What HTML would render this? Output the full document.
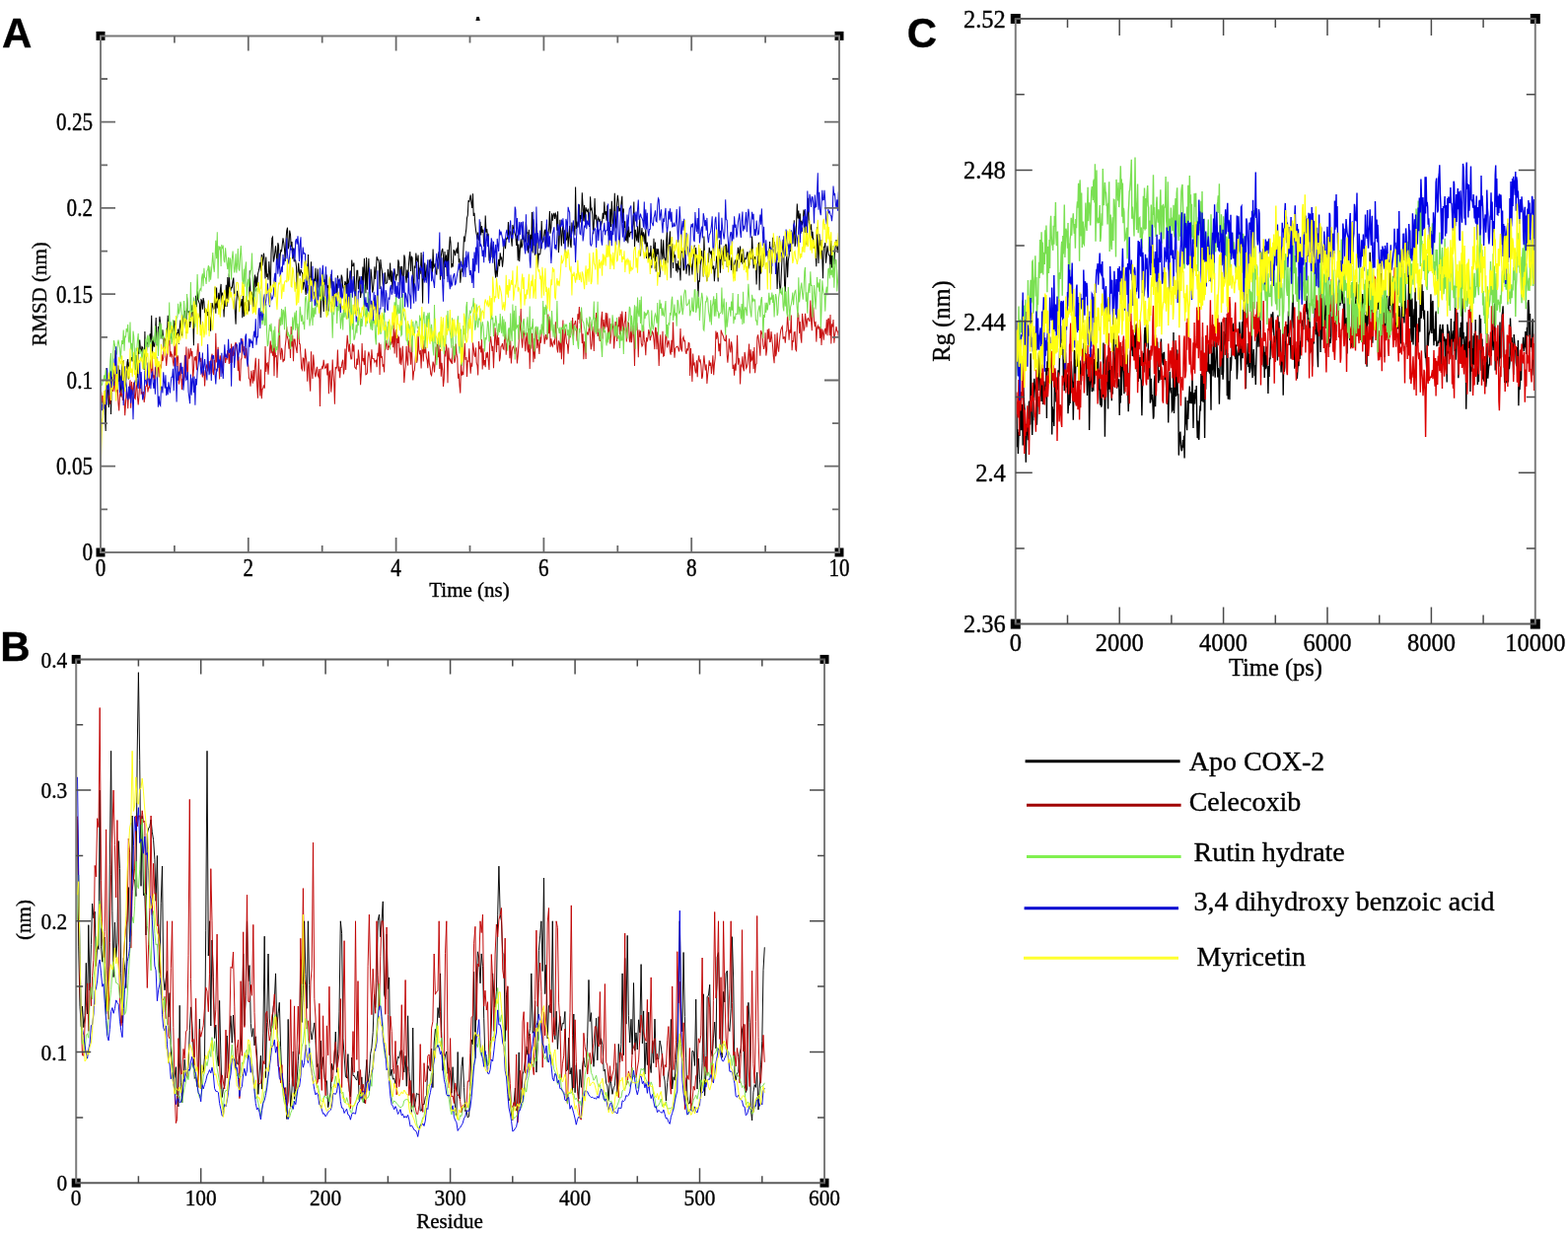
<!DOCTYPE html>
<html><head><meta charset="utf-8"><title>MD analysis plots</title>
<style>html,body{margin:0;padding:0;background:#fff;}svg{display:block;}
text{font-family:"Liberation Serif","Times New Roman",serif;fill:#000;stroke:#000;stroke-width:0.35px;}</style></head>
<body><svg width="1590" height="1250" viewBox="0 0 1590 1250">
<rect width="1590" height="1250" fill="#fff"/>
<defs><clipPath id="cA"><rect x="102.0" y="36.4" width="749.0" height="523.6"/></clipPath><clipPath id="cB"><rect x="77.2" y="668.4" width="758.8" height="530.8000000000001"/></clipPath><clipPath id="cC"><rect x="1029.8" y="19.0" width="527.0" height="613.6"/></clipPath><filter id="bl" x="-2%" y="-2%" width="104%" height="104%"><feGaussianBlur stdDeviation="1.0"/></filter></defs>
<g clip-path="url(#cA)"><polyline points="102.0,414.6 102.7,408.8 103.5,405.2 104.2,408.6 105.0,403.5 105.7,405.6 106.5,421.5 107.2,437.1 108.0,373.0 108.7,392.3 109.5,396.1 110.2,413.1 111.0,404.9 111.7,375.5 112.5,420.1 113.2,390.8 114.0,374.5 114.7,381.8 115.5,374.5 116.2,381.1 117.0,354.9 117.7,395.0 118.5,396.3 119.2,379.2 120.0,370.4 120.7,387.0 121.5,374.7 122.2,393.3 123.0,402.5 123.7,372.5 124.5,366.6 125.2,366.0 126.0,387.7 126.7,392.8 127.5,389.5 128.2,378.7 129.0,367.1 129.7,364.0 130.5,384.4 131.2,367.7 132.0,367.5 132.7,364.9 133.5,362.2 134.2,366.5 135.0,358.5 135.7,364.4 136.5,366.5 137.2,374.6 138.0,360.0 138.7,366.3 139.4,383.1 140.2,352.5 140.9,358.6 141.7,344.5 142.4,353.9 143.2,356.7 143.9,351.6 144.7,352.3 145.4,361.6 146.2,374.9 146.9,335.9 147.7,370.5 148.4,357.9 149.2,346.6 149.9,348.2 150.7,348.1 151.4,343.9 152.2,338.4 152.9,347.1 153.7,319.8 154.4,359.1 155.2,344.0 155.9,350.9 156.7,351.2 157.4,339.0 158.2,322.0 158.9,349.9 159.7,347.7 160.4,331.1 161.2,333.4 161.9,320.7 162.7,327.4 163.4,339.2 164.2,343.5 164.9,334.2 165.7,342.5 166.4,355.9 167.2,344.1 167.9,345.0 168.7,341.3 169.4,338.1 170.2,319.8 170.9,331.9 171.7,327.3 172.4,339.8 173.2,343.3 173.9,337.3 174.7,330.7 175.4,337.0 176.2,335.6 176.9,324.7 177.6,330.4 178.4,343.2 179.1,337.1 179.9,339.7 180.6,333.6 181.4,348.7 182.1,334.0 182.9,324.5 183.6,334.7 184.4,340.5 185.1,335.4 185.9,321.5 186.6,317.6 187.4,315.0 188.1,329.3 188.9,338.0 189.6,301.5 190.4,316.0 191.1,316.4 191.9,315.6 192.6,332.0 193.4,324.5 194.1,318.7 194.9,309.2 195.6,316.3 196.4,350.3 197.1,316.5 197.9,311.0 198.6,299.7 199.4,311.2 200.1,295.2 200.9,303.9 201.6,305.8 202.4,308.2 203.1,331.6 203.9,303.7 204.6,304.2 205.4,313.7 206.1,302.1 206.9,305.8 207.6,317.2 208.4,314.4 209.1,318.3 209.9,313.6 210.6,320.1 211.4,308.1 212.1,334.9 212.9,321.4 213.6,335.8 214.3,321.2 215.1,307.0 215.8,310.5 216.6,313.3 217.3,312.7 218.1,290.8 218.8,317.7 219.6,291.6 220.3,312.5 221.1,304.1 221.8,296.8 222.6,307.0 223.3,294.6 224.1,287.9 224.8,308.7 225.6,296.5 226.3,304.0 227.1,321.4 227.8,304.5 228.6,310.7 229.3,288.8 230.1,311.1 230.8,281.0 231.6,304.6 232.3,277.2 233.1,292.4 233.8,294.7 234.6,291.4 235.3,291.6 236.1,285.1 236.8,281.6 237.6,302.6 238.3,315.9 239.1,328.7 239.8,305.8 240.6,294.9 241.3,299.2 242.1,303.0 242.8,306.7 243.6,310.8 244.3,309.0 245.1,303.0 245.8,322.2 246.6,294.7 247.3,321.0 248.1,306.3 248.8,314.9 249.6,306.6 250.3,317.4 251.1,316.5 251.8,304.3 252.5,315.5 253.3,274.3 254.0,300.9 254.8,300.5 255.5,296.9 256.3,298.4 257.0,311.6 257.8,285.6 258.5,278.6 259.3,295.4 260.0,280.3 260.8,290.0 261.5,277.5 262.3,274.7 263.0,271.0 263.8,265.9 264.5,274.8 265.3,258.0 266.0,269.5 266.8,261.0 267.5,256.7 268.3,266.7 269.0,282.5 269.8,260.4 270.5,280.7 271.3,278.8 272.0,283.7 272.8,265.1 273.5,276.6 274.3,295.2 275.0,257.1 275.8,241.5 276.5,240.3 277.3,265.6 278.0,262.5 278.8,256.1 279.5,249.4 280.3,258.7 281.0,268.8 281.8,246.2 282.5,248.9 283.3,272.4 284.0,261.0 284.8,253.1 285.5,255.3 286.3,247.8 287.0,241.3 287.8,246.3 288.5,252.8 289.2,265.0 290.0,243.5 290.7,234.0 291.5,230.7 292.2,252.4 293.0,249.3 293.7,233.6 294.5,237.6 295.2,250.1 296.0,245.1 296.7,262.4 297.5,251.6 298.2,265.2 299.0,263.5 299.7,264.1 300.5,270.1 301.2,293.0 302.0,277.9 302.7,266.5 303.5,275.9 304.2,279.7 305.0,273.0 305.7,275.9 306.5,276.3 307.2,293.8 308.0,283.4 308.7,287.1 309.5,293.2 310.2,298.9 311.0,284.8 311.7,290.6 312.5,258.0 313.2,282.1 314.0,282.6 314.7,287.7 315.5,265.2 316.2,291.8 317.0,283.0 317.7,290.7 318.5,283.4 319.2,284.1 320.0,271.7 320.7,301.2 321.5,285.8 322.2,272.5 323.0,292.3 323.7,290.5 324.5,302.6 325.2,322.1 326.0,296.0 326.7,282.0 327.4,302.5 328.2,315.9 328.9,283.3 329.7,288.7 330.4,277.8 331.2,279.5 331.9,291.8 332.7,289.2 333.4,315.6 334.2,282.5 334.9,292.4 335.7,278.1 336.4,280.2 337.2,294.3 337.9,285.2 338.7,295.5 339.4,311.1 340.2,290.4 340.9,287.5 341.7,298.9 342.4,279.3 343.2,287.9 343.9,283.6 344.7,290.1 345.4,298.2 346.2,278.6 346.9,281.1 347.7,291.4 348.4,292.9 349.2,291.7 349.9,285.1 350.7,287.1 351.4,301.6 352.2,271.7 352.9,297.2 353.7,284.4 354.4,281.4 355.2,274.6 355.9,296.6 356.7,263.5 357.4,269.6 358.2,269.3 358.9,266.5 359.7,290.8 360.4,318.0 361.2,287.8 361.9,274.2 362.7,274.2 363.4,293.1 364.1,285.4 364.9,280.1 365.6,302.0 366.4,296.1 367.1,296.2 367.9,270.6 368.6,290.6 369.4,261.9 370.1,275.5 370.9,297.2 371.6,261.0 372.4,293.8 373.1,276.5 373.9,262.1 374.6,286.6 375.4,293.5 376.1,272.7 376.9,281.7 377.6,296.5 378.4,293.6 379.1,284.7 379.9,270.3 380.6,283.0 381.4,272.9 382.1,260.2 382.9,263.3 383.6,263.1 384.4,266.8 385.1,293.0 385.9,263.0 386.6,270.4 387.4,274.7 388.1,286.9 388.9,294.4 389.6,288.8 390.4,276.4 391.1,287.5 391.9,287.1 392.6,286.6 393.4,272.9 394.1,279.1 394.9,283.8 395.6,266.5 396.4,285.6 397.1,274.4 397.9,293.4 398.6,277.2 399.4,275.1 400.1,273.6 400.9,279.4 401.6,284.5 402.3,278.6 403.1,279.0 403.8,263.3 404.6,266.6 405.3,289.4 406.1,270.0 406.8,279.8 407.6,269.7 408.3,281.2 409.1,288.0 409.8,258.5 410.6,261.6 411.3,278.7 412.1,286.7 412.8,273.6 413.6,281.6 414.3,270.5 415.1,260.0 415.8,255.0 416.6,274.9 417.3,259.8 418.1,261.5 418.8,281.7 419.6,297.8 420.3,269.6 421.1,271.8 421.8,256.6 422.6,263.8 423.3,264.7 424.1,258.6 424.8,283.2 425.6,271.6 426.3,277.8 427.1,256.1 427.8,272.3 428.6,307.5 429.3,258.0 430.1,284.3 430.8,266.4 431.6,283.5 432.3,275.8 433.1,268.4 433.8,277.1 434.6,289.8 435.3,263.3 436.1,270.8 436.8,271.4 437.6,264.7 438.3,280.0 439.1,252.5 439.8,271.2 440.5,270.1 441.3,267.2 442.0,276.4 442.8,278.6 443.5,264.1 444.3,261.2 445.0,255.4 445.8,264.7 446.5,283.8 447.3,259.6 448.0,254.4 448.8,252.0 449.5,259.8 450.3,283.0 451.0,255.0 451.8,270.9 452.5,258.6 453.3,280.0 454.0,252.9 454.8,273.8 455.5,250.9 456.3,239.9 457.0,245.9 457.8,271.5 458.5,267.2 459.3,270.6 460.0,253.6 460.8,254.1 461.5,259.2 462.3,254.7 463.0,252.6 463.8,256.9 464.5,245.5 465.3,266.3 466.0,262.2 466.8,286.8 467.5,277.5 468.3,272.0 469.0,275.7 469.8,254.9 470.5,239.5 471.3,245.1 472.0,238.0 472.8,232.1 473.5,221.1 474.3,218.1 475.0,203.8 475.8,204.2 476.5,201.3 477.2,197.6 478.0,206.1 478.7,210.9 479.5,196.3 480.2,218.9 481.0,215.7 481.7,225.8 482.5,233.4 483.2,237.2 484.0,242.8 484.7,235.5 485.5,243.5 486.2,241.3 487.0,224.7 487.7,238.5 488.5,229.1 489.2,235.9 490.0,232.7 490.7,250.0 491.5,246.2 492.2,218.4 493.0,235.6 493.7,232.1 494.5,239.6 495.2,238.3 496.0,263.3 496.7,262.2 497.5,251.7 498.2,245.6 499.0,259.5 499.7,258.3 500.5,260.0 501.2,261.7 502.0,276.0 502.7,281.6 503.5,264.6 504.2,280.7 505.0,270.0 505.7,262.9 506.5,270.0 507.2,256.4 508.0,262.2 508.7,260.5 509.5,270.6 510.2,263.6 511.0,246.0 511.7,244.0 512.5,252.1 513.2,242.9 514.0,241.3 514.7,241.9 515.4,224.9 516.2,242.5 516.9,234.3 517.7,235.3 518.4,241.8 519.2,249.8 519.9,227.9 520.7,231.7 521.4,232.3 522.2,237.1 522.9,239.6 523.7,249.0 524.4,238.4 525.2,264.2 525.9,247.5 526.7,265.1 527.4,252.1 528.2,242.3 528.9,251.4 529.7,248.6 530.4,237.7 531.2,242.4 531.9,242.9 532.7,245.4 533.4,225.1 534.2,236.4 534.9,235.8 535.7,256.4 536.4,232.8 537.2,251.7 537.9,237.7 538.7,252.4 539.4,215.0 540.2,256.4 540.9,222.3 541.7,231.6 542.4,258.8 543.2,246.4 543.9,226.7 544.7,234.7 545.4,271.5 546.2,257.4 546.9,258.0 547.7,257.8 548.4,251.3 549.2,224.0 549.9,243.2 550.7,245.2 551.4,241.9 552.1,234.4 552.9,232.6 553.6,249.2 554.4,227.1 555.1,250.5 555.9,236.8 556.6,231.8 557.4,214.0 558.1,236.7 558.9,230.7 559.6,216.3 560.4,223.6 561.1,218.1 561.9,215.8 562.6,221.9 563.4,216.7 564.1,218.5 564.9,233.8 565.6,214.2 566.4,256.1 567.1,244.9 567.9,222.7 568.6,234.5 569.4,249.5 570.1,234.1 570.9,229.0 571.6,247.2 572.4,233.3 573.1,239.9 573.9,243.7 574.6,242.3 575.4,228.8 576.1,250.4 576.9,239.9 577.6,228.9 578.4,247.6 579.1,251.2 579.9,225.6 580.6,231.0 581.4,233.1 582.1,228.7 582.9,238.5 583.6,189.4 584.4,232.1 585.1,224.5 585.9,230.7 586.6,224.7 587.4,207.3 588.1,225.4 588.9,218.1 589.6,222.0 590.3,195.2 591.1,209.1 591.8,224.3 592.6,207.9 593.3,225.1 594.1,210.4 594.8,213.6 595.6,214.4 596.3,211.5 597.1,226.7 597.8,229.9 598.6,199.2 599.3,213.3 600.1,211.6 600.8,217.5 601.6,237.3 602.3,226.9 603.1,201.0 603.8,222.4 604.6,217.8 605.3,230.7 606.1,222.8 606.8,220.5 607.6,224.0 608.3,223.0 609.1,229.8 609.8,227.3 610.6,224.3 611.3,215.9 612.1,221.9 612.8,204.6 613.6,217.6 614.3,214.0 615.1,223.8 615.8,208.3 616.6,230.7 617.3,239.1 618.1,233.0 618.8,211.7 619.6,230.1 620.3,203.8 621.1,217.7 621.8,234.5 622.6,219.1 623.3,195.8 624.1,226.1 624.8,231.4 625.6,206.3 626.3,197.8 627.0,203.3 627.8,214.4 628.5,210.9 629.3,214.3 630.0,205.2 630.8,198.8 631.5,226.0 632.3,211.4 633.0,231.0 633.8,224.3 634.5,243.3 635.3,244.0 636.0,229.2 636.8,246.4 637.5,229.5 638.3,240.5 639.0,236.2 639.8,235.1 640.5,235.5 641.3,232.2 642.0,226.7 642.8,204.5 643.5,250.2 644.3,232.7 645.0,238.7 645.8,244.5 646.5,229.2 647.3,245.9 648.0,234.7 648.8,221.4 649.5,259.4 650.3,237.0 651.0,231.1 651.8,245.2 652.5,235.3 653.3,238.2 654.0,247.4 654.8,232.2 655.5,261.9 656.3,245.5 657.0,253.0 657.8,264.7 658.5,256.3 659.3,259.7 660.0,248.9 660.8,271.8 661.5,256.8 662.3,261.4 663.0,241.8 663.8,271.9 664.5,245.6 665.2,275.5 666.0,251.9 666.7,257.7 667.5,252.4 668.2,263.1 669.0,281.0 669.7,271.9 670.5,242.5 671.2,255.4 672.0,263.1 672.7,243.2 673.5,260.8 674.2,262.2 675.0,271.2 675.7,244.5 676.5,232.6 677.2,266.5 678.0,249.3 678.7,244.9 679.5,234.4 680.2,281.8 681.0,254.2 681.7,246.9 682.5,271.9 683.2,254.2 684.0,261.3 684.7,258.3 685.5,274.7 686.2,267.0 687.0,276.4 687.7,264.2 688.5,273.4 689.2,271.7 690.0,284.4 690.7,253.8 691.5,255.5 692.2,254.4 693.0,273.8 693.7,273.7 694.5,253.8 695.2,260.2 696.0,277.8 696.7,269.8 697.5,268.0 698.2,268.0 699.0,279.4 699.7,256.1 700.5,266.4 701.2,268.7 701.9,278.4 702.7,265.2 703.4,259.5 704.2,248.6 704.9,267.7 705.7,251.0 706.4,264.9 707.2,277.7 707.9,301.3 708.7,284.2 709.4,285.7 710.2,269.2 710.9,263.2 711.7,254.1 712.4,267.5 713.2,280.4 713.9,239.6 714.7,264.4 715.4,277.9 716.2,279.0 716.9,285.1 717.7,262.5 718.4,266.1 719.2,250.9 719.9,255.3 720.7,257.0 721.4,254.4 722.2,271.0 722.9,272.2 723.7,269.5 724.4,285.3 725.2,272.6 725.9,272.0 726.7,259.6 727.4,265.9 728.2,285.4 728.9,258.2 729.7,243.3 730.4,276.7 731.2,261.0 731.9,253.7 732.7,268.8 733.4,258.8 734.2,249.2 734.9,264.9 735.7,248.1 736.4,248.1 737.2,270.7 737.9,254.9 738.6,245.4 739.4,264.4 740.1,258.8 740.9,261.6 741.6,273.9 742.4,260.8 743.1,269.7 743.9,281.8 744.6,269.2 745.4,264.6 746.1,263.5 746.9,275.3 747.6,261.2 748.4,250.9 749.1,263.4 749.9,253.4 750.6,249.5 751.4,266.0 752.1,257.2 752.9,267.8 753.6,252.5 754.4,265.8 755.1,265.4 755.9,261.8 756.6,262.2 757.4,257.0 758.1,255.2 758.9,272.4 759.6,266.7 760.4,254.3 761.1,258.1 761.9,263.2 762.6,239.5 763.4,255.8 764.1,272.3 764.9,266.3 765.6,260.0 766.4,266.9 767.1,288.5 767.9,268.1 768.6,265.3 769.4,245.7 770.1,294.3 770.9,258.7 771.6,277.6 772.4,262.4 773.1,270.0 773.9,268.5 774.6,251.7 775.4,259.4 776.1,247.3 776.8,259.2 777.6,257.0 778.3,255.6 779.1,260.7 779.8,256.7 780.6,244.9 781.3,271.5 782.1,277.7 782.8,259.5 783.6,240.7 784.3,251.0 785.1,245.0 785.8,248.9 786.6,268.3 787.3,263.6 788.1,292.9 788.8,273.0 789.6,260.0 790.3,285.4 791.1,296.7 791.8,289.3 792.6,270.4 793.3,256.4 794.1,242.7 794.8,258.2 795.6,289.5 796.3,295.9 797.1,268.0 797.8,257.4 798.6,281.3 799.3,264.4 800.1,259.5 800.8,254.5 801.6,254.5 802.3,245.3 803.1,241.0 803.8,247.1 804.6,237.4 805.3,223.2 806.1,250.0 806.8,246.5 807.6,225.7 808.3,206.5 809.1,221.5 809.8,213.5 810.6,231.0 811.3,216.4 812.1,236.6 812.8,223.7 813.5,227.1 814.3,224.8 815.0,212.6 815.8,215.6 816.5,236.1 817.3,219.7 818.0,248.3 818.8,221.5 819.5,200.7 820.3,225.4 821.0,229.6 821.8,233.0 822.5,227.3 823.3,241.4 824.0,234.9 824.8,246.5 825.5,251.9 826.3,249.5 827.0,257.2 827.8,270.2 828.5,230.1 829.3,250.2 830.0,267.0 830.8,237.3 831.5,248.1 832.3,249.3 833.0,243.3 833.8,261.5 834.5,282.2 835.3,250.6 836.0,250.1 836.8,246.0 837.5,266.7 838.3,258.4 839.0,249.2 839.8,255.0 840.5,258.8 841.3,259.1 842.0,272.7 842.8,244.0 843.5,271.4 844.3,258.8 845.0,262.1 845.8,268.2 846.5,255.9 847.3,249.1 848.0,243.0 848.8,251.7 849.5,256.1 850.3,242.2 851.0,266.3" fill="none" stroke="#000000" stroke-width="1.05" stroke-opacity="1.0"/><polyline points="102.0,399.1 102.7,397.4 103.5,407.7 104.2,401.1 105.0,407.6 105.7,413.1 106.5,396.1 107.2,407.7 108.0,403.4 108.7,380.0 109.5,388.3 110.2,389.9 111.0,402.4 111.7,409.7 112.5,381.8 113.2,395.9 114.0,393.1 114.7,396.9 115.5,392.7 116.2,369.3 117.0,396.7 117.7,398.3 118.5,392.6 119.2,393.4 120.0,409.3 120.7,416.4 121.5,400.1 122.2,395.5 123.0,401.2 123.7,399.1 124.5,405.9 125.2,402.5 126.0,406.0 126.7,421.3 127.5,407.6 128.2,395.4 129.0,399.2 129.7,414.2 130.5,398.1 131.2,393.4 132.0,385.3 132.7,413.7 133.5,387.0 134.2,400.3 135.0,393.8 135.7,387.5 136.5,403.2 137.2,404.2 138.0,393.0 138.7,386.3 139.4,402.4 140.2,410.5 140.9,401.9 141.7,389.5 142.4,381.7 143.2,399.0 143.9,398.0 144.7,400.2 145.4,397.1 146.2,408.0 146.9,402.5 147.7,391.9 148.4,391.5 149.2,383.8 149.9,397.4 150.7,393.0 151.4,393.0 152.2,369.1 152.9,364.2 153.7,378.5 154.4,360.6 155.2,382.1 155.9,381.2 156.7,388.4 157.4,372.3 158.2,379.5 158.9,371.0 159.7,366.1 160.4,371.9 161.2,382.5 161.9,369.7 162.7,371.3 163.4,372.5 164.2,359.2 164.9,366.0 165.7,362.8 166.4,342.6 167.2,348.3 167.9,359.9 168.7,371.0 169.4,362.6 170.2,354.1 170.9,348.1 171.7,335.6 172.4,361.8 173.2,356.2 173.9,361.3 174.7,359.7 175.4,366.7 176.2,371.4 176.9,350.6 177.6,360.4 178.4,348.6 179.1,371.6 179.9,360.2 180.6,362.1 181.4,389.6 182.1,384.9 182.9,367.9 183.6,374.7 184.4,394.9 185.1,383.8 185.9,390.1 186.6,383.5 187.4,359.7 188.1,382.8 188.9,351.6 189.6,375.2 190.4,379.8 191.1,353.4 191.9,363.7 192.6,360.6 193.4,353.1 194.1,361.3 194.9,355.9 195.6,384.7 196.4,375.2 197.1,361.6 197.9,365.3 198.6,361.1 199.4,375.3 200.1,356.2 200.9,348.0 201.6,364.5 202.4,361.7 203.1,366.8 203.9,362.9 204.6,376.1 205.4,382.5 206.1,375.4 206.9,375.4 207.6,391.4 208.4,376.8 209.1,372.0 209.9,369.3 210.6,376.5 211.4,369.8 212.1,366.1 212.9,378.9 213.6,368.3 214.3,362.2 215.1,358.7 215.8,377.0 216.6,380.1 217.3,364.9 218.1,375.4 218.8,337.7 219.6,366.9 220.3,366.5 221.1,351.9 221.8,363.3 222.6,384.5 223.3,360.4 224.1,369.2 224.8,366.1 225.6,378.4 226.3,370.0 227.1,361.0 227.8,358.8 228.6,368.0 229.3,363.3 230.1,364.0 230.8,355.0 231.6,359.4 232.3,368.9 233.1,354.4 233.8,367.9 234.6,348.4 235.3,367.8 236.1,351.4 236.8,360.9 237.6,358.3 238.3,349.6 239.1,347.0 239.8,353.0 240.6,356.8 241.3,376.1 242.1,361.5 242.8,385.3 243.6,385.8 244.3,364.7 245.1,362.8 245.8,343.3 246.6,352.1 247.3,351.6 248.1,362.7 248.8,363.0 249.6,352.9 250.3,362.3 251.1,365.8 251.8,370.8 252.5,383.7 253.3,384.4 254.0,391.8 254.8,375.9 255.5,381.7 256.3,388.6 257.0,375.1 257.8,386.5 258.5,372.1 259.3,362.7 260.0,377.2 260.8,393.1 261.5,403.7 262.3,363.7 263.0,384.4 263.8,401.5 264.5,374.4 265.3,404.3 266.0,394.7 266.8,393.6 267.5,390.3 268.3,393.7 269.0,351.1 269.8,376.9 270.5,368.8 271.3,367.8 272.0,379.6 272.8,367.7 273.5,354.6 274.3,345.5 275.0,358.3 275.8,349.5 276.5,360.6 277.3,346.4 278.0,381.3 278.8,348.2 279.5,362.1 280.3,360.1 281.0,383.1 281.8,363.9 282.5,342.3 283.3,323.6 284.0,357.3 284.8,364.6 285.5,352.8 286.3,355.7 287.0,367.2 287.8,364.6 288.5,365.0 289.2,351.2 290.0,344.3 290.7,331.1 291.5,342.4 292.2,344.6 293.0,353.7 293.7,343.3 294.5,363.1 295.2,331.1 296.0,351.5 296.7,339.9 297.5,366.3 298.2,344.1 299.0,344.1 299.7,350.0 300.5,354.2 301.2,357.9 302.0,331.7 302.7,333.8 303.5,348.5 304.2,348.7 305.0,361.0 305.7,373.4 306.5,375.0 307.2,362.9 308.0,363.5 308.7,376.5 309.5,353.5 310.2,361.1 311.0,368.2 311.7,386.8 312.5,370.2 313.2,366.4 314.0,386.5 314.7,396.7 315.5,356.3 316.2,374.2 317.0,384.0 317.7,359.6 318.5,368.8 319.2,378.7 320.0,382.3 320.7,376.2 321.5,371.8 322.2,380.4 323.0,382.0 323.7,374.0 324.5,411.9 325.2,374.2 326.0,374.1 326.7,371.7 327.4,373.1 328.2,364.8 328.9,371.0 329.7,373.5 330.4,372.6 331.2,368.6 331.9,380.5 332.7,368.2 333.4,399.2 334.2,377.2 334.9,376.2 335.7,397.6 336.4,389.1 337.2,364.5 337.9,379.1 338.7,388.0 339.4,409.7 340.2,371.9 340.9,373.6 341.7,372.0 342.4,354.5 343.2,376.3 343.9,371.6 344.7,383.1 345.4,372.4 346.2,372.4 346.9,367.3 347.7,364.7 348.4,379.4 349.2,374.2 349.9,353.4 350.7,374.9 351.4,352.7 352.2,339.9 352.9,348.3 353.7,356.7 354.4,348.5 355.2,358.2 355.9,363.9 356.7,363.8 357.4,348.3 358.2,356.5 358.9,349.4 359.7,372.0 360.4,373.1 361.2,374.0 361.9,363.5 362.7,369.9 363.4,354.5 364.1,361.8 364.9,371.4 365.6,390.3 366.4,377.3 367.1,348.0 367.9,366.3 368.6,363.0 369.4,370.1 370.1,355.3 370.9,379.8 371.6,379.5 372.4,378.1 373.1,362.1 373.9,356.5 374.6,360.0 375.4,366.7 376.1,377.7 376.9,354.3 377.6,363.1 378.4,363.7 379.1,363.6 379.9,367.2 380.6,365.8 381.4,365.2 382.1,372.1 382.9,357.8 383.6,361.3 384.4,347.5 385.1,379.9 385.9,348.7 386.6,362.2 387.4,361.7 388.1,371.7 388.9,369.3 389.6,377.4 390.4,346.2 391.1,354.5 391.9,345.9 392.6,346.6 393.4,354.9 394.1,351.1 394.9,351.7 395.6,338.9 396.4,349.6 397.1,347.6 397.9,340.7 398.6,352.2 399.4,326.6 400.1,358.4 400.9,337.8 401.6,333.9 402.3,362.6 403.1,339.5 403.8,348.0 404.6,341.3 405.3,368.7 406.1,352.5 406.8,370.1 407.6,363.0 408.3,350.8 409.1,367.5 409.8,388.1 410.6,377.3 411.3,371.3 412.1,350.9 412.8,365.3 413.6,370.6 414.3,345.2 415.1,356.9 415.8,357.4 416.6,369.7 417.3,344.8 418.1,367.8 418.8,385.5 419.6,376.6 420.3,375.5 421.1,364.9 421.8,355.2 422.6,367.8 423.3,364.8 424.1,335.0 424.8,354.9 425.6,359.5 426.3,355.1 427.1,373.4 427.8,355.5 428.6,349.2 429.3,366.6 430.1,344.8 430.8,358.2 431.6,351.7 432.3,362.0 433.1,365.1 433.8,373.1 434.6,356.4 435.3,368.1 436.1,372.2 436.8,379.3 437.6,380.7 438.3,374.9 439.1,366.5 439.8,369.4 440.5,377.5 441.3,366.3 442.0,351.5 442.8,365.0 443.5,344.3 444.3,362.3 445.0,349.3 445.8,373.9 446.5,353.7 447.3,381.8 448.0,367.8 448.8,375.1 449.5,391.9 450.3,384.0 451.0,355.6 451.8,361.5 452.5,348.8 453.3,356.2 454.0,388.2 454.8,352.6 455.5,363.1 456.3,365.9 457.0,364.1 457.8,367.9 458.5,368.3 459.3,349.9 460.0,351.8 460.8,367.8 461.5,365.7 462.3,348.6 463.0,359.2 463.8,362.9 464.5,383.7 465.3,378.7 466.0,391.0 466.8,398.6 467.5,366.9 468.3,380.6 469.0,377.9 469.8,380.2 470.5,361.7 471.3,347.9 472.0,364.8 472.8,362.0 473.5,382.0 474.3,366.0 475.0,366.4 475.8,353.3 476.5,367.8 477.2,378.8 478.0,367.9 478.7,371.7 479.5,347.4 480.2,352.7 481.0,359.9 481.7,361.7 482.5,352.4 483.2,368.0 484.0,370.6 484.7,380.4 485.5,346.0 486.2,353.9 487.0,352.0 487.7,357.4 488.5,343.9 489.2,374.6 490.0,353.2 490.7,370.4 491.5,365.1 492.2,372.2 493.0,357.4 493.7,362.8 494.5,356.8 495.2,365.4 496.0,374.9 496.7,349.4 497.5,341.1 498.2,346.9 499.0,355.9 499.7,350.8 500.5,373.3 501.2,354.4 502.0,332.3 502.7,343.3 503.5,357.1 504.2,336.7 505.0,349.9 505.7,342.1 506.5,366.3 507.2,362.7 508.0,351.1 508.7,351.0 509.5,348.1 510.2,353.6 511.0,354.4 511.7,340.8 512.5,336.1 513.2,359.7 514.0,348.3 514.7,346.5 515.4,343.8 516.2,335.4 516.9,363.3 517.7,345.4 518.4,368.5 519.2,355.9 519.9,352.2 520.7,351.2 521.4,353.8 522.2,359.0 522.9,354.0 523.7,352.8 524.4,368.5 525.2,360.4 525.9,351.1 526.7,338.2 527.4,334.3 528.2,312.9 528.9,343.7 529.7,352.6 530.4,338.5 531.2,335.0 531.9,342.5 532.7,356.2 533.4,345.0 534.2,337.2 534.9,353.9 535.7,357.4 536.4,333.1 537.2,374.1 537.9,349.4 538.7,353.5 539.4,337.8 540.2,347.3 540.9,367.3 541.7,343.1 542.4,363.7 543.2,332.6 543.9,332.8 544.7,353.2 545.4,344.4 546.2,349.9 546.9,359.0 547.7,341.6 548.4,347.8 549.2,337.6 549.9,335.0 550.7,330.3 551.4,334.1 552.1,348.8 552.9,343.9 553.6,339.2 554.4,344.0 555.1,343.1 555.9,318.4 556.6,338.2 557.4,321.6 558.1,351.7 558.9,343.4 559.6,349.4 560.4,351.0 561.1,347.2 561.9,345.5 562.6,349.6 563.4,326.3 564.1,338.1 564.9,353.4 565.6,357.4 566.4,345.4 567.1,347.7 567.9,357.6 568.6,337.0 569.4,364.3 570.1,348.5 570.9,324.6 571.6,369.6 572.4,344.9 573.1,333.4 573.9,341.2 574.6,348.2 575.4,349.3 576.1,358.6 576.9,345.9 577.6,335.0 578.4,342.2 579.1,336.2 579.9,332.9 580.6,322.1 581.4,343.8 582.1,329.0 582.9,327.7 583.6,325.1 584.4,333.0 585.1,345.6 585.9,318.2 586.6,324.0 587.4,311.1 588.1,328.0 588.9,316.2 589.6,333.4 590.3,348.1 591.1,338.3 591.8,364.3 592.6,346.8 593.3,347.0 594.1,364.1 594.8,336.6 595.6,337.3 596.3,339.7 597.1,334.7 597.8,325.9 598.6,344.2 599.3,354.3 600.1,349.1 600.8,331.0 601.6,339.5 602.3,356.1 603.1,325.5 603.8,332.2 604.6,317.1 605.3,322.5 606.1,340.9 606.8,333.4 607.6,342.9 608.3,345.9 609.1,336.0 609.8,323.3 610.6,315.9 611.3,343.5 612.1,324.1 612.8,334.0 613.6,330.1 614.3,317.0 615.1,331.6 615.8,317.4 616.6,336.7 617.3,340.9 618.1,322.5 618.8,348.6 619.6,340.0 620.3,328.4 621.1,328.1 621.8,333.6 622.6,353.4 623.3,343.7 624.1,326.6 624.8,326.7 625.6,346.1 626.3,329.4 627.0,331.3 627.8,321.3 628.5,339.4 629.3,318.2 630.0,336.0 630.8,315.6 631.5,325.1 632.3,344.8 633.0,328.8 633.8,324.4 634.5,316.0 635.3,346.5 636.0,336.7 636.8,327.1 637.5,327.4 638.3,344.9 639.0,347.1 639.8,330.4 640.5,347.3 641.3,337.1 642.0,330.0 642.8,342.7 643.5,371.0 644.3,330.0 645.0,331.6 645.8,327.3 646.5,337.1 647.3,362.2 648.0,334.3 648.8,341.8 649.5,335.2 650.3,347.9 651.0,351.0 651.8,349.5 652.5,330.2 653.3,344.9 654.0,347.3 654.8,360.3 655.5,342.2 656.3,346.3 657.0,342.2 657.8,334.1 658.5,337.1 659.3,345.2 660.0,341.5 660.8,339.7 661.5,336.3 662.3,337.7 663.0,344.3 663.8,354.1 664.5,332.4 665.2,332.7 666.0,354.2 666.7,336.4 667.5,349.0 668.2,371.1 669.0,349.6 669.7,339.3 670.5,357.2 671.2,358.6 672.0,335.8 672.7,361.2 673.5,360.5 674.2,351.5 675.0,339.9 675.7,340.5 676.5,352.5 677.2,348.6 678.0,345.0 678.7,349.1 679.5,357.1 680.2,359.6 681.0,344.7 681.7,357.0 682.5,326.6 683.2,347.1 684.0,362.8 684.7,353.6 685.5,352.0 686.2,351.4 687.0,351.2 687.7,352.9 688.5,356.5 689.2,351.9 690.0,333.1 690.7,354.1 691.5,355.5 692.2,343.5 693.0,341.5 693.7,345.6 694.5,345.2 695.2,356.3 696.0,358.9 696.7,353.3 697.5,355.4 698.2,347.5 699.0,348.1 699.7,381.0 700.5,352.9 701.2,370.8 701.9,387.1 702.7,358.5 703.4,369.6 704.2,368.3 704.9,376.0 705.7,378.4 706.4,365.3 707.2,382.3 707.9,366.7 708.7,360.2 709.4,366.5 710.2,365.2 710.9,370.8 711.7,384.0 712.4,381.6 713.2,369.0 713.9,360.2 714.7,369.1 715.4,375.4 716.2,369.4 716.9,388.9 717.7,379.3 718.4,374.5 719.2,365.4 719.9,370.9 720.7,367.6 721.4,379.0 722.2,370.8 722.9,360.2 723.7,380.2 724.4,369.6 725.2,362.9 725.9,335.6 726.7,343.8 727.4,336.9 728.2,342.9 728.9,356.1 729.7,348.3 730.4,361.1 731.2,334.6 731.9,336.9 732.7,339.3 733.4,340.8 734.2,344.0 734.9,345.3 735.7,345.5 736.4,339.6 737.2,359.7 737.9,367.8 738.6,358.7 739.4,343.2 740.1,352.8 740.9,357.4 741.6,346.3 742.4,351.7 743.1,374.0 743.9,369.8 744.6,380.8 745.4,368.5 746.1,375.6 746.9,361.0 747.6,339.7 748.4,369.7 749.1,362.9 749.9,366.5 750.6,389.6 751.4,369.4 752.1,370.9 752.9,361.4 753.6,372.6 754.4,376.3 755.1,356.9 755.9,361.7 756.6,373.3 757.4,371.8 758.1,368.6 758.9,358.9 759.6,348.6 760.4,378.6 761.1,354.3 761.9,365.7 762.6,364.6 763.4,356.0 764.1,374.3 764.9,351.9 765.6,378.2 766.4,369.5 767.1,368.7 767.9,342.1 768.6,339.3 769.4,345.3 770.1,352.2 770.9,360.8 771.6,335.0 772.4,337.3 773.1,339.2 773.9,350.2 774.6,353.8 775.4,350.4 776.1,337.2 776.8,360.6 777.6,354.9 778.3,334.0 779.1,343.6 779.8,333.0 780.6,346.6 781.3,346.4 782.1,336.0 782.8,343.7 783.6,351.3 784.3,361.5 785.1,368.3 785.8,338.7 786.6,361.3 787.3,358.4 788.1,337.4 788.8,351.8 789.6,356.7 790.3,347.4 791.1,339.8 791.8,334.6 792.6,332.1 793.3,330.8 794.1,343.8 794.8,341.8 795.6,341.8 796.3,347.8 797.1,336.4 797.8,335.4 798.6,318.6 799.3,329.9 800.1,344.8 800.8,334.2 801.6,337.7 802.3,319.4 803.1,355.2 803.8,345.6 804.6,346.1 805.3,336.8 806.1,336.5 806.8,354.3 807.6,355.6 808.3,334.6 809.1,316.8 809.8,319.4 810.6,337.9 811.3,325.9 812.1,342.8 812.8,347.7 813.5,317.9 814.3,325.2 815.0,335.7 815.8,332.7 816.5,317.7 817.3,324.6 818.0,331.6 818.8,323.2 819.5,322.6 820.3,324.6 821.0,326.0 821.8,304.5 822.5,323.8 823.3,335.2 824.0,309.1 824.8,312.3 825.5,325.6 826.3,331.3 827.0,325.8 827.8,346.6 828.5,332.4 829.3,330.2 830.0,333.6 830.8,331.0 831.5,343.0 832.3,331.3 833.0,349.9 833.8,333.5 834.5,337.0 835.3,344.7 836.0,335.6 836.8,332.9 837.5,338.6 838.3,324.0 839.0,340.2 839.8,323.3 840.5,323.2 841.3,340.2 842.0,319.0 842.8,348.6 843.5,328.4 844.3,331.3 845.0,324.1 845.8,347.8 846.5,340.1 847.3,335.7 848.0,331.2 848.8,335.8 849.5,335.9 850.3,341.1 851.0,346.1" fill="none" stroke="#c81414" stroke-width="1.05" stroke-opacity="1.0"/><polyline points="102.0,394.8 102.7,390.3 103.5,390.3 104.2,386.1 105.0,385.3 105.7,380.3 106.5,384.8 107.2,374.9 108.0,396.6 108.7,382.6 109.5,392.9 110.2,379.7 111.0,385.9 111.7,366.2 112.5,358.1 113.2,382.0 114.0,374.7 114.7,359.9 115.5,345.0 116.2,348.9 117.0,353.8 117.7,357.2 118.5,358.5 119.2,348.9 120.0,344.7 120.7,349.0 121.5,353.1 122.2,364.1 123.0,354.4 123.7,345.1 124.5,349.0 125.2,334.6 126.0,355.7 126.7,341.2 127.5,341.7 128.2,333.1 129.0,336.4 129.7,328.9 130.5,345.9 131.2,347.5 132.0,326.5 132.7,354.4 133.5,347.8 134.2,365.6 135.0,335.5 135.7,340.9 136.5,357.7 137.2,375.8 138.0,353.9 138.7,354.9 139.4,344.9 140.2,338.1 140.9,355.2 141.7,359.0 142.4,354.3 143.2,357.0 143.9,364.2 144.7,359.8 145.4,353.3 146.2,374.0 146.9,368.2 147.7,343.4 148.4,360.5 149.2,342.4 149.9,339.6 150.7,352.1 151.4,340.6 152.2,350.3 152.9,355.1 153.7,346.0 154.4,344.6 155.2,341.8 155.9,344.7 156.7,347.0 157.4,330.3 158.2,346.4 158.9,350.8 159.7,336.2 160.4,361.0 161.2,345.7 161.9,326.3 162.7,343.8 163.4,328.4 164.2,341.6 164.9,342.8 165.7,341.1 166.4,350.2 167.2,351.2 167.9,347.8 168.7,332.5 169.4,339.3 170.2,343.1 170.9,348.9 171.7,306.5 172.4,343.8 173.2,326.3 173.9,349.0 174.7,345.7 175.4,324.2 176.2,345.0 176.9,339.9 177.6,330.4 178.4,331.2 179.1,322.8 179.9,321.2 180.6,307.9 181.4,318.5 182.1,314.7 182.9,305.8 183.6,308.4 184.4,324.2 185.1,338.5 185.9,328.8 186.6,305.0 187.4,321.4 188.1,323.7 188.9,322.7 189.6,298.0 190.4,313.6 191.1,317.9 191.9,321.9 192.6,325.9 193.4,286.0 194.1,316.4 194.9,315.4 195.6,315.5 196.4,301.4 197.1,323.5 197.9,331.6 198.6,313.4 199.4,300.9 200.1,278.1 200.9,296.5 201.6,303.8 202.4,294.8 203.1,292.8 203.9,294.3 204.6,281.4 205.4,277.3 206.1,290.3 206.9,271.7 207.6,281.2 208.4,281.9 209.1,287.9 209.9,274.6 210.6,273.6 211.4,269.0 212.1,285.7 212.9,270.4 213.6,283.8 214.3,276.0 215.1,265.9 215.8,256.0 216.6,271.0 217.3,275.8 218.1,260.6 218.8,243.8 219.6,262.2 220.3,235.2 221.1,282.6 221.8,249.3 222.6,252.2 223.3,249.9 224.1,270.1 224.8,248.1 225.6,251.3 226.3,250.0 227.1,263.8 227.8,266.1 228.6,251.3 229.3,259.6 230.1,267.7 230.8,273.0 231.6,260.7 232.3,281.3 233.1,261.3 233.8,263.7 234.6,283.5 235.3,262.8 236.1,254.5 236.8,264.5 237.6,276.4 238.3,272.1 239.1,257.2 239.8,276.6 240.6,267.9 241.3,251.9 242.1,272.7 242.8,274.6 243.6,258.6 244.3,249.1 245.1,264.3 245.8,283.5 246.6,288.1 247.3,272.4 248.1,290.8 248.8,271.4 249.6,265.4 250.3,306.3 251.1,287.6 251.8,282.9 252.5,290.8 253.3,281.9 254.0,275.2 254.8,272.8 255.5,256.5 256.3,285.6 257.0,300.7 257.8,303.7 258.5,310.2 259.3,291.5 260.0,292.0 260.8,293.3 261.5,295.9 262.3,286.0 263.0,293.7 263.8,295.1 264.5,316.2 265.3,315.7 266.0,329.1 266.8,324.0 267.5,316.0 268.3,329.6 269.0,329.3 269.8,308.0 270.5,334.7 271.3,351.1 272.0,348.5 272.8,335.3 273.5,329.0 274.3,336.2 275.0,327.7 275.8,340.8 276.5,356.2 277.3,334.6 278.0,352.7 278.8,330.7 279.5,357.5 280.3,351.3 281.0,355.0 281.8,349.3 282.5,337.4 283.3,340.0 284.0,321.6 284.8,330.2 285.5,313.1 286.3,329.2 287.0,313.9 287.8,315.8 288.5,334.3 289.2,310.9 290.0,321.2 290.7,333.1 291.5,340.7 292.2,336.6 293.0,341.3 293.7,340.2 294.5,354.0 295.2,339.1 296.0,346.1 296.7,321.6 297.5,334.5 298.2,323.7 299.0,316.6 299.7,335.0 300.5,314.7 301.2,333.1 302.0,328.3 302.7,344.1 303.5,330.1 304.2,310.7 305.0,318.6 305.7,325.9 306.5,319.2 307.2,328.1 308.0,327.0 308.7,334.2 309.5,303.1 310.2,300.0 311.0,307.6 311.7,324.3 312.5,312.7 313.2,292.9 314.0,330.5 314.7,325.3 315.5,321.3 316.2,305.1 317.0,330.0 317.7,312.0 318.5,321.5 319.2,311.6 320.0,318.7 320.7,299.4 321.5,310.7 322.2,310.2 323.0,291.0 323.7,300.3 324.5,281.2 325.2,299.1 326.0,304.2 326.7,303.8 327.4,273.5 328.2,290.6 328.9,304.7 329.7,301.6 330.4,309.0 331.2,299.8 331.9,316.4 332.7,319.5 333.4,308.1 334.2,299.8 334.9,308.5 335.7,306.1 336.4,316.1 337.2,342.7 337.9,317.1 338.7,318.2 339.4,308.5 340.2,293.0 340.9,303.7 341.7,327.9 342.4,310.0 343.2,315.2 343.9,303.9 344.7,314.6 345.4,333.5 346.2,322.7 346.9,317.3 347.7,334.5 348.4,312.1 349.2,321.6 349.9,307.2 350.7,319.4 351.4,323.6 352.2,319.7 352.9,321.1 353.7,310.2 354.4,329.5 355.2,349.0 355.9,297.8 356.7,320.6 357.4,334.4 358.2,308.9 358.9,344.7 359.7,342.8 360.4,337.9 361.2,329.2 361.9,337.6 362.7,321.6 363.4,330.1 364.1,311.6 364.9,317.6 365.6,339.6 366.4,322.8 367.1,330.9 367.9,321.3 368.6,319.4 369.4,288.5 370.1,313.8 370.9,331.5 371.6,312.3 372.4,328.1 373.1,296.0 373.9,312.4 374.6,302.5 375.4,328.3 376.1,334.3 376.9,318.7 377.6,335.0 378.4,324.9 379.1,327.5 379.9,324.2 380.6,342.1 381.4,349.5 382.1,308.8 382.9,331.4 383.6,328.9 384.4,323.1 385.1,326.1 385.9,338.9 386.6,336.5 387.4,317.2 388.1,320.7 388.9,324.2 389.6,312.7 390.4,354.5 391.1,329.4 391.9,331.4 392.6,348.4 393.4,326.4 394.1,326.3 394.9,329.7 395.6,354.4 396.4,339.4 397.1,331.3 397.9,333.0 398.6,325.1 399.4,318.8 400.1,306.2 400.9,322.2 401.6,292.6 402.3,319.3 403.1,317.8 403.8,308.7 404.6,317.7 405.3,317.3 406.1,300.9 406.8,340.2 407.6,339.0 408.3,297.7 409.1,317.5 409.8,320.4 410.6,323.8 411.3,325.8 412.1,345.5 412.8,343.8 413.6,350.0 414.3,328.5 415.1,330.6 415.8,337.2 416.6,334.7 417.3,344.3 418.1,357.1 418.8,325.8 419.6,335.5 420.3,340.0 421.1,329.1 421.8,325.5 422.6,326.3 423.3,332.2 424.1,331.8 424.8,341.4 425.6,319.6 426.3,325.2 427.1,322.3 427.8,343.8 428.6,325.7 429.3,321.2 430.1,316.2 430.8,354.0 431.6,342.8 432.3,319.9 433.1,332.0 433.8,317.3 434.6,326.5 435.3,316.8 436.1,334.3 436.8,342.4 437.6,328.9 438.3,340.5 439.1,354.1 439.8,360.4 440.5,309.0 441.3,347.7 442.0,348.0 442.8,370.2 443.5,357.5 444.3,349.8 445.0,340.9 445.8,336.3 446.5,352.2 447.3,338.3 448.0,328.8 448.8,344.4 449.5,340.3 450.3,359.1 451.0,343.0 451.8,350.5 452.5,322.8 453.3,333.3 454.0,315.0 454.8,334.7 455.5,329.7 456.3,336.8 457.0,341.1 457.8,352.8 458.5,322.2 459.3,342.7 460.0,364.3 460.8,351.4 461.5,360.3 462.3,337.3 463.0,332.7 463.8,326.0 464.5,320.3 465.3,349.3 466.0,358.5 466.8,349.1 467.5,333.6 468.3,371.0 469.0,350.7 469.8,330.0 470.5,339.3 471.3,332.9 472.0,345.4 472.8,311.4 473.5,306.0 474.3,337.9 475.0,332.2 475.8,322.5 476.5,315.7 477.2,317.1 478.0,315.9 478.7,311.4 479.5,310.1 480.2,302.0 481.0,321.4 481.7,334.6 482.5,330.3 483.2,308.5 484.0,326.5 484.7,332.2 485.5,322.6 486.2,324.5 487.0,312.6 487.7,344.8 488.5,331.7 489.2,326.2 490.0,330.6 490.7,342.0 491.5,356.5 492.2,342.1 493.0,344.5 493.7,339.3 494.5,325.5 495.2,327.3 496.0,346.4 496.7,343.4 497.5,328.9 498.2,315.3 499.0,324.2 499.7,321.7 500.5,341.1 501.2,327.6 502.0,330.7 502.7,320.1 503.5,326.7 504.2,335.2 505.0,340.0 505.7,327.7 506.5,336.9 507.2,318.0 508.0,333.1 508.7,337.8 509.5,320.6 510.2,341.2 511.0,323.4 511.7,344.3 512.5,326.2 513.2,342.1 514.0,345.1 514.7,355.7 515.4,334.5 516.2,332.3 516.9,350.3 517.7,317.4 518.4,337.6 519.2,345.9 519.9,308.6 520.7,335.4 521.4,314.7 522.2,364.4 522.9,309.9 523.7,332.5 524.4,331.2 525.2,329.0 525.9,344.4 526.7,320.3 527.4,325.3 528.2,328.0 528.9,336.5 529.7,343.3 530.4,326.4 531.2,323.1 531.9,336.8 532.7,338.8 533.4,340.8 534.2,328.7 534.9,321.2 535.7,338.7 536.4,349.3 537.2,310.4 537.9,353.8 538.7,331.6 539.4,333.6 540.2,323.0 540.9,338.0 541.7,356.4 542.4,347.8 543.2,331.4 543.9,331.2 544.7,339.1 545.4,331.2 546.2,343.3 546.9,345.8 547.7,334.3 548.4,339.3 549.2,328.6 549.9,338.2 550.7,304.9 551.4,340.3 552.1,311.0 552.9,319.0 553.6,309.8 554.4,311.1 555.1,342.4 555.9,323.3 556.6,321.1 557.4,321.3 558.1,325.3 558.9,335.5 559.6,315.0 560.4,333.3 561.1,341.7 561.9,328.7 562.6,338.7 563.4,343.1 564.1,335.8 564.9,305.0 565.6,332.3 566.4,333.1 567.1,337.9 567.9,331.6 568.6,347.7 569.4,331.7 570.1,333.7 570.9,333.1 571.6,328.8 572.4,338.2 573.1,329.1 573.9,330.4 574.6,328.7 575.4,340.3 576.1,334.4 576.9,344.0 577.6,327.1 578.4,341.8 579.1,325.0 579.9,336.1 580.6,339.9 581.4,349.9 582.1,329.4 582.9,331.3 583.6,334.5 584.4,333.0 585.1,335.3 585.9,349.7 586.6,353.8 587.4,333.0 588.1,337.3 588.9,319.4 589.6,311.6 590.3,323.4 591.1,326.3 591.8,327.0 592.6,332.7 593.3,336.6 594.1,357.8 594.8,322.2 595.6,326.8 596.3,330.0 597.1,331.5 597.8,321.5 598.6,322.0 599.3,327.7 600.1,335.4 600.8,325.1 601.6,322.7 602.3,305.4 603.1,337.1 603.8,322.0 604.6,338.6 605.3,332.4 606.1,305.7 606.8,336.4 607.6,336.2 608.3,344.6 609.1,332.7 609.8,350.8 610.6,362.0 611.3,339.2 612.1,330.9 612.8,337.1 613.6,334.7 614.3,345.2 615.1,350.4 615.8,337.4 616.6,347.5 617.3,336.3 618.1,344.5 618.8,336.6 619.6,328.4 620.3,334.2 621.1,319.2 621.8,326.3 622.6,331.7 623.3,340.6 624.1,330.3 624.8,341.4 625.6,321.9 626.3,343.0 627.0,343.0 627.8,339.9 628.5,353.0 629.3,335.3 630.0,345.1 630.8,344.8 631.5,330.8 632.3,359.0 633.0,335.7 633.8,333.4 634.5,331.7 635.3,338.8 636.0,343.4 636.8,326.3 637.5,324.6 638.3,310.8 639.0,312.9 639.8,336.2 640.5,319.8 641.3,330.2 642.0,339.2 642.8,320.6 643.5,309.3 644.3,353.7 645.0,310.6 645.8,335.0 646.5,301.6 647.3,317.5 648.0,321.2 648.8,303.9 649.5,327.9 650.3,300.4 651.0,336.8 651.8,329.6 652.5,335.7 653.3,315.8 654.0,323.3 654.8,317.0 655.5,319.5 656.3,318.1 657.0,314.1 657.8,316.6 658.5,330.0 659.3,334.1 660.0,340.2 660.8,314.5 661.5,329.0 662.3,334.4 663.0,329.0 663.8,321.2 664.5,318.4 665.2,320.9 666.0,327.7 666.7,306.9 667.5,339.8 668.2,321.0 669.0,303.7 669.7,312.9 670.5,307.6 671.2,320.3 672.0,312.4 672.7,319.4 673.5,320.4 674.2,312.0 675.0,305.0 675.7,341.0 676.5,329.1 677.2,342.7 678.0,327.2 678.7,329.5 679.5,317.0 680.2,319.6 681.0,304.5 681.7,300.7 682.5,324.9 683.2,320.3 684.0,308.6 684.7,320.2 685.5,317.3 686.2,330.8 687.0,304.0 687.7,305.5 688.5,317.7 689.2,317.0 690.0,314.7 690.7,299.6 691.5,309.6 692.2,319.2 693.0,311.9 693.7,298.6 694.5,294.2 695.2,294.7 696.0,308.9 696.7,309.6 697.5,308.5 698.2,307.4 699.0,303.3 699.7,320.3 700.5,315.4 701.2,314.7 701.9,301.6 702.7,315.4 703.4,315.7 704.2,293.9 704.9,293.7 705.7,316.9 706.4,312.6 707.2,294.9 707.9,312.5 708.7,301.2 709.4,325.1 710.2,311.8 710.9,304.7 711.7,296.9 712.4,302.0 713.2,333.9 713.9,335.1 714.7,322.7 715.4,305.9 716.2,306.0 716.9,301.0 717.7,303.0 718.4,315.0 719.2,319.7 719.9,326.5 720.7,304.2 721.4,329.4 722.2,310.2 722.9,307.8 723.7,300.2 724.4,320.8 725.2,303.0 725.9,320.7 726.7,297.1 727.4,315.0 728.2,316.0 728.9,322.8 729.7,317.8 730.4,317.5 731.2,316.8 731.9,291.4 732.7,318.7 733.4,310.5 734.2,302.6 734.9,324.3 735.7,339.6 736.4,306.3 737.2,331.8 737.9,325.9 738.6,317.3 739.4,311.6 740.1,311.5 740.9,320.8 741.6,305.6 742.4,314.7 743.1,297.1 743.9,328.2 744.6,320.9 745.4,324.0 746.1,318.0 746.9,318.6 747.6,318.1 748.4,297.9 749.1,319.1 749.9,310.8 750.6,314.4 751.4,323.5 752.1,308.0 752.9,329.0 753.6,295.7 754.4,327.7 755.1,314.4 755.9,311.1 756.6,314.3 757.4,320.2 758.1,303.6 758.9,287.7 759.6,300.9 760.4,310.1 761.1,316.7 761.9,321.6 762.6,298.7 763.4,305.0 764.1,303.4 764.9,305.2 765.6,303.4 766.4,325.0 767.1,325.0 767.9,329.9 768.6,316.9 769.4,312.4 770.1,309.5 770.9,321.4 771.6,304.5 772.4,301.0 773.1,312.6 773.9,342.9 774.6,318.9 775.4,321.9 776.1,306.7 776.8,317.0 777.6,306.9 778.3,314.4 779.1,307.5 779.8,296.8 780.6,309.1 781.3,301.6 782.1,303.8 782.8,296.6 783.6,307.0 784.3,298.8 785.1,321.6 785.8,306.6 786.6,298.0 787.3,302.1 788.1,320.1 788.8,317.3 789.6,301.9 790.3,297.4 791.1,292.4 791.8,296.7 792.6,297.9 793.3,291.5 794.1,311.3 794.8,315.4 795.6,290.5 796.3,310.6 797.1,295.3 797.8,316.9 798.6,321.2 799.3,290.9 800.1,308.1 800.8,324.9 801.6,311.0 802.3,308.6 803.1,303.7 803.8,296.6 804.6,309.2 805.3,299.8 806.1,295.3 806.8,294.4 807.6,303.3 808.3,312.6 809.1,321.9 809.8,281.3 810.6,306.4 811.3,298.7 812.1,290.7 812.8,286.6 813.5,296.4 814.3,303.8 815.0,294.5 815.8,275.3 816.5,270.9 817.3,305.8 818.0,296.3 818.8,317.8 819.5,297.2 820.3,287.4 821.0,297.1 821.8,275.3 822.5,289.4 823.3,289.3 824.0,321.8 824.8,303.2 825.5,289.1 826.3,298.4 827.0,313.6 827.8,299.1 828.5,280.9 829.3,291.5 830.0,286.5 830.8,295.8 831.5,283.0 832.3,333.2 833.0,315.4 833.8,284.3 834.5,292.4 835.3,298.2 836.0,299.4 836.8,315.6 837.5,295.8 838.3,290.7 839.0,299.5 839.8,272.7 840.5,272.2 841.3,282.5 842.0,268.1 842.8,278.9 843.5,273.5 844.3,281.4 845.0,249.1 845.8,291.8 846.5,272.6 847.3,263.3 848.0,263.8 848.8,295.5 849.5,285.6 850.3,273.4 851.0,277.7" fill="none" stroke="#7ae052" stroke-width="1.05" stroke-opacity="1.0"/><polyline points="102.0,414.6 102.7,405.3 103.5,416.2 104.2,409.3 105.0,412.5 105.7,413.9 106.5,405.8 107.2,395.0 108.0,410.6 108.7,373.2 109.5,394.5 110.2,388.9 111.0,400.6 111.7,392.0 112.5,376.4 113.2,395.9 114.0,388.9 114.7,385.3 115.5,391.0 116.2,363.6 117.0,375.0 117.7,351.3 118.5,384.3 119.2,378.4 120.0,375.5 120.7,386.4 121.5,398.3 122.2,384.0 123.0,380.7 123.7,394.4 124.5,385.6 125.2,410.9 126.0,387.5 126.7,371.2 127.5,386.6 128.2,390.2 129.0,403.2 129.7,404.6 130.5,391.9 131.2,404.5 132.0,391.1 132.7,408.7 133.5,394.9 134.2,397.0 135.0,425.2 135.7,399.5 136.5,388.2 137.2,385.8 138.0,387.2 138.7,376.9 139.4,390.4 140.2,393.9 140.9,378.3 141.7,365.4 142.4,394.0 143.2,377.0 143.9,394.3 144.7,405.5 145.4,401.9 146.2,399.0 146.9,375.4 147.7,385.9 148.4,389.9 149.2,384.9 149.9,367.4 150.7,385.1 151.4,391.1 152.2,383.8 152.9,394.3 153.7,380.0 154.4,376.4 155.2,387.9 155.9,393.9 156.7,384.4 157.4,399.7 158.2,368.4 158.9,361.8 159.7,389.7 160.4,412.8 161.2,401.5 161.9,410.1 162.7,411.3 163.4,392.2 164.2,392.3 164.9,398.5 165.7,377.2 166.4,386.8 167.2,393.8 167.9,380.3 168.7,401.1 169.4,392.3 170.2,400.1 170.9,387.2 171.7,393.7 172.4,398.4 173.2,388.2 173.9,382.3 174.7,382.2 175.4,373.7 176.2,396.3 176.9,379.0 177.6,362.6 178.4,380.8 179.1,407.5 179.9,371.1 180.6,385.7 181.4,376.7 182.1,380.5 182.9,373.7 183.6,367.9 184.4,378.9 185.1,371.9 185.9,395.6 186.6,388.2 187.4,380.5 188.1,360.3 188.9,385.3 189.6,384.6 190.4,377.1 191.1,397.3 191.9,403.7 192.6,409.2 193.4,379.6 194.1,400.6 194.9,384.2 195.6,382.9 196.4,398.2 197.1,381.5 197.9,410.7 198.6,384.0 199.4,390.5 200.1,377.1 200.9,371.2 201.6,364.8 202.4,356.9 203.1,367.9 203.9,378.6 204.6,377.5 205.4,357.6 206.1,380.8 206.9,370.6 207.6,364.0 208.4,373.7 209.1,378.2 209.9,385.5 210.6,349.1 211.4,370.4 212.1,380.2 212.9,372.3 213.6,365.6 214.3,386.0 215.1,359.8 215.8,363.6 216.6,360.2 217.3,368.8 218.1,379.9 218.8,389.4 219.6,375.1 220.3,376.5 221.1,353.9 221.8,373.1 222.6,364.5 223.3,366.1 224.1,382.0 224.8,357.8 225.6,375.1 226.3,384.1 227.1,361.9 227.8,349.4 228.6,362.3 229.3,359.9 230.1,362.9 230.8,362.7 231.6,343.8 232.3,357.7 233.1,356.0 233.8,353.2 234.6,391.7 235.3,355.7 236.1,352.5 236.8,351.5 237.6,373.0 238.3,363.6 239.1,349.3 239.8,348.6 240.6,350.1 241.3,365.4 242.1,358.5 242.8,347.3 243.6,357.6 244.3,342.9 245.1,347.8 245.8,345.9 246.6,356.0 247.3,359.1 248.1,359.8 248.8,341.4 249.6,338.5 250.3,365.1 251.1,371.7 251.8,360.0 252.5,343.2 253.3,351.7 254.0,343.5 254.8,347.2 255.5,346.3 256.3,352.9 257.0,341.4 257.8,335.6 258.5,342.3 259.3,323.2 260.0,349.8 260.8,341.4 261.5,341.7 262.3,314.4 263.0,312.1 263.8,332.9 264.5,315.9 265.3,318.3 266.0,325.0 266.8,317.1 267.5,302.7 268.3,298.3 269.0,309.8 269.8,304.1 270.5,295.1 271.3,287.4 272.0,296.1 272.8,306.1 273.5,311.3 274.3,296.5 275.0,301.0 275.8,303.5 276.5,302.0 277.3,298.7 278.0,283.5 278.8,276.9 279.5,291.4 280.3,264.5 281.0,262.1 281.8,277.7 282.5,270.0 283.3,256.8 284.0,280.4 284.8,275.9 285.5,270.3 286.3,276.1 287.0,258.0 287.8,268.6 288.5,262.9 289.2,261.6 290.0,261.6 290.7,241.4 291.5,257.6 292.2,264.6 293.0,267.6 293.7,258.7 294.5,248.6 295.2,252.9 296.0,252.5 296.7,261.4 297.5,256.1 298.2,251.6 299.0,264.8 299.7,244.4 300.5,242.3 301.2,247.7 302.0,239.3 302.7,248.9 303.5,264.9 304.2,247.9 305.0,240.3 305.7,272.1 306.5,260.7 307.2,250.6 308.0,257.4 308.7,256.7 309.5,257.2 310.2,291.6 311.0,267.3 311.7,297.6 312.5,289.0 313.2,294.7 314.0,280.2 314.7,306.1 315.5,290.1 316.2,305.6 317.0,269.7 317.7,300.1 318.5,295.8 319.2,310.2 320.0,306.9 320.7,283.2 321.5,290.9 322.2,309.2 323.0,297.4 323.7,288.6 324.5,271.5 325.2,290.2 326.0,284.9 326.7,275.8 327.4,268.9 328.2,285.3 328.9,304.3 329.7,301.7 330.4,270.3 331.2,290.3 331.9,315.0 332.7,299.5 333.4,297.0 334.2,292.8 334.9,280.5 335.7,282.4 336.4,273.6 337.2,310.8 337.9,285.5 338.7,291.8 339.4,302.0 340.2,281.6 340.9,309.5 341.7,311.1 342.4,281.7 343.2,292.1 343.9,284.4 344.7,283.1 345.4,316.9 346.2,287.4 346.9,302.5 347.7,300.1 348.4,291.0 349.2,294.2 349.9,307.8 350.7,304.6 351.4,301.8 352.2,288.1 352.9,322.6 353.7,286.7 354.4,313.1 355.2,274.5 355.9,297.3 356.7,283.5 357.4,301.8 358.2,280.0 358.9,294.8 359.7,297.0 360.4,296.0 361.2,326.5 361.9,315.2 362.7,314.3 363.4,295.5 364.1,295.8 364.9,284.7 365.6,288.1 366.4,280.1 367.1,297.4 367.9,283.7 368.6,292.4 369.4,303.4 370.1,310.6 370.9,301.2 371.6,311.5 372.4,307.0 373.1,314.1 373.9,315.3 374.6,271.2 375.4,297.0 376.1,312.3 376.9,304.8 377.6,308.8 378.4,325.3 379.1,295.7 379.9,314.6 380.6,299.1 381.4,312.0 382.1,317.8 382.9,274.3 383.6,315.8 384.4,324.1 385.1,312.9 385.9,313.0 386.6,290.3 387.4,296.1 388.1,311.0 388.9,276.7 389.6,300.5 390.4,316.8 391.1,294.0 391.9,297.5 392.6,314.0 393.4,314.3 394.1,301.6 394.9,303.8 395.6,292.5 396.4,288.9 397.1,298.8 397.9,296.7 398.6,289.0 399.4,272.3 400.1,298.0 400.9,284.9 401.6,301.1 402.3,289.9 403.1,302.0 403.8,286.0 404.6,303.1 405.3,301.0 406.1,273.0 406.8,280.2 407.6,301.7 408.3,279.6 409.1,297.1 409.8,279.9 410.6,311.3 411.3,296.7 412.1,300.1 412.8,305.9 413.6,311.4 414.3,275.8 415.1,297.1 415.8,299.8 416.6,313.1 417.3,282.5 418.1,278.6 418.8,295.9 419.6,307.6 420.3,287.3 421.1,292.1 421.8,305.6 422.6,264.9 423.3,278.0 424.1,295.0 424.8,292.0 425.6,275.5 426.3,269.4 427.1,273.7 427.8,272.7 428.6,282.4 429.3,255.3 430.1,286.6 430.8,283.3 431.6,282.0 432.3,286.6 433.1,271.9 433.8,263.3 434.6,307.8 435.3,284.5 436.1,265.9 436.8,262.5 437.6,285.2 438.3,275.6 439.1,283.2 439.8,286.3 440.5,291.9 441.3,273.0 442.0,265.2 442.8,256.7 443.5,269.0 444.3,272.6 445.0,260.3 445.8,235.4 446.5,278.3 447.3,280.0 448.0,261.3 448.8,289.5 449.5,305.8 450.3,270.8 451.0,265.8 451.8,264.8 452.5,271.2 453.3,264.8 454.0,286.2 454.8,264.3 455.5,285.0 456.3,293.1 457.0,278.6 457.8,290.1 458.5,288.9 459.3,281.8 460.0,279.0 460.8,277.1 461.5,289.2 462.3,286.9 463.0,281.9 463.8,277.2 464.5,273.4 465.3,266.8 466.0,272.7 466.8,271.4 467.5,264.5 468.3,270.0 469.0,268.4 469.8,280.6 470.5,269.2 471.3,260.7 472.0,281.0 472.8,254.4 473.5,271.3 474.3,259.8 475.0,255.4 475.8,271.0 476.5,279.0 477.2,274.1 478.0,280.0 478.7,287.0 479.5,262.1 480.2,291.9 481.0,255.6 481.7,275.2 482.5,250.4 483.2,268.5 484.0,237.8 484.7,259.5 485.5,276.8 486.2,222.2 487.0,248.9 487.7,248.0 488.5,250.6 489.2,259.9 490.0,253.6 490.7,266.2 491.5,230.8 492.2,260.8 493.0,243.9 493.7,236.5 494.5,250.2 495.2,238.7 496.0,257.1 496.7,267.0 497.5,261.9 498.2,241.3 499.0,244.7 499.7,266.7 500.5,244.7 501.2,262.3 502.0,254.3 502.7,247.9 503.5,274.3 504.2,241.9 505.0,248.5 505.7,255.0 506.5,232.6 507.2,238.3 508.0,234.7 508.7,237.8 509.5,241.8 510.2,250.3 511.0,241.9 511.7,249.5 512.5,242.1 513.2,235.8 514.0,232.9 514.7,239.5 515.4,239.4 516.2,245.9 516.9,229.3 517.7,223.4 518.4,241.4 519.2,238.3 519.9,242.4 520.7,232.0 521.4,236.2 522.2,209.6 522.9,212.6 523.7,242.0 524.4,221.1 525.2,232.6 525.9,244.3 526.7,224.9 527.4,238.1 528.2,225.8 528.9,225.5 529.7,243.3 530.4,224.5 531.2,239.6 531.9,251.7 532.7,257.5 533.4,217.3 534.2,254.5 534.9,247.1 535.7,247.9 536.4,237.8 537.2,264.2 537.9,271.8 538.7,242.4 539.4,254.7 540.2,242.0 540.9,214.4 541.7,249.3 542.4,236.4 543.2,257.7 543.9,209.4 544.7,246.5 545.4,236.0 546.2,243.7 546.9,252.1 547.7,233.6 548.4,244.3 549.2,252.1 549.9,244.1 550.7,242.9 551.4,240.0 552.1,240.5 552.9,251.8 553.6,250.4 554.4,222.5 555.1,250.2 555.9,234.9 556.6,250.4 557.4,239.2 558.1,250.8 558.9,267.0 559.6,255.0 560.4,236.9 561.1,233.8 561.9,230.2 562.6,252.2 563.4,248.1 564.1,253.4 564.9,238.8 565.6,226.9 566.4,230.7 567.1,238.9 567.9,228.7 568.6,229.4 569.4,222.6 570.1,229.8 570.9,221.2 571.6,231.1 572.4,238.7 573.1,256.6 573.9,222.0 574.6,224.6 575.4,235.4 576.1,209.8 576.9,213.5 577.6,215.2 578.4,239.6 579.1,241.2 579.9,235.5 580.6,232.9 581.4,223.4 582.1,248.6 582.9,241.2 583.6,265.9 584.4,243.4 585.1,230.4 585.9,229.5 586.6,206.8 587.4,225.3 588.1,237.1 588.9,237.8 589.6,226.4 590.3,215.3 591.1,244.5 591.8,239.3 592.6,228.5 593.3,230.7 594.1,217.2 594.8,232.2 595.6,223.5 596.3,227.0 597.1,228.2 597.8,215.2 598.6,247.3 599.3,249.0 600.1,247.7 600.8,238.1 601.6,233.6 602.3,233.7 603.1,231.4 603.8,232.6 604.6,251.1 605.3,236.7 606.1,223.5 606.8,244.1 607.6,233.1 608.3,232.8 609.1,224.1 609.8,244.0 610.6,248.6 611.3,234.2 612.1,233.8 612.8,225.8 613.6,238.3 614.3,233.9 615.1,233.7 615.8,232.9 616.6,206.6 617.3,255.6 618.1,225.1 618.8,244.0 619.6,233.9 620.3,249.3 621.1,226.9 621.8,238.3 622.6,223.4 623.3,214.0 624.1,243.3 624.8,248.5 625.6,216.7 626.3,209.1 627.0,230.9 627.8,250.6 628.5,244.5 629.3,218.2 630.0,207.5 630.8,228.8 631.5,240.6 632.3,215.5 633.0,245.2 633.8,241.2 634.5,237.2 635.3,233.5 636.0,217.5 636.8,233.5 637.5,221.0 638.3,211.7 639.0,210.5 639.8,208.5 640.5,230.4 641.3,242.6 642.0,218.9 642.8,216.9 643.5,216.2 644.3,224.5 645.0,214.6 645.8,230.1 646.5,212.5 647.3,202.6 648.0,222.8 648.8,220.2 649.5,216.7 650.3,220.1 651.0,221.2 651.8,223.8 652.5,230.6 653.3,204.6 654.0,232.4 654.8,212.3 655.5,232.4 656.3,215.7 657.0,233.8 657.8,239.4 658.5,232.4 659.3,232.3 660.0,206.1 660.8,225.4 661.5,226.9 662.3,229.1 663.0,220.7 663.8,217.8 664.5,213.3 665.2,224.1 666.0,224.8 666.7,208.8 667.5,201.0 668.2,202.4 669.0,223.4 669.7,218.1 670.5,212.4 671.2,226.1 672.0,236.2 672.7,221.4 673.5,224.9 674.2,216.9 675.0,210.9 675.7,227.0 676.5,235.5 677.2,229.9 678.0,213.9 678.7,222.4 679.5,211.3 680.2,224.7 681.0,214.8 681.7,230.0 682.5,229.7 683.2,225.5 684.0,229.4 684.7,229.0 685.5,224.1 686.2,212.0 687.0,233.6 687.7,245.7 688.5,225.0 689.2,209.2 690.0,223.8 690.7,250.1 691.5,230.4 692.2,223.9 693.0,233.7 693.7,221.8 694.5,231.7 695.2,272.6 696.0,236.0 696.7,251.7 697.5,250.6 698.2,259.6 699.0,259.1 699.7,251.1 700.5,230.5 701.2,227.0 701.9,230.3 702.7,226.3 703.4,242.9 704.2,245.2 704.9,215.0 705.7,229.0 706.4,235.3 707.2,221.0 707.9,237.0 708.7,210.9 709.4,246.4 710.2,239.2 710.9,233.5 711.7,229.5 712.4,241.4 713.2,216.2 713.9,219.7 714.7,229.3 715.4,223.0 716.2,233.8 716.9,220.9 717.7,240.5 718.4,246.2 719.2,238.1 719.9,237.1 720.7,234.7 721.4,228.9 722.2,219.2 722.9,251.3 723.7,258.0 724.4,234.5 725.2,222.4 725.9,219.7 726.7,236.5 727.4,242.5 728.2,240.7 728.9,215.3 729.7,241.5 730.4,233.9 731.2,248.0 731.9,220.7 732.7,231.9 733.4,237.3 734.2,242.4 734.9,234.6 735.7,202.2 736.4,222.6 737.2,223.0 737.9,239.3 738.6,247.1 739.4,257.6 740.1,241.1 740.9,235.5 741.6,235.6 742.4,250.8 743.1,227.7 743.9,242.5 744.6,219.2 745.4,230.8 746.1,227.5 746.9,240.7 747.6,236.6 748.4,225.4 749.1,221.4 749.9,216.3 750.6,234.4 751.4,241.0 752.1,224.1 752.9,214.5 753.6,234.3 754.4,229.9 755.1,231.3 755.9,221.8 756.6,215.1 757.4,235.2 758.1,222.6 758.9,211.8 759.6,217.3 760.4,230.3 761.1,241.2 761.9,226.3 762.6,214.7 763.4,222.4 764.1,216.7 764.9,238.9 765.6,232.4 766.4,239.1 767.1,223.5 767.9,232.4 768.6,237.9 769.4,237.0 770.1,225.4 770.9,217.6 771.6,227.6 772.4,211.4 773.1,229.9 773.9,249.2 774.6,229.8 775.4,256.2 776.1,260.4 776.8,243.2 777.6,259.3 778.3,254.5 779.1,262.8 779.8,254.9 780.6,276.7 781.3,250.9 782.1,252.3 782.8,270.1 783.6,251.7 784.3,255.1 785.1,252.6 785.8,251.7 786.6,278.1 787.3,256.6 788.1,264.0 788.8,254.9 789.6,266.0 790.3,239.4 791.1,246.7 791.8,260.0 792.6,256.6 793.3,257.0 794.1,254.1 794.8,239.3 795.6,257.6 796.3,259.5 797.1,232.6 797.8,240.6 798.6,248.5 799.3,247.5 800.1,258.2 800.8,243.5 801.6,251.2 802.3,233.4 803.1,236.2 803.8,247.2 804.6,228.6 805.3,226.5 806.1,230.8 806.8,237.6 807.6,238.0 808.3,240.8 809.1,250.5 809.8,230.9 810.6,221.7 811.3,246.1 812.1,224.5 812.8,233.9 813.5,234.3 814.3,222.7 815.0,219.1 815.8,235.4 816.5,211.9 817.3,221.0 818.0,242.4 818.8,193.4 819.5,213.2 820.3,215.4 821.0,196.8 821.8,201.7 822.5,210.0 823.3,199.6 824.0,199.9 824.8,206.6 825.5,226.4 826.3,197.5 827.0,210.0 827.8,209.4 828.5,196.5 829.3,175.3 830.0,212.7 830.8,194.7 831.5,213.9 832.3,218.2 833.0,207.2 833.8,192.8 834.5,202.9 835.3,202.7 836.0,192.9 836.8,204.3 837.5,221.9 838.3,227.4 839.0,219.8 839.8,212.1 840.5,215.7 841.3,214.4 842.0,217.7 842.8,219.0 843.5,224.2 844.3,215.1 845.0,188.5 845.8,198.2 846.5,195.9 847.3,206.4 848.0,210.5 848.8,202.3 849.5,213.7 850.3,194.2 851.0,206.6" fill="none" stroke="#1010d8" stroke-width="1.05" stroke-opacity="1.0"/><polyline points="102.0,495.4 102.7,455.3 103.5,425.5 104.2,423.4 105.0,403.9 105.7,396.1 106.5,410.1 107.2,387.6 108.0,385.7 108.7,390.3 109.5,387.3 110.2,377.5 111.0,384.1 111.7,390.7 112.5,405.9 113.2,394.0 114.0,394.5 114.7,375.7 115.5,367.9 116.2,379.5 117.0,370.7 117.7,406.6 118.5,379.0 119.2,395.1 120.0,368.7 120.7,361.9 121.5,365.6 122.2,369.3 123.0,365.4 123.7,360.4 124.5,385.9 125.2,365.6 126.0,383.8 126.7,396.9 127.5,371.1 128.2,373.8 129.0,376.1 129.7,384.1 130.5,371.5 131.2,384.0 132.0,353.3 132.7,378.0 133.5,373.5 134.2,382.2 135.0,369.3 135.7,356.7 136.5,379.9 137.2,375.6 138.0,390.5 138.7,369.5 139.4,352.2 140.2,379.1 140.9,366.0 141.7,367.0 142.4,361.7 143.2,365.4 143.9,363.9 144.7,374.3 145.4,362.0 146.2,355.0 146.9,354.6 147.7,384.9 148.4,351.8 149.2,361.6 149.9,358.1 150.7,383.5 151.4,377.1 152.2,363.1 152.9,348.4 153.7,373.7 154.4,359.1 155.2,356.1 155.9,363.9 156.7,357.0 157.4,371.2 158.2,350.4 158.9,382.6 159.7,363.3 160.4,372.3 161.2,366.0 161.9,371.9 162.7,395.7 163.4,348.8 164.2,353.0 164.9,353.6 165.7,355.3 166.4,351.4 167.2,360.8 167.9,351.8 168.7,334.3 169.4,357.3 170.2,358.5 170.9,326.1 171.7,345.1 172.4,334.6 173.2,337.7 173.9,330.4 174.7,331.3 175.4,337.3 176.2,350.9 176.9,349.0 177.6,338.0 178.4,320.1 179.1,361.7 179.9,343.3 180.6,338.0 181.4,348.0 182.1,341.7 182.9,343.4 183.6,333.8 184.4,319.4 185.1,342.7 185.9,331.0 186.6,322.3 187.4,326.1 188.1,322.9 188.9,343.8 189.6,323.8 190.4,338.1 191.1,328.9 191.9,319.1 192.6,315.7 193.4,325.9 194.1,322.6 194.9,321.8 195.6,333.2 196.4,307.1 197.1,305.1 197.9,328.2 198.6,308.9 199.4,318.3 200.1,338.9 200.9,317.4 201.6,320.8 202.4,323.4 203.1,340.3 203.9,328.9 204.6,350.8 205.4,325.8 206.1,329.1 206.9,342.2 207.6,337.3 208.4,312.1 209.1,339.6 209.9,312.8 210.6,315.9 211.4,304.4 212.1,341.1 212.9,319.9 213.6,307.0 214.3,319.5 215.1,332.8 215.8,334.8 216.6,319.7 217.3,302.0 218.1,289.9 218.8,307.4 219.6,304.1 220.3,302.3 221.1,305.0 221.8,318.9 222.6,303.3 223.3,321.7 224.1,311.6 224.8,304.9 225.6,299.6 226.3,313.5 227.1,297.7 227.8,293.8 228.6,299.0 229.3,310.2 230.1,302.7 230.8,305.0 231.6,306.3 232.3,298.3 233.1,290.9 233.8,301.6 234.6,296.1 235.3,302.7 236.1,305.6 236.8,313.5 237.6,297.8 238.3,300.3 239.1,293.6 239.8,286.6 240.6,286.3 241.3,287.0 242.1,299.2 242.8,316.2 243.6,303.1 244.3,299.9 245.1,299.2 245.8,285.7 246.6,299.9 247.3,287.9 248.1,313.4 248.8,320.2 249.6,299.9 250.3,315.6 251.1,319.1 251.8,306.0 252.5,303.5 253.3,295.5 254.0,309.2 254.8,295.2 255.5,301.8 256.3,318.1 257.0,311.6 257.8,316.9 258.5,300.9 259.3,318.9 260.0,310.1 260.8,303.9 261.5,287.2 262.3,286.7 263.0,297.7 263.8,293.4 264.5,292.2 265.3,260.4 266.0,308.1 266.8,316.0 267.5,317.8 268.3,309.0 269.0,298.8 269.8,282.3 270.5,297.9 271.3,296.1 272.0,294.9 272.8,292.7 273.5,309.4 274.3,289.5 275.0,296.5 275.8,293.7 276.5,288.4 277.3,291.1 278.0,285.3 278.8,301.2 279.5,285.9 280.3,306.2 281.0,314.1 281.8,296.4 282.5,287.1 283.3,287.8 284.0,285.6 284.8,278.5 285.5,303.1 286.3,294.7 287.0,287.8 287.8,296.0 288.5,286.4 289.2,284.8 290.0,284.6 290.7,286.2 291.5,262.7 292.2,284.5 293.0,283.3 293.7,268.8 294.5,261.1 295.2,290.4 296.0,291.0 296.7,270.8 297.5,274.3 298.2,283.5 299.0,295.6 299.7,285.7 300.5,309.5 301.2,307.9 302.0,276.4 302.7,307.1 303.5,295.3 304.2,281.9 305.0,284.5 305.7,297.2 306.5,291.0 307.2,277.6 308.0,286.0 308.7,265.2 309.5,282.7 310.2,263.8 311.0,284.6 311.7,270.0 312.5,280.1 313.2,290.7 314.0,305.8 314.7,281.6 315.5,289.2 316.2,284.4 317.0,294.6 317.7,302.6 318.5,303.3 319.2,299.6 320.0,285.6 320.7,299.9 321.5,307.1 322.2,304.4 323.0,311.7 323.7,317.8 324.5,301.4 325.2,302.2 326.0,300.1 326.7,278.2 327.4,288.3 328.2,286.1 328.9,300.2 329.7,301.5 330.4,314.2 331.2,321.6 331.9,319.3 332.7,308.0 333.4,298.5 334.2,280.4 334.9,304.1 335.7,316.7 336.4,304.9 337.2,300.1 337.9,316.5 338.7,311.6 339.4,298.2 340.2,300.0 340.9,297.0 341.7,300.2 342.4,305.5 343.2,295.7 343.9,301.7 344.7,307.7 345.4,301.5 346.2,309.8 346.9,312.5 347.7,310.0 348.4,314.1 349.2,289.0 349.9,316.9 350.7,312.8 351.4,297.8 352.2,323.8 352.9,313.2 353.7,300.7 354.4,315.9 355.2,317.5 355.9,330.5 356.7,318.9 357.4,328.0 358.2,308.7 358.9,312.2 359.7,318.8 360.4,300.2 361.2,320.6 361.9,317.8 362.7,303.2 363.4,311.7 364.1,325.3 364.9,320.8 365.6,317.3 366.4,322.3 367.1,311.5 367.9,313.3 368.6,309.3 369.4,319.2 370.1,320.0 370.9,329.6 371.6,321.7 372.4,325.3 373.1,318.6 373.9,317.4 374.6,327.4 375.4,322.3 376.1,308.5 376.9,323.8 377.6,320.2 378.4,304.8 379.1,312.6 379.9,310.8 380.6,328.9 381.4,328.3 382.1,318.1 382.9,299.4 383.6,339.5 384.4,337.7 385.1,318.7 385.9,320.8 386.6,337.1 387.4,316.8 388.1,322.7 388.9,333.9 389.6,332.5 390.4,335.2 391.1,325.7 391.9,341.8 392.6,343.8 393.4,341.0 394.1,332.5 394.9,323.5 395.6,343.1 396.4,346.5 397.1,331.7 397.9,316.5 398.6,329.8 399.4,309.5 400.1,333.3 400.9,309.5 401.6,316.2 402.3,343.0 403.1,318.5 403.8,328.3 404.6,329.3 405.3,335.2 406.1,324.7 406.8,329.6 407.6,329.0 408.3,315.9 409.1,312.5 409.8,315.0 410.6,313.8 411.3,320.6 412.1,330.1 412.8,344.7 413.6,325.3 414.3,337.9 415.1,333.3 415.8,351.8 416.6,331.5 417.3,323.7 418.1,340.3 418.8,331.3 419.6,340.3 420.3,338.0 421.1,345.1 421.8,367.6 422.6,339.9 423.3,338.2 424.1,340.9 424.8,330.8 425.6,338.5 426.3,341.4 427.1,352.4 427.8,311.1 428.6,354.3 429.3,341.8 430.1,343.4 430.8,327.9 431.6,330.7 432.3,332.5 433.1,353.0 433.8,341.8 434.6,323.4 435.3,342.7 436.1,348.8 436.8,332.6 437.6,346.1 438.3,341.2 439.1,335.3 439.8,346.5 440.5,335.9 441.3,322.8 442.0,339.8 442.8,342.8 443.5,348.9 444.3,338.8 445.0,336.9 445.8,349.6 446.5,338.6 447.3,320.9 448.0,356.0 448.8,326.8 449.5,321.7 450.3,350.1 451.0,351.2 451.8,341.3 452.5,319.5 453.3,339.7 454.0,334.8 454.8,333.6 455.5,335.3 456.3,313.9 457.0,331.2 457.8,343.0 458.5,326.4 459.3,323.7 460.0,341.5 460.8,323.5 461.5,334.1 462.3,339.2 463.0,337.4 463.8,324.1 464.5,336.4 465.3,351.3 466.0,327.0 466.8,339.8 467.5,369.5 468.3,351.9 469.0,367.4 469.8,348.9 470.5,317.7 471.3,321.9 472.0,337.8 472.8,347.3 473.5,346.5 474.3,341.7 475.0,329.4 475.8,323.3 476.5,333.5 477.2,319.7 478.0,330.8 478.7,347.6 479.5,320.9 480.2,314.9 481.0,316.8 481.7,307.4 482.5,325.0 483.2,318.1 484.0,316.0 484.7,311.9 485.5,310.7 486.2,310.2 487.0,322.1 487.7,326.3 488.5,316.7 489.2,315.0 490.0,316.5 490.7,323.5 491.5,306.6 492.2,303.4 493.0,306.9 493.7,308.9 494.5,304.4 495.2,311.3 496.0,308.8 496.7,299.8 497.5,322.9 498.2,302.0 499.0,320.2 499.7,280.5 500.5,294.8 501.2,306.5 502.0,300.2 502.7,302.0 503.5,282.0 504.2,288.8 505.0,300.6 505.7,303.0 506.5,289.3 507.2,292.4 508.0,295.7 508.7,300.3 509.5,314.1 510.2,311.1 511.0,306.0 511.7,315.2 512.5,308.1 513.2,278.7 514.0,298.6 514.7,289.0 515.4,301.7 516.2,283.1 516.9,294.6 517.7,288.4 518.4,284.0 519.2,288.9 519.9,274.3 520.7,304.8 521.4,298.3 522.2,289.5 522.9,290.7 523.7,284.4 524.4,269.6 525.2,295.7 525.9,291.1 526.7,293.3 527.4,298.4 528.2,313.0 528.9,285.8 529.7,277.5 530.4,293.0 531.2,281.1 531.9,309.6 532.7,298.4 533.4,303.3 534.2,293.5 534.9,298.6 535.7,288.2 536.4,277.8 537.2,302.8 537.9,294.0 538.7,284.6 539.4,290.1 540.2,278.6 540.9,302.4 541.7,294.7 542.4,283.0 543.2,302.9 543.9,257.8 544.7,263.7 545.4,272.3 546.2,275.7 546.9,273.2 547.7,283.3 548.4,279.6 549.2,302.2 549.9,270.8 550.7,281.0 551.4,299.8 552.1,285.4 552.9,271.8 553.6,296.0 554.4,290.8 555.1,313.3 555.9,293.3 556.6,291.7 557.4,315.4 558.1,296.2 558.9,283.4 559.6,289.2 560.4,271.0 561.1,275.6 561.9,272.6 562.6,301.5 563.4,302.8 564.1,288.9 564.9,282.0 565.6,289.5 566.4,284.7 567.1,290.2 567.9,282.3 568.6,273.4 569.4,258.7 570.1,267.1 570.9,264.7 571.6,263.2 572.4,256.9 573.1,252.6 573.9,271.0 574.6,254.6 575.4,262.0 576.1,252.8 576.9,257.7 577.6,272.8 578.4,274.6 579.1,269.7 579.9,299.4 580.6,277.6 581.4,280.0 582.1,275.7 582.9,282.9 583.6,286.6 584.4,277.4 585.1,283.7 585.9,263.7 586.6,278.2 587.4,284.0 588.1,275.9 588.9,283.0 589.6,286.2 590.3,275.3 591.1,277.7 591.8,285.6 592.6,293.1 593.3,280.2 594.1,269.2 594.8,289.0 595.6,273.4 596.3,272.9 597.1,285.8 597.8,256.5 598.6,272.6 599.3,288.0 600.1,285.5 600.8,268.0 601.6,255.9 602.3,267.2 603.1,268.6 603.8,273.4 604.6,251.7 605.3,254.0 606.1,288.6 606.8,270.6 607.6,263.1 608.3,272.2 609.1,266.3 609.8,265.1 610.6,279.6 611.3,257.3 612.1,268.8 612.8,258.3 613.6,262.2 614.3,269.6 615.1,247.9 615.8,261.0 616.6,248.7 617.3,260.6 618.1,243.4 618.8,272.9 619.6,257.6 620.3,263.8 621.1,269.4 621.8,255.7 622.6,273.1 623.3,260.6 624.1,244.5 624.8,251.9 625.6,264.6 626.3,263.7 627.0,251.7 627.8,243.2 628.5,259.3 629.3,253.5 630.0,253.2 630.8,265.9 631.5,260.1 632.3,262.8 633.0,254.3 633.8,276.0 634.5,264.8 635.3,262.5 636.0,268.7 636.8,262.7 637.5,264.1 638.3,277.8 639.0,263.8 639.8,275.1 640.5,271.5 641.3,273.0 642.0,272.0 642.8,254.7 643.5,251.1 644.3,250.7 645.0,271.4 645.8,261.4 646.5,276.7 647.3,255.9 648.0,253.4 648.8,260.1 649.5,251.4 650.3,238.6 651.0,240.4 651.8,252.2 652.5,255.5 653.3,262.5 654.0,255.4 654.8,260.2 655.5,254.8 656.3,250.2 657.0,266.5 657.8,263.8 658.5,261.6 659.3,277.9 660.0,263.4 660.8,269.0 661.5,257.7 662.3,252.3 663.0,257.8 663.8,273.1 664.5,265.4 665.2,264.8 666.0,260.1 666.7,289.7 667.5,276.0 668.2,278.6 669.0,272.4 669.7,263.3 670.5,269.7 671.2,269.5 672.0,274.7 672.7,262.5 673.5,266.9 674.2,278.7 675.0,264.1 675.7,271.2 676.5,284.2 677.2,261.4 678.0,248.9 678.7,248.3 679.5,248.7 680.2,249.3 681.0,240.8 681.7,240.7 682.5,266.1 683.2,251.5 684.0,247.5 684.7,254.6 685.5,248.2 686.2,243.1 687.0,253.6 687.7,262.1 688.5,243.2 689.2,269.2 690.0,262.2 690.7,237.5 691.5,253.5 692.2,252.1 693.0,261.4 693.7,248.0 694.5,223.0 695.2,251.6 696.0,258.4 696.7,241.9 697.5,237.3 698.2,254.7 699.0,268.7 699.7,255.8 700.5,271.0 701.2,248.8 701.9,260.6 702.7,252.4 703.4,257.5 704.2,249.9 704.9,285.8 705.7,257.7 706.4,261.4 707.2,258.2 707.9,276.8 708.7,248.1 709.4,267.7 710.2,251.7 710.9,262.3 711.7,260.6 712.4,262.0 713.2,280.6 713.9,272.1 714.7,253.7 715.4,279.5 716.2,269.2 716.9,285.8 717.7,256.4 718.4,281.2 719.2,278.4 719.9,268.3 720.7,262.0 721.4,277.4 722.2,262.2 722.9,251.5 723.7,257.4 724.4,264.8 725.2,251.2 725.9,245.0 726.7,232.6 727.4,247.4 728.2,281.4 728.9,252.0 729.7,257.0 730.4,262.7 731.2,257.0 731.9,250.9 732.7,265.7 733.4,273.0 734.2,260.4 734.9,249.4 735.7,263.4 736.4,260.5 737.2,270.4 737.9,256.0 738.6,276.2 739.4,263.8 740.1,268.9 740.9,249.1 741.6,258.0 742.4,244.4 743.1,277.8 743.9,285.4 744.6,268.4 745.4,284.8 746.1,271.3 746.9,258.6 747.6,263.5 748.4,256.8 749.1,271.8 749.9,269.9 750.6,264.7 751.4,253.9 752.1,254.0 752.9,252.7 753.6,263.6 754.4,273.8 755.1,270.6 755.9,263.3 756.6,276.2 757.4,269.7 758.1,284.2 758.9,260.6 759.6,256.4 760.4,269.3 761.1,252.1 761.9,260.5 762.6,262.6 763.4,252.3 764.1,257.9 764.9,268.5 765.6,262.7 766.4,274.1 767.1,250.5 767.9,259.1 768.6,247.3 769.4,264.1 770.1,269.6 770.9,245.3 771.6,249.9 772.4,276.3 773.1,250.9 773.9,270.5 774.6,246.4 775.4,256.8 776.1,272.9 776.8,266.8 777.6,266.4 778.3,293.6 779.1,254.1 779.8,264.1 780.6,252.0 781.3,293.7 782.1,252.9 782.8,255.5 783.6,266.7 784.3,236.2 785.1,246.8 785.8,266.5 786.6,261.1 787.3,248.2 788.1,239.0 788.8,254.4 789.6,266.1 790.3,240.6 791.1,265.7 791.8,244.4 792.6,251.6 793.3,256.2 794.1,260.9 794.8,259.7 795.6,249.8 796.3,234.3 797.1,251.0 797.8,260.1 798.6,233.7 799.3,235.8 800.1,247.6 800.8,232.1 801.6,246.8 802.3,234.6 803.1,256.4 803.8,266.9 804.6,262.9 805.3,255.5 806.1,254.6 806.8,262.3 807.6,263.2 808.3,267.8 809.1,263.8 809.8,237.8 810.6,255.1 811.3,262.5 812.1,257.0 812.8,261.0 813.5,250.3 814.3,255.5 815.0,230.4 815.8,256.0 816.5,248.2 817.3,229.6 818.0,250.2 818.8,236.1 819.5,249.9 820.3,240.2 821.0,223.4 821.8,253.8 822.5,239.2 823.3,256.7 824.0,243.1 824.8,251.9 825.5,241.9 826.3,252.1 827.0,261.9 827.8,232.5 828.5,237.5 829.3,222.9 830.0,238.7 830.8,244.1 831.5,256.2 832.3,262.8 833.0,243.8 833.8,253.8 834.5,225.3 835.3,221.8 836.0,232.6 836.8,226.9 837.5,244.7 838.3,246.4 839.0,213.9 839.8,242.4 840.5,230.0 841.3,254.5 842.0,240.2 842.8,235.2 843.5,259.0 844.3,257.0 845.0,250.4 845.8,249.7 846.5,245.0 847.3,249.1 848.0,243.9 848.8,249.4 849.5,248.3 850.3,235.7 851.0,244.6" fill="none" stroke="#ffff10" stroke-width="1.05" stroke-opacity="1.0"/></g>
<g clip-path="url(#cB)"><polyline points="78.5,830.9 79.7,959.1 81.0,1020.4 82.3,1040.8 83.5,1020.2 84.8,1041.6 86.1,1029.4 87.3,976.3 88.6,1028.0 89.8,937.7 91.1,1004.1 92.4,957.8 93.6,916.1 94.9,930.8 96.2,924.3 97.4,979.5 98.7,957.4 100.0,962.5 101.2,801.1 102.5,959.8 103.8,975.2 105.0,952.3 106.3,950.0 107.6,1028.1 108.8,1008.6 110.1,979.1 111.3,876.1 112.6,761.3 113.9,923.7 115.1,990.6 116.4,935.1 117.7,970.7 118.9,955.9 120.2,852.6 121.5,880.7 122.7,986.8 124.0,1037.0 125.3,971.4 126.5,980.7 127.8,1001.6 129.1,928.9 130.3,899.6 131.6,955.0 132.8,947.8 134.1,827.0 135.4,891.9 136.6,891.9 137.9,908.6 139.2,762.0 140.4,681.7 141.7,770.8 143.0,898.3 144.2,827.0 145.5,907.8 146.8,905.4 148.0,948.0 149.3,845.1 150.6,840.0 151.8,837.7 153.1,831.0 154.3,843.3 155.6,851.6 156.9,871.3 158.1,913.4 159.4,867.5 160.7,939.5 161.9,986.4 163.2,915.7 164.5,878.0 165.7,991.1 167.0,1003.8 168.3,991.6 169.5,984.5 170.8,1031.1 172.1,1006.6 173.3,1065.1 174.6,1080.1 175.8,1093.6 177.1,1092.2 178.4,1081.7 179.6,1112.2 180.9,1121.9 182.2,1019.3 183.4,1097.1 184.7,1118.0 186.0,1094.1 187.2,1074.2 188.5,1088.3 189.8,1092.7 191.0,1080.1 192.3,1044.7 193.5,1020.9 194.8,1037.6 196.1,1064.1 197.3,1093.4 198.6,1092.0 199.9,1101.6 201.1,1080.8 202.4,1033.0 203.7,1104.0 204.9,1086.5 206.2,1086.7 207.5,1071.2 208.7,943.8 210.0,761.3 211.3,969.0 212.5,933.8 213.8,1040.0 215.0,953.1 216.3,990.2 217.6,1052.6 218.8,1039.1 220.1,1069.2 221.4,1080.7 222.6,1014.4 223.9,1069.9 225.2,1112.5 226.4,1104.5 227.7,1100.9 229.0,1086.2 230.2,1050.0 231.5,1082.9 232.8,1048.5 234.0,1029.8 235.3,1057.2 236.5,1029.0 237.8,1049.9 239.1,1069.4 240.3,1078.2 241.6,1079.2 242.9,1069.5 244.1,1064.7 245.4,1039.6 246.7,967.0 247.9,1039.4 249.2,1009.7 250.5,933.8 251.7,994.9 253.0,978.6 254.3,1037.6 255.5,1051.2 256.8,1042.5 258.0,1059.9 259.3,1050.8 260.6,1070.1 261.8,1109.4 263.1,1089.0 264.4,1070.2 265.6,1104.1 266.9,1047.1 268.2,949.2 269.4,1092.6 270.7,1036.3 272.0,967.0 273.2,1032.1 274.5,1046.0 275.8,1042.0 277.0,1021.6 278.3,1013.7 279.5,986.9 280.8,1042.6 282.1,1027.7 283.3,1016.3 284.6,1061.2 285.9,1093.7 287.1,1101.9 288.4,1102.8 289.7,1115.5 290.9,1134.5 292.2,1033.4 293.5,1097.7 294.7,1122.0 296.0,1105.0 297.3,1066.0 298.5,1114.3 299.8,1102.8 301.0,1096.3 302.3,1075.7 303.6,1056.0 304.8,972.8 306.1,1036.5 307.4,998.6 308.6,933.8 309.9,987.5 311.2,1022.3 312.4,933.8 313.7,998.5 315.0,1044.6 316.2,1054.0 317.5,1045.0 318.8,1036.9 320.0,1054.6 321.3,1081.6 322.5,1078.6 323.8,1094.1 325.1,1055.1 326.3,1084.0 327.6,1071.7 328.9,1092.7 330.1,1097.1 331.4,1095.7 332.7,1122.6 333.9,1115.8 335.2,1107.5 336.5,1078.4 337.7,1084.6 339.0,1077.0 340.3,1046.1 341.5,1087.2 342.8,1063.8 344.0,1025.9 345.3,933.8 346.6,946.3 347.8,1052.3 349.1,1070.0 350.4,1091.0 351.6,1093.0 352.9,1068.6 354.2,1105.8 355.4,1111.9 356.7,1072.1 358.0,1090.6 359.2,1090.3 360.5,1093.4 361.8,1095.1 363.0,1085.9 364.3,1115.1 365.5,1109.6 366.8,1091.9 368.1,1115.7 369.3,1118.2 370.6,1092.0 371.9,1074.4 373.1,1098.2 374.4,1088.2 375.7,1068.4 376.9,1062.2 378.2,1046.5 379.5,1008.3 380.7,1021.4 382.0,996.5 383.2,933.4 384.5,927.2 385.8,949.7 387.0,933.8 388.3,913.9 389.6,1007.9 390.8,1012.8 392.1,947.1 393.4,1002.5 394.6,990.9 395.9,1090.7 397.2,1084.1 398.4,1094.1 399.7,1093.2 401.0,1098.7 402.2,1079.3 403.5,1071.3 404.7,1072.6 406.0,1065.2 407.3,1064.8 408.5,1080.4 409.8,1087.0 411.1,1070.4 412.3,1101.2 413.6,1029.8 414.9,1086.6 416.1,1101.8 417.4,1127.4 418.7,1042.0 419.9,1122.5 421.2,1117.4 422.5,1108.4 423.7,1109.3 425.0,1109.2 426.2,1126.1 427.5,1126.0 428.8,1119.3 430.0,1119.8 431.3,1112.4 432.6,1110.5 433.8,1080.2 435.1,1083.6 436.4,1086.0 437.6,1063.0 438.9,1102.6 440.2,1057.0 441.4,1043.4 442.7,1051.8 444.0,1021.6 445.2,1031.8 446.5,986.9 447.7,1045.6 449.0,1085.3 450.3,1077.0 451.5,1069.9 452.8,1066.0 454.1,1088.3 455.3,1082.7 456.6,1087.6 457.9,1108.2 459.1,1081.7 460.4,1104.4 461.7,1124.7 462.9,1130.8 464.2,1066.5 465.5,1112.2 466.7,1114.1 468.0,1081.4 469.2,1071.7 470.5,1102.7 471.8,1126.7 473.0,1125.4 474.3,1133.1 475.6,1131.8 476.8,1101.5 478.1,1053.9 479.4,1058.9 480.6,985.2 481.9,1072.7 483.2,996.9 484.4,964.8 485.7,971.0 487.0,996.8 488.2,966.9 489.5,979.5 490.7,1032.2 492.0,1076.9 493.3,1072.7 494.5,1080.7 495.8,1077.3 497.1,1067.4 498.3,1038.0 499.6,986.9 500.9,1011.3 502.1,1021.1 503.4,1005.2 504.7,927.2 505.9,878.1 507.2,927.2 508.5,933.8 509.7,966.2 511.0,967.6 512.2,1055.6 513.5,1008.5 514.8,1000.4 516.0,1115.9 517.3,1112.5 518.6,1130.0 519.8,1135.5 521.1,1119.3 522.4,1103.0 523.6,1125.8 524.9,1126.1 526.2,1066.9 527.4,1119.2 528.7,1112.1 530.0,1089.0 531.2,1085.5 532.5,1075.2 533.7,1060.9 535.0,1069.3 536.3,1050.5 537.5,1042.8 538.8,986.9 540.1,1047.3 541.3,1044.9 542.6,1015.1 543.9,1087.1 545.1,1063.2 546.4,963.7 547.7,948.1 548.9,933.8 550.2,984.6 551.5,890.0 552.7,1007.6 554.0,978.1 555.2,1052.8 556.5,1019.7 557.8,1018.3 559.0,1027.1 560.3,933.8 561.6,1046.7 562.8,1053.7 564.1,1025.2 565.4,1063.5 566.6,1043.2 567.9,1030.3 569.2,1044.8 570.4,1037.2 571.7,1037.9 572.9,1025.5 574.2,1085.7 575.5,1084.5 576.7,1052.2 578.0,1089.0 579.3,1082.5 580.5,1107.6 581.8,1028.0 583.1,1107.7 584.3,1079.8 585.6,1100.8 586.9,1114.1 588.1,1084.3 589.4,1102.4 590.7,1079.8 591.9,1072.3 593.2,1081.5 594.4,1080.7 595.7,1051.9 597.0,993.4 598.2,1035.6 599.5,1026.7 600.8,1062.0 602.0,1081.3 603.3,1065.0 604.6,1032.2 605.8,1074.8 607.1,1030.7 608.4,1058.7 609.6,1052.8 610.9,1059.4 612.2,1085.8 613.4,1084.1 614.7,1098.2 615.9,1100.9 617.2,1115.6 618.5,1090.8 619.7,1098.8 621.0,1109.3 622.3,1102.8 623.5,1100.1 624.8,1077.6 626.1,1110.7 627.3,1058.4 628.6,1076.9 629.9,1058.4 631.1,986.9 632.4,1069.7 633.7,971.4 634.9,1038.2 636.2,948.4 637.4,1029.7 638.7,1057.0 640.0,1033.2 641.2,1068.9 642.5,996.5 643.8,1065.2 645.0,1046.9 646.3,1064.0 647.6,1033.8 648.8,1046.9 650.1,977.6 651.4,1057.8 652.6,1024.9 653.9,1089.0 655.2,1056.9 656.4,1079.6 657.7,1026.1 658.9,1077.6 660.2,1087.5 661.5,1055.3 662.7,1077.6 664.0,1033.1 665.3,1074.4 666.5,1072.5 667.8,1073.9 669.1,1055.0 670.3,1061.0 671.6,1072.5 672.9,1089.4 674.1,1095.9 675.4,1116.1 676.7,1097.6 677.9,1086.8 679.2,1080.5 680.4,1033.4 681.7,1104.0 683.0,1091.7 684.2,1095.2 685.5,1074.7 686.8,1056.3 688.0,1006.7 689.3,933.8 690.6,1021.4 691.8,1045.8 693.1,965.5 694.4,1030.4 695.6,1072.1 696.9,1111.1 698.2,1119.0 699.4,1118.6 700.7,1104.1 701.9,1065.5 703.2,1065.8 704.5,1080.4 705.7,1013.1 707.0,1104.1 708.3,1073.0 709.5,1094.6 710.8,1108.3 712.1,1077.7 713.3,1007.8 714.6,1110.8 715.9,1088.6 717.1,1010.3 718.4,1009.4 719.7,998.3 720.9,1063.6 722.2,1070.8 723.4,1052.8 724.7,1036.1 726.0,1063.0 727.2,970.4 728.5,965.6 729.8,1015.8 731.0,1064.7 732.3,1072.2 733.6,1005.4 734.8,1015.9 736.1,986.8 737.4,984.2 738.6,1041.2 739.9,1045.5 741.2,1022.7 742.4,949.7 743.7,993.0 744.9,1088.2 746.2,1095.1 747.5,1088.0 748.7,1086.8 750.0,1068.4 751.3,1062.7 752.5,1044.1 753.8,1038.1 755.1,1098.7 756.3,1107.5 757.6,1104.1 758.9,1016.3 760.1,1036.5 761.4,1125.2 762.6,1135.9 763.9,1107.2 765.2,1099.6 766.4,1102.4 767.7,1087.1 769.0,1125.1 770.2,1103.8 771.5,1079.9 772.8,1055.4 774.0,983.4 775.3,960.3" fill="none" stroke="#000000" stroke-width="0.95" stroke-opacity="1.0"/><polyline points="78.5,827.6 79.7,896.6 81.0,1004.8 82.3,1034.6 83.5,1069.9 84.8,1070.1 86.1,1038.2 87.3,1021.9 88.6,996.9 89.8,1045.3 91.1,996.7 92.4,1019.8 93.6,989.4 94.9,973.4 96.2,877.4 97.4,888.9 98.7,829.7 100.0,838.7 101.2,717.5 102.5,892.6 103.8,954.0 105.0,970.6 106.3,944.3 107.6,840.9 108.8,983.2 110.1,1033.3 111.3,955.5 112.6,886.2 113.9,842.2 115.1,801.1 116.4,856.5 117.7,909.9 118.9,831.5 120.2,934.9 121.5,1012.9 122.7,1040.3 124.0,1034.1 125.3,969.9 126.5,953.8 127.8,939.0 129.1,932.8 130.3,850.2 131.6,864.1 132.8,961.1 134.1,903.3 135.4,892.4 136.6,880.1 137.9,827.0 139.2,838.0 140.4,827.0 141.7,827.0 143.0,835.8 144.2,821.8 145.5,833.6 146.8,832.3 148.0,948.8 149.3,1001.5 150.6,957.9 151.8,922.8 153.1,827.0 154.3,927.6 155.6,875.4 156.9,906.3 158.1,905.5 159.4,938.5 160.7,937.3 161.9,975.5 163.2,994.8 164.5,1013.2 165.7,1013.6 167.0,1010.4 168.3,1032.7 169.5,933.8 170.8,1050.7 172.1,1052.9 173.3,981.5 174.6,933.8 175.8,1041.6 177.1,1104.2 178.4,1138.6 179.6,1134.8 180.9,1052.6 182.2,1077.3 183.4,1089.0 184.7,1088.4 186.0,1063.4 187.2,1073.3 188.5,1046.1 189.8,1043.7 191.0,968.8 192.3,810.4 193.5,992.4 194.8,1056.2 196.1,1053.6 197.3,1079.6 198.6,1012.1 199.9,1071.9 201.1,1102.4 202.4,1043.3 203.7,1051.2 204.9,1045.7 206.2,1039.8 207.5,1021.0 208.7,1000.9 210.0,1004.9 211.3,1025.7 212.5,987.4 213.8,880.7 215.0,933.8 216.3,1011.0 217.6,1041.2 218.8,1023.2 220.1,947.1 221.4,1047.1 222.6,1079.0 223.9,1104.0 225.2,1089.8 226.4,1097.0 227.7,1103.9 229.0,1044.1 230.2,1093.0 231.5,1084.9 232.8,1043.3 234.0,980.2 235.3,981.5 236.5,965.1 237.8,1020.9 239.1,1084.9 240.3,1062.4 241.6,1054.2 242.9,1113.6 244.1,994.7 245.4,1070.3 246.7,944.8 247.9,1041.4 249.2,1003.4 250.5,907.3 251.7,1015.3 253.0,1015.5 254.3,998.5 255.5,1009.3 256.8,937.4 258.0,1026.4 259.3,1062.9 260.6,1076.9 261.8,1098.5 263.1,1098.8 264.4,1098.3 265.6,1091.5 266.9,1075.5 268.2,1078.9 269.4,1027.9 270.7,1025.2 272.0,1041.5 273.2,1055.1 274.5,1049.0 275.8,1029.3 277.0,1025.4 278.3,1007.8 279.5,1043.5 280.8,1031.4 282.1,1081.0 283.3,1081.9 284.6,1097.8 285.9,1079.6 287.1,1102.5 288.4,1111.4 289.7,1102.5 290.9,1122.2 292.2,1117.2 293.5,1082.8 294.7,1013.4 296.0,1090.2 297.3,1101.3 298.5,1019.9 299.8,1104.3 301.0,1064.3 302.3,1020.0 303.6,1068.4 304.8,951.3 306.1,997.5 307.4,900.6 308.6,992.4 309.9,998.7 311.2,1043.1 312.4,1034.8 313.7,1057.6 315.0,995.0 316.2,981.9 317.5,854.2 318.8,1012.3 320.0,1032.0 321.3,1099.1 322.5,1095.7 323.8,1017.3 325.1,1077.7 326.3,1105.4 327.6,1029.8 328.9,1088.1 330.1,1110.8 331.4,1039.9 332.7,1069.8 333.9,1000.2 335.2,1078.0 336.5,1096.7 337.7,1091.3 339.0,1066.7 340.3,1056.3 341.5,1084.2 342.8,1077.1 344.0,1068.5 345.3,1012.6 346.6,1102.5 347.8,1042.5 349.1,953.7 350.4,1063.1 351.6,1087.1 352.9,1094.6 354.2,1104.0 355.4,1123.9 356.7,1091.8 358.0,1045.6 359.2,1087.2 360.5,933.8 361.8,1074.3 363.0,994.6 364.3,1099.9 365.5,1084.6 366.8,1114.2 368.1,1099.1 369.3,1105.8 370.6,1118.8 371.9,1103.3 373.1,979.3 374.4,927.2 375.7,992.0 376.9,1028.7 378.2,982.3 379.5,1010.4 380.7,1027.3 382.0,933.8 383.2,988.2 384.5,1023.6 385.8,969.8 387.0,933.8 388.3,933.8 389.6,963.0 390.8,1028.3 392.1,940.0 393.4,1028.4 394.6,1069.6 395.9,1030.2 397.2,1045.5 398.4,1082.6 399.7,1088.5 401.0,1055.4 402.2,1109.8 403.5,1079.9 404.7,1101.7 406.0,1092.3 407.3,1018.7 408.5,1094.6 409.8,1065.4 411.1,993.5 412.3,1079.3 413.6,1083.1 414.9,1110.6 416.1,1095.4 417.4,1124.7 418.7,1108.7 419.9,1108.6 421.2,1122.9 422.5,1129.3 423.7,1129.6 425.0,1120.2 426.2,1058.6 427.5,1116.1 428.8,1127.4 430.0,1077.7 431.3,1096.7 432.6,1093.9 433.8,1070.6 435.1,1069.0 436.4,1085.2 437.6,1042.1 438.9,1035.6 440.2,967.0 441.4,1008.2 442.7,1005.4 444.0,1004.6 445.2,933.8 446.5,1025.4 447.7,1058.7 449.0,1068.5 450.3,1070.3 451.5,966.3 452.8,933.8 454.1,1075.9 455.3,1102.9 456.6,1052.6 457.9,1112.1 459.1,1110.9 460.4,1118.5 461.7,1097.9 462.9,1106.3 464.2,1110.4 465.5,1110.6 466.7,1116.5 468.0,1128.0 469.2,1120.5 470.5,1121.1 471.8,1124.1 473.0,1123.5 474.3,1095.9 475.6,1096.3 476.8,1067.4 478.1,1031.2 479.4,1030.2 480.6,956.2 481.9,939.3 483.2,1034.2 484.4,977.0 485.7,979.8 487.0,933.8 488.2,945.6 489.5,927.2 490.7,1020.1 492.0,1004.2 493.3,1024.1 494.5,1015.7 495.8,1073.3 497.1,1074.8 498.3,967.5 499.6,994.3 500.9,1045.4 502.1,967.1 503.4,937.1 504.7,949.8 505.9,932.6 507.2,927.2 508.5,920.5 509.7,983.2 511.0,991.7 512.2,951.1 513.5,1044.4 514.8,999.7 516.0,1076.0 517.3,1098.6 518.6,1122.8 519.8,1122.0 521.1,1117.6 522.4,1121.5 523.6,1068.9 524.9,1138.1 526.2,1120.6 527.4,1085.3 528.7,1104.5 530.0,1036.0 531.2,1025.7 532.5,1088.1 533.7,1062.4 535.0,1036.3 536.3,1087.4 537.5,1048.0 538.8,1078.4 540.1,1080.5 541.3,1089.6 542.6,1013.4 543.9,943.1 545.1,1020.4 546.4,996.5 547.7,976.1 548.9,1005.5 550.2,1082.2 551.5,1025.8 552.7,1049.9 554.0,1023.0 555.2,935.0 556.5,920.5 557.8,1026.5 559.0,1003.4 560.3,1056.6 561.6,1031.6 562.8,1049.8 564.1,933.8 565.4,940.4 566.6,1016.9 567.9,1036.6 569.2,1094.0 570.4,1078.8 571.7,1070.2 572.9,1043.0 574.2,1112.3 575.5,1119.1 576.7,1073.3 578.0,1026.6 579.3,917.9 580.5,1049.8 581.8,1103.0 583.1,1033.8 584.3,1076.5 585.6,1106.6 586.9,1119.3 588.1,1134.0 589.4,1135.0 590.7,1111.5 591.9,1047.3 593.2,1061.5 594.4,1066.6 595.7,1088.9 597.0,1075.8 598.2,1067.4 599.5,1078.6 600.8,1065.8 602.0,1057.4 603.3,1040.8 604.6,1040.9 605.8,1054.2 607.1,1061.0 608.4,1005.5 609.6,1077.1 610.9,1078.6 612.2,1063.2 613.4,997.5 614.7,1076.9 615.9,1080.1 617.2,1097.4 618.5,1080.7 619.7,1096.4 621.0,1090.1 622.3,1084.3 623.5,1058.4 624.8,1087.8 626.1,1100.9 627.3,1112.7 628.6,1067.3 629.9,1067.6 631.1,1075.8 632.4,1038.2 633.7,946.1 634.9,1099.8 636.2,1097.7 637.4,1085.9 638.7,1091.6 640.0,1092.2 641.2,1064.5 642.5,1062.2 643.8,1057.3 645.0,1092.5 646.3,1083.0 647.6,1074.9 648.8,1052.0 650.1,1029.0 651.4,1041.7 652.6,1046.8 653.9,1052.1 655.2,1055.6 656.4,1013.4 657.7,1102.4 658.9,1054.4 660.2,990.9 661.5,1067.6 662.7,1056.1 664.0,1052.7 665.3,1081.9 666.5,1068.4 667.8,1078.0 669.1,1102.1 670.3,1082.6 671.6,1068.2 672.9,1090.4 674.1,1079.5 675.4,1081.8 676.7,1054.8 677.9,1040.6 679.2,1094.1 680.4,1109.2 681.7,999.9 683.0,1084.6 684.2,1074.6 685.5,1054.8 686.8,964.7 688.0,1017.0 689.3,995.3 690.6,1064.6 691.8,1075.7 693.1,1036.8 694.4,1124.6 695.6,1094.4 696.9,1090.2 698.2,1094.5 699.4,1062.5 700.7,1125.5 701.9,1117.7 703.2,1101.3 704.5,1105.2 705.7,1090.6 707.0,1088.3 708.3,1052.8 709.5,1057.2 710.8,1049.3 712.1,971.0 713.3,1067.5 714.6,1090.2 715.9,1071.0 717.1,1089.8 718.4,1010.8 719.7,1021.2 720.9,1075.9 722.2,1096.9 723.4,1014.3 724.7,924.5 726.0,1011.9 727.2,997.2 728.5,933.8 729.8,1053.4 731.0,990.7 732.3,1063.1 733.6,933.8 734.8,1003.4 736.1,1052.1 737.4,1066.6 738.6,1030.0 739.9,1002.8 741.2,933.8 742.4,1016.5 743.7,1070.6 744.9,1066.4 746.2,1081.1 747.5,1062.5 748.7,1071.5 750.0,1097.9 751.3,1068.5 752.5,942.7 753.8,1065.9 755.1,1038.5 756.3,1105.9 757.6,1019.7 758.9,1080.0 760.1,1101.6 761.4,1065.2 762.6,984.2 763.9,1078.7 765.2,1098.4 766.4,1035.4 767.7,928.5 769.0,1051.6 770.2,1088.0 771.5,1098.2 772.8,1074.8 774.0,1049.3 775.3,1076.8" fill="none" stroke="#c00000" stroke-width="0.95" stroke-opacity="1.0"/><polyline points="78.5,933.8 79.7,887.0 81.0,963.2 82.3,1041.9 83.5,1058.4 84.8,1054.0 86.1,1065.8 87.3,1049.7 88.6,1047.8 89.8,1052.3 91.1,1013.0 92.4,1000.8 93.6,1013.0 94.9,991.4 96.2,981.5 97.4,949.6 98.7,959.1 100.0,956.4 101.2,913.3 102.5,940.5 103.8,942.4 105.0,973.9 106.3,1011.2 107.6,1032.5 108.8,1049.4 110.1,1032.3 111.3,1015.1 112.6,1003.6 113.9,986.4 115.1,974.8 116.4,987.3 117.7,996.5 118.9,996.8 120.2,998.5 121.5,1011.1 122.7,1012.8 124.0,1023.0 125.3,999.5 126.5,1028.5 127.8,1025.2 129.1,1009.4 130.3,988.5 131.6,966.4 132.8,944.8 134.1,929.5 135.4,935.8 136.6,918.8 137.9,873.2 139.2,897.1 140.4,900.8 141.7,881.9 143.0,851.9 144.2,830.0 145.5,864.0 146.8,906.5 148.0,906.9 149.3,938.5 150.6,946.4 151.8,963.0 153.1,983.9 154.3,929.3 155.6,923.5 156.9,946.6 158.1,958.0 159.4,957.0 160.7,981.7 161.9,993.7 163.2,1008.4 164.5,1008.2 165.7,1026.0 167.0,1011.0 168.3,1023.3 169.5,1038.7 170.8,1040.2 172.1,1047.9 173.3,1058.3 174.6,1066.8 175.8,1087.9 177.1,1095.6 178.4,1109.5 179.6,1110.2 180.9,1111.5 182.2,1111.0 183.4,1117.1 184.7,1117.7 186.0,1108.6 187.2,1102.3 188.5,1096.1 189.8,1091.1 191.0,1094.6 192.3,1085.2 193.5,1082.8 194.8,1077.6 196.1,1082.0 197.3,1087.5 198.6,1093.8 199.9,1097.0 201.1,1108.6 202.4,1112.9 203.7,1111.7 204.9,1105.1 206.2,1091.2 207.5,1086.6 208.7,1076.1 210.0,1080.5 211.3,1073.3 212.5,1063.9 213.8,1071.4 215.0,1051.7 216.3,1065.5 217.6,1055.7 218.8,1070.0 220.1,1082.6 221.4,1090.0 222.6,1097.4 223.9,1110.7 225.2,1117.4 226.4,1124.8 227.7,1107.9 229.0,1105.3 230.2,1105.9 231.5,1098.3 232.8,1092.8 234.0,1073.1 235.3,1059.1 236.5,1071.7 237.8,1073.5 239.1,1080.6 240.3,1091.0 241.6,1088.0 242.9,1093.1 244.1,1086.9 245.4,1076.9 246.7,1078.9 247.9,1074.7 249.2,1066.1 250.5,1063.9 251.7,1073.9 253.0,1058.7 254.3,1067.6 255.5,1084.0 256.8,1091.4 258.0,1101.8 259.3,1114.0 260.6,1111.5 261.8,1118.2 263.1,1123.8 264.4,1131.7 265.6,1123.1 266.9,1116.7 268.2,1106.6 269.4,1107.5 270.7,1097.3 272.0,1088.5 273.2,1082.3 274.5,1060.4 275.8,1040.4 277.0,1041.5 278.3,1031.0 279.5,1028.3 280.8,1045.4 282.1,1055.0 283.3,1055.9 284.6,1079.8 285.9,1096.9 287.1,1110.4 288.4,1118.2 289.7,1120.7 290.9,1120.8 292.2,1133.2 293.5,1133.1 294.7,1128.6 296.0,1125.3 297.3,1116.3 298.5,1117.5 299.8,1115.3 301.0,1107.0 302.3,1095.2 303.6,1083.6 304.8,1076.6 306.1,1061.1 307.4,1056.9 308.6,1045.1 309.9,1032.6 311.2,1034.9 312.4,1052.8 313.7,1060.7 315.0,1071.1 316.2,1075.6 317.5,1082.6 318.8,1089.7 320.0,1094.1 321.3,1103.0 322.5,1100.6 323.8,1108.6 325.1,1115.2 326.3,1116.6 327.6,1116.5 328.9,1110.8 330.1,1112.3 331.4,1113.8 332.7,1109.9 333.9,1117.1 335.2,1110.6 336.5,1102.2 337.7,1101.5 339.0,1099.0 340.3,1090.8 341.5,1097.8 342.8,1099.1 344.0,1093.7 345.3,1107.2 346.6,1108.9 347.8,1107.0 349.1,1117.3 350.4,1117.9 351.6,1112.7 352.9,1117.4 354.2,1121.9 355.4,1127.2 356.7,1128.4 358.0,1121.5 359.2,1120.3 360.5,1118.0 361.8,1113.1 363.0,1109.3 364.3,1116.5 365.5,1109.0 366.8,1113.6 368.1,1117.5 369.3,1112.0 370.6,1114.9 371.9,1113.2 373.1,1112.9 374.4,1109.9 375.7,1094.0 376.9,1101.3 378.2,1076.3 379.5,1066.7 380.7,1061.7 382.0,1043.3 383.2,1025.1 384.5,997.3 385.8,1019.3 387.0,1031.2 388.3,1038.6 389.6,1066.3 390.8,1072.5 392.1,1073.3 393.4,1077.2 394.6,1088.9 395.9,1099.9 397.2,1112.1 398.4,1118.7 399.7,1116.0 401.0,1116.9 402.2,1118.9 403.5,1119.8 404.7,1121.8 406.0,1122.8 407.3,1122.0 408.5,1121.2 409.8,1115.8 411.1,1114.9 412.3,1114.6 413.6,1114.5 414.9,1118.0 416.1,1117.6 417.4,1124.6 418.7,1120.8 419.9,1127.1 421.2,1129.0 422.5,1138.4 423.7,1143.9 425.0,1142.5 426.2,1141.5 427.5,1137.3 428.8,1133.0 430.0,1131.6 431.3,1122.7 432.6,1116.5 433.8,1110.3 435.1,1104.0 436.4,1096.1 437.6,1088.0 438.9,1088.1 440.2,1071.2 441.4,1059.2 442.7,1037.6 444.0,1062.4 445.2,1059.8 446.5,1060.6 447.7,1052.2 449.0,1067.3 450.3,1081.4 451.5,1092.5 452.8,1097.3 454.1,1109.4 455.3,1114.5 456.6,1124.2 457.9,1129.9 459.1,1124.1 460.4,1126.6 461.7,1130.5 462.9,1131.2 464.2,1134.6 465.5,1135.7 466.7,1130.7 468.0,1131.6 469.2,1124.8 470.5,1121.5 471.8,1124.8 473.0,1122.6 474.3,1121.8 475.6,1123.1 476.8,1111.7 478.1,1109.1 479.4,1086.6 480.6,1082.5 481.9,1068.5 483.2,1058.6 484.4,1061.6 485.7,1052.1 487.0,1066.4 488.2,1070.3 489.5,1060.9 490.7,1077.2 492.0,1081.7 493.3,1069.1 494.5,1080.8 495.8,1072.4 497.1,1055.3 498.3,1056.7 499.6,1052.7 500.9,1051.1 502.1,1029.3 503.4,1013.8 504.7,1001.5 505.9,1030.0 507.2,1036.1 508.5,1028.8 509.7,1038.2 511.0,1044.3 512.2,1057.8 513.5,1084.7 514.8,1098.4 516.0,1096.6 517.3,1111.0 518.6,1121.8 519.8,1128.5 521.1,1133.6 522.4,1132.9 523.6,1132.0 524.9,1128.7 526.2,1122.5 527.4,1122.8 528.7,1123.1 530.0,1118.6 531.2,1112.6 532.5,1102.5 533.7,1107.1 535.0,1095.8 536.3,1090.4 537.5,1072.9 538.8,1076.8 540.1,1078.5 541.3,1082.0 542.6,1072.4 543.9,1075.8 545.1,1057.8 546.4,1054.0 547.7,1036.9 548.9,1045.3 550.2,1060.1 551.5,1071.3 552.7,1073.9 554.0,1070.5 555.2,1076.9 556.5,1058.3 557.8,1068.9 559.0,1078.5 560.3,1073.7 561.6,1083.7 562.8,1086.4 564.1,1089.0 565.4,1099.2 566.6,1098.7 567.9,1088.8 569.2,1101.6 570.4,1106.9 571.7,1109.3 572.9,1109.3 574.2,1109.1 575.5,1118.9 576.7,1108.1 578.0,1108.9 579.3,1106.8 580.5,1109.4 581.8,1108.9 583.1,1114.7 584.3,1113.2 585.6,1115.9 586.9,1118.7 588.1,1116.0 589.4,1121.0 590.7,1111.4 591.9,1106.9 593.2,1089.5 594.4,1083.8 595.7,1066.5 597.0,1071.0 598.2,1075.3 599.5,1087.5 600.8,1090.5 602.0,1095.2 603.3,1093.2 604.6,1090.2 605.8,1097.6 607.1,1101.9 608.4,1099.6 609.6,1106.2 610.9,1109.9 612.2,1110.6 613.4,1116.8 614.7,1107.2 615.9,1112.4 617.2,1115.6 618.5,1117.1 619.7,1115.9 621.0,1119.6 622.3,1124.9 623.5,1124.0 624.8,1123.4 626.1,1120.5 627.3,1116.9 628.6,1112.6 629.9,1112.8 631.1,1105.8 632.4,1104.7 633.7,1104.0 634.9,1100.1 636.2,1095.0 637.4,1096.8 638.7,1101.4 640.0,1098.9 641.2,1082.4 642.5,1092.0 643.8,1090.0 645.0,1090.2 646.3,1103.0 647.6,1102.8 648.8,1090.6 650.1,1083.3 651.4,1085.0 652.6,1082.9 653.9,1091.8 655.2,1094.5 656.4,1097.3 657.7,1099.8 658.9,1101.3 660.2,1096.9 661.5,1100.4 662.7,1110.2 664.0,1114.2 665.3,1123.9 666.5,1121.2 667.8,1120.6 669.1,1117.7 670.3,1114.0 671.6,1121.7 672.9,1119.1 674.1,1120.8 675.4,1116.9 676.7,1123.7 677.9,1123.9 679.2,1123.8 680.4,1123.3 681.7,1122.5 683.0,1124.7 684.2,1116.2 685.5,1090.1 686.8,1087.5 688.0,1067.3 689.3,1054.3 690.6,1067.3 691.8,1074.5 693.1,1091.3 694.4,1108.7 695.6,1116.0 696.9,1122.1 698.2,1129.5 699.4,1125.1 700.7,1125.5 701.9,1121.0 703.2,1115.3 704.5,1112.9 705.7,1110.3 707.0,1114.3 708.3,1107.4 709.5,1102.6 710.8,1094.5 712.1,1097.8 713.3,1104.5 714.6,1081.5 715.9,1086.7 717.1,1090.6 718.4,1086.9 719.7,1092.3 720.9,1077.8 722.2,1079.7 723.4,1069.2 724.7,1068.3 726.0,1066.2 727.2,1061.9 728.5,1069.0 729.8,1062.8 731.0,1063.2 732.3,1058.8 733.6,1059.0 734.8,1059.0 736.1,1063.6 737.4,1065.5 738.6,1065.8 739.9,1069.1 741.2,1071.9 742.4,1080.4 743.7,1070.1 744.9,1081.4 746.2,1090.1 747.5,1089.6 748.7,1091.0 750.0,1093.5 751.3,1097.5 752.5,1102.6 753.8,1100.6 755.1,1104.4 756.3,1120.2 757.6,1117.6 758.9,1117.3 760.1,1124.8 761.4,1123.0 762.6,1129.3 763.9,1127.6 765.2,1123.0 766.4,1116.3 767.7,1112.1 769.0,1114.4 770.2,1111.6 771.5,1101.8 772.8,1101.2 774.0,1100.5 775.3,1097.8" fill="none" stroke="#7ae052" stroke-width="0.95" stroke-opacity="1.0"/><polyline points="78.5,787.8 79.7,882.7 81.0,968.8 82.3,1028.4 83.5,1043.0 84.8,1049.4 86.1,1059.6 87.3,1067.8 88.6,1073.1 89.8,1063.8 91.1,1057.9 92.4,1039.6 93.6,1039.0 94.9,1028.2 96.2,1004.6 97.4,1002.6 98.7,994.0 100.0,977.2 101.2,972.9 102.5,986.8 103.8,1000.2 105.0,997.5 106.3,1017.3 107.6,1034.3 108.8,1050.4 110.1,1054.9 111.3,1043.3 112.6,1025.5 113.9,1021.6 115.1,1027.3 116.4,1022.7 117.7,1013.9 118.9,1016.3 120.2,1018.3 121.5,1035.2 122.7,1044.2 124.0,1051.6 125.3,1022.5 126.5,1003.4 127.8,988.5 129.1,974.8 130.3,969.7 131.6,959.5 132.8,937.0 134.1,894.1 135.4,857.5 136.6,827.8 137.9,842.4 139.2,832.6 140.4,818.7 141.7,854.5 143.0,850.6 144.2,853.2 145.5,865.2 146.8,848.0 148.0,866.6 149.3,864.5 150.6,882.9 151.8,907.4 153.1,911.4 154.3,932.8 155.6,954.9 156.9,979.1 158.1,983.8 159.4,1014.7 160.7,1003.2 161.9,998.0 163.2,991.2 164.5,1028.2 165.7,1041.8 167.0,1045.1 168.3,1039.9 169.5,1058.2 170.8,1075.6 172.1,1079.0 173.3,1093.8 174.6,1087.4 175.8,1099.2 177.1,1104.6 178.4,1119.6 179.6,1114.5 180.9,1113.8 182.2,1117.9 183.4,1117.4 184.7,1112.3 186.0,1094.0 187.2,1096.6 188.5,1085.5 189.8,1089.7 191.0,1084.5 192.3,1085.3 193.5,1075.8 194.8,1071.3 196.1,1082.5 197.3,1083.6 198.6,1088.8 199.9,1099.9 201.1,1107.7 202.4,1109.8 203.7,1116.8 204.9,1099.5 206.2,1103.9 207.5,1099.4 208.7,1095.8 210.0,1090.1 211.3,1087.7 212.5,1084.6 213.8,1087.9 215.0,1082.2 216.3,1088.8 217.6,1103.4 218.8,1106.3 220.1,1106.4 221.4,1107.5 222.6,1118.4 223.9,1124.4 225.2,1131.2 226.4,1131.0 227.7,1119.5 229.0,1121.8 230.2,1116.2 231.5,1107.6 232.8,1095.5 234.0,1089.1 235.3,1073.6 236.5,1072.9 237.8,1075.0 239.1,1083.0 240.3,1082.3 241.6,1094.5 242.9,1111.5 244.1,1103.7 245.4,1101.6 246.7,1088.5 247.9,1083.3 249.2,1090.6 250.5,1084.9 251.7,1069.5 253.0,1072.2 254.3,1087.3 255.5,1078.7 256.8,1092.1 258.0,1106.4 259.3,1118.6 260.6,1125.0 261.8,1123.1 263.1,1127.7 264.4,1134.9 265.6,1125.6 266.9,1118.2 268.2,1115.4 269.4,1110.4 270.7,1102.9 272.0,1091.4 273.2,1082.3 274.5,1072.5 275.8,1060.2 277.0,1060.4 278.3,1054.2 279.5,1067.2 280.8,1061.2 282.1,1078.8 283.3,1092.6 284.6,1095.2 285.9,1087.9 287.1,1096.5 288.4,1108.3 289.7,1109.8 290.9,1121.7 292.2,1134.6 293.5,1125.0 294.7,1122.5 296.0,1120.9 297.3,1124.4 298.5,1116.5 299.8,1119.7 301.0,1111.2 302.3,1101.7 303.6,1101.8 304.8,1092.4 306.1,1074.7 307.4,1082.2 308.6,1077.7 309.9,1059.2 311.2,1071.4 312.4,1077.6 313.7,1062.5 315.0,1080.6 316.2,1086.9 317.5,1096.7 318.8,1104.7 320.0,1109.9 321.3,1107.8 322.5,1110.0 323.8,1119.9 325.1,1120.4 326.3,1124.9 327.6,1129.3 328.9,1128.9 330.1,1131.9 331.4,1130.2 332.7,1127.4 333.9,1126.6 335.2,1125.3 336.5,1121.3 337.7,1108.8 339.0,1108.7 340.3,1109.4 341.5,1107.0 342.8,1097.9 344.0,1101.2 345.3,1116.4 346.6,1123.2 347.8,1123.3 349.1,1128.5 350.4,1126.1 351.6,1124.3 352.9,1130.1 354.2,1130.8 355.4,1135.2 356.7,1129.8 358.0,1128.0 359.2,1128.7 360.5,1129.2 361.8,1121.3 363.0,1117.9 364.3,1117.0 365.5,1112.3 366.8,1112.9 368.1,1105.8 369.3,1111.5 370.6,1105.5 371.9,1097.6 373.1,1095.7 374.4,1105.6 375.7,1092.2 376.9,1087.3 378.2,1082.8 379.5,1066.6 380.7,1063.9 382.0,1056.8 383.2,1033.5 384.5,1020.6 385.8,1019.8 387.0,1030.4 388.3,1051.4 389.6,1061.3 390.8,1067.9 392.1,1084.8 393.4,1082.6 394.6,1096.6 395.9,1111.7 397.2,1119.8 398.4,1121.2 399.7,1124.8 401.0,1121.6 402.2,1124.2 403.5,1129.5 404.7,1127.6 406.0,1124.7 407.3,1130.8 408.5,1129.4 409.8,1133.2 411.1,1131.6 412.3,1133.2 413.6,1130.3 414.9,1135.1 416.1,1142.1 417.4,1140.8 418.7,1142.9 419.9,1145.5 421.2,1146.0 422.5,1147.8 423.7,1152.4 425.0,1144.6 426.2,1140.7 427.5,1141.0 428.8,1139.0 430.0,1141.5 431.3,1136.2 432.6,1123.3 433.8,1124.6 435.1,1113.1 436.4,1107.6 437.6,1100.7 438.9,1083.4 440.2,1074.7 441.4,1063.0 442.7,1061.7 444.0,1059.5 445.2,1062.0 446.5,1068.8 447.7,1065.7 449.0,1082.0 450.3,1094.3 451.5,1099.7 452.8,1109.5 454.1,1111.2 455.3,1109.9 456.6,1113.1 457.9,1124.9 459.1,1120.8 460.4,1132.3 461.7,1135.9 462.9,1137.8 464.2,1146.4 465.5,1144.0 466.7,1143.1 468.0,1140.8 469.2,1138.8 470.5,1133.8 471.8,1131.9 473.0,1126.6 474.3,1126.1 475.6,1126.5 476.8,1123.3 478.1,1112.8 479.4,1097.1 480.6,1080.3 481.9,1073.9 483.2,1053.0 484.4,1044.9 485.7,1033.6 487.0,1057.7 488.2,1068.3 489.5,1073.7 490.7,1081.4 492.0,1065.4 493.3,1073.5 494.5,1088.1 495.8,1088.8 497.1,1084.4 498.3,1074.0 499.6,1075.9 500.9,1064.8 502.1,1053.3 503.4,1047.0 504.7,1023.9 505.9,1039.0 507.2,1038.8 508.5,1045.0 509.7,1057.0 511.0,1061.2 512.2,1085.5 513.5,1092.0 514.8,1109.3 516.0,1123.0 517.3,1129.0 518.6,1136.7 519.8,1146.9 521.1,1146.0 522.4,1144.1 523.6,1142.3 524.9,1135.6 526.2,1125.8 527.4,1125.7 528.7,1118.2 530.0,1116.9 531.2,1106.1 532.5,1095.7 533.7,1093.1 535.0,1081.2 536.3,1068.6 537.5,1078.1 538.8,1066.3 540.1,1058.3 541.3,1045.9 542.6,1051.4 543.9,1039.3 545.1,1036.7 546.4,1028.2 547.7,1036.2 548.9,1046.0 550.2,1057.8 551.5,1061.0 552.7,1067.9 554.0,1060.1 555.2,1074.8 556.5,1077.1 557.8,1069.2 559.0,1080.6 560.3,1092.8 561.6,1096.0 562.8,1088.3 564.1,1090.0 565.4,1097.8 566.6,1095.3 567.9,1103.7 569.2,1103.8 570.4,1105.9 571.7,1107.4 572.9,1115.2 574.2,1115.9 575.5,1113.2 576.7,1112.5 578.0,1124.3 579.3,1120.7 580.5,1123.9 581.8,1128.8 583.1,1134.0 584.3,1140.2 585.6,1134.6 586.9,1132.1 588.1,1131.9 589.4,1133.9 590.7,1112.7 591.9,1113.5 593.2,1106.1 594.4,1105.9 595.7,1106.8 597.0,1109.8 598.2,1111.3 599.5,1112.7 600.8,1112.2 602.0,1113.5 603.3,1113.2 604.6,1114.2 605.8,1111.3 607.1,1113.3 608.4,1107.7 609.6,1104.1 610.9,1105.4 612.2,1114.0 613.4,1115.8 614.7,1113.9 615.9,1120.7 617.2,1125.4 618.5,1119.4 619.7,1117.8 621.0,1123.4 622.3,1127.7 623.5,1127.1 624.8,1128.1 626.1,1128.9 627.3,1123.0 628.6,1123.4 629.9,1123.6 631.1,1115.8 632.4,1116.6 633.7,1115.3 634.9,1110.4 636.2,1111.5 637.4,1110.2 638.7,1107.0 640.0,1097.5 641.2,1094.4 642.5,1085.2 643.8,1095.0 645.0,1104.3 646.3,1109.8 647.6,1104.6 648.8,1091.5 650.1,1091.2 651.4,1098.6 652.6,1096.2 653.9,1102.8 655.2,1097.7 656.4,1108.3 657.7,1096.7 658.9,1108.0 660.2,1113.6 661.5,1109.5 662.7,1116.1 664.0,1122.7 665.3,1121.5 666.5,1127.7 667.8,1125.4 669.1,1126.6 670.3,1127.9 671.6,1128.1 672.9,1125.1 674.1,1129.4 675.4,1134.0 676.7,1133.7 677.9,1137.5 679.2,1139.4 680.4,1132.3 681.7,1128.5 683.0,1123.7 684.2,1117.1 685.5,1110.9 686.8,1106.0 688.0,1009.3 689.3,923.2 690.6,1025.0 691.8,1093.8 693.1,1108.4 694.4,1117.6 695.6,1121.7 696.9,1130.2 698.2,1128.3 699.4,1124.9 700.7,1125.1 701.9,1126.6 703.2,1126.2 704.5,1121.9 705.7,1126.5 707.0,1128.0 708.3,1122.7 709.5,1120.0 710.8,1107.6 712.1,1108.0 713.3,1106.0 714.6,1099.1 715.9,1102.1 717.1,1095.7 718.4,1094.0 719.7,1094.2 720.9,1089.5 722.2,1092.9 723.4,1097.9 724.7,1088.2 726.0,1076.8 727.2,1070.9 728.5,1062.8 729.8,1065.4 731.0,1070.8 732.3,1075.3 733.6,1075.9 734.8,1072.8 736.1,1070.1 737.4,1064.5 738.6,1072.3 739.9,1086.2 741.2,1086.2 742.4,1086.6 743.7,1092.3 744.9,1098.4 746.2,1111.4 747.5,1112.3 748.7,1110.2 750.0,1113.8 751.3,1114.8 752.5,1115.9 753.8,1121.6 755.1,1122.1 756.3,1130.8 757.6,1129.6 758.9,1124.8 760.1,1121.1 761.4,1121.0 762.6,1126.4 763.9,1127.4 765.2,1120.7 766.4,1121.6 767.7,1113.5 769.0,1114.2 770.2,1121.4 771.5,1117.3 772.8,1120.0 774.0,1105.8 775.3,1103.2" fill="none" stroke="#0000e6" stroke-width="0.95" stroke-opacity="1.0"/><polyline points="78.5,907.3 79.7,893.7 81.0,965.8 82.3,1024.1 83.5,1045.4 84.8,1059.6 86.1,1076.0 87.3,1074.3 88.6,1064.9 89.8,1069.2 91.1,1060.9 92.4,1057.4 93.6,1044.2 94.9,1020.4 96.2,1018.0 97.4,964.3 98.7,958.0 100.0,931.3 101.2,916.5 102.5,932.7 103.8,943.5 105.0,946.5 106.3,975.8 107.6,993.6 108.8,1025.2 110.1,1001.3 111.3,984.2 112.6,977.7 113.9,983.1 115.1,978.1 116.4,960.9 117.7,977.0 118.9,970.4 120.2,981.6 121.5,992.1 122.7,1006.9 124.0,1029.3 125.3,982.2 126.5,949.3 127.8,928.4 129.1,883.3 130.3,860.6 131.6,839.2 132.8,833.6 134.1,761.3 135.4,822.4 136.6,817.0 137.9,787.8 139.2,813.7 140.4,815.3 141.7,799.8 143.0,799.2 144.2,789.1 145.5,802.9 146.8,821.2 148.0,834.1 149.3,840.4 150.6,861.2 151.8,920.7 153.1,921.3 154.3,915.6 155.6,906.1 156.9,926.8 158.1,938.4 159.4,945.2 160.7,948.8 161.9,958.2 163.2,982.3 164.5,1011.5 165.7,1028.4 167.0,1037.7 168.3,1061.5 169.5,1065.6 170.8,1077.8 172.1,1066.8 173.3,1073.4 174.6,1092.9 175.8,1099.6 177.1,1109.1 178.4,1103.0 179.6,1104.0 180.9,1106.1 182.2,1102.0 183.4,1108.0 184.7,1099.7 186.0,1085.6 187.2,1086.5 188.5,1085.1 189.8,1090.6 191.0,1069.9 192.3,1058.6 193.5,1060.6 194.8,1065.0 196.1,1073.1 197.3,1072.1 198.6,1086.3 199.9,1081.6 201.1,1094.1 202.4,1103.0 203.7,1103.5 204.9,1079.6 206.2,1088.6 207.5,1086.0 208.7,1069.8 210.0,1073.8 211.3,1065.8 212.5,1065.6 213.8,1057.9 215.0,1054.8 216.3,1076.8 217.6,1090.1 218.8,1088.5 220.1,1094.5 221.4,1100.3 222.6,1102.1 223.9,1112.7 225.2,1121.2 226.4,1132.4 227.7,1122.8 229.0,1120.9 230.2,1113.9 231.5,1097.1 232.8,1079.5 234.0,1077.3 235.3,1069.8 236.5,1074.1 237.8,1082.8 239.1,1085.5 240.3,1101.1 241.6,1102.2 242.9,1105.2 244.1,1091.9 245.4,1090.6 246.7,1077.9 247.9,1067.5 249.2,1069.4 250.5,1072.8 251.7,1053.9 253.0,1055.0 254.3,1066.5 255.5,1081.8 256.8,1096.5 258.0,1103.7 259.3,1094.8 260.6,1109.1 261.8,1113.4 263.1,1112.5 264.4,1118.9 265.6,1115.3 266.9,1098.2 268.2,1087.4 269.4,1085.3 270.7,1082.1 272.0,1086.4 273.2,1076.2 274.5,1061.2 275.8,1062.0 277.0,1051.9 278.3,1032.3 279.5,1030.5 280.8,1051.1 282.1,1056.6 283.3,1071.3 284.6,1082.0 285.9,1101.4 287.1,1104.0 288.4,1112.8 289.7,1125.0 290.9,1130.4 292.2,1132.4 293.5,1124.2 294.7,1123.5 296.0,1118.1 297.3,1107.8 298.5,1111.4 299.8,1107.5 301.0,1104.0 302.3,1102.1 303.6,1093.9 304.8,1087.0 306.1,1010.7 307.4,927.2 308.6,1016.4 309.9,1064.7 311.2,1072.2 312.4,1075.2 313.7,1068.9 315.0,1067.4 316.2,1089.3 317.5,1098.6 318.8,1095.6 320.0,1094.5 321.3,1100.3 322.5,1106.9 323.8,1109.9 325.1,1123.0 326.3,1123.4 327.6,1113.3 328.9,1118.2 330.1,1122.8 331.4,1126.5 332.7,1125.1 333.9,1123.3 335.2,1123.7 336.5,1113.4 337.7,1105.1 339.0,1098.9 340.3,1103.0 341.5,1097.7 342.8,1082.5 344.0,1096.9 345.3,1100.8 346.6,1106.6 347.8,1113.9 349.1,1113.0 350.4,1117.7 351.6,1119.4 352.9,1119.1 354.2,1122.5 355.4,1119.5 356.7,1121.7 358.0,1120.9 359.2,1121.3 360.5,1116.4 361.8,1115.4 363.0,1111.7 364.3,1109.4 365.5,1104.2 366.8,1111.4 368.1,1107.3 369.3,1110.4 370.6,1114.8 371.9,1106.2 373.1,1097.7 374.4,1096.5 375.7,1092.2 376.9,1084.8 378.2,1082.6 379.5,1064.3 380.7,1060.3 382.0,1049.8 383.2,1035.1 384.5,1030.4 385.8,1038.2 387.0,1040.4 388.3,1046.6 389.6,1056.8 390.8,1057.3 392.1,1068.1 393.4,1082.2 394.6,1095.4 395.9,1095.1 397.2,1108.4 398.4,1111.8 399.7,1098.0 401.0,1103.7 402.2,1102.9 403.5,1108.2 404.7,1111.1 406.0,1109.4 407.3,1106.8 408.5,1109.0 409.8,1105.0 411.1,1107.0 412.3,1109.5 413.6,1109.4 414.9,1124.1 416.1,1129.3 417.4,1128.3 418.7,1132.2 419.9,1134.9 421.2,1139.2 422.5,1142.3 423.7,1143.3 425.0,1145.4 426.2,1143.9 427.5,1140.0 428.8,1135.2 430.0,1132.7 431.3,1129.0 432.6,1117.6 433.8,1101.6 435.1,1099.4 436.4,1099.8 437.6,1097.0 438.9,1081.2 440.2,1065.1 441.4,1072.7 442.7,1050.9 444.0,1039.8 445.2,1057.4 446.5,1055.8 447.7,1061.7 449.0,1067.8 450.3,1074.2 451.5,1083.4 452.8,1089.5 454.1,1096.0 455.3,1098.5 456.6,1110.0 457.9,1126.6 459.1,1124.9 460.4,1126.8 461.7,1122.9 462.9,1129.5 464.2,1135.2 465.5,1124.9 466.7,1127.8 468.0,1122.3 469.2,1122.8 470.5,1119.8 471.8,1118.3 473.0,1117.5 474.3,1122.9 475.6,1115.6 476.8,1104.0 478.1,1090.3 479.4,1071.3 480.6,1051.0 481.9,1046.3 483.2,1049.0 484.4,1050.8 485.7,1048.6 487.0,1060.8 488.2,1066.8 489.5,1059.7 490.7,1069.8 492.0,1083.6 493.3,1086.4 494.5,1086.2 495.8,1081.7 497.1,1067.5 498.3,1058.2 499.6,1051.1 500.9,1055.5 502.1,1042.0 503.4,1012.7 504.7,1017.4 505.9,1006.0 507.2,1005.7 508.5,1022.3 509.7,1033.7 511.0,1063.8 512.2,1072.8 513.5,1090.0 514.8,1090.5 516.0,1108.2 517.3,1114.9 518.6,1123.8 519.8,1134.9 521.1,1121.7 522.4,1126.3 523.6,1122.0 524.9,1118.9 526.2,1122.1 527.4,1118.9 528.7,1117.5 530.0,1102.9 531.2,1110.4 532.5,1099.0 533.7,1084.8 535.0,1081.6 536.3,1077.7 537.5,1084.8 538.8,1079.7 540.1,1075.6 541.3,1061.7 542.6,1064.2 543.9,1041.9 545.1,1045.8 546.4,1041.0 547.7,1034.6 548.9,1037.1 550.2,1024.7 551.5,1019.6 552.7,1038.1 554.0,1042.2 555.2,1050.0 556.5,1053.0 557.8,1065.4 559.0,1069.3 560.3,1080.2 561.6,1068.6 562.8,1064.0 564.1,1081.4 565.4,1088.0 566.6,1093.0 567.9,1094.0 569.2,1092.6 570.4,1097.0 571.7,1093.2 572.9,1089.2 574.2,1096.1 575.5,1109.2 576.7,1106.8 578.0,1108.0 579.3,1103.4 580.5,1106.8 581.8,1114.9 583.1,1124.4 584.3,1120.7 585.6,1126.1 586.9,1131.2 588.1,1132.3 589.4,1133.3 590.7,1125.6 591.9,1111.1 593.2,1116.2 594.4,1104.6 595.7,1093.1 597.0,1092.1 598.2,1101.0 599.5,1098.6 600.8,1097.2 602.0,1097.2 603.3,1100.3 604.6,1105.6 605.8,1110.2 607.1,1100.5 608.4,1098.1 609.6,1098.0 610.9,1093.2 612.2,1104.3 613.4,1109.6 614.7,1110.2 615.9,1114.7 617.2,1127.9 618.5,1122.7 619.7,1125.7 621.0,1129.1 622.3,1127.6 623.5,1114.8 624.8,1106.7 626.1,1111.6 627.3,1104.0 628.6,1095.0 629.9,1095.9 631.1,1092.3 632.4,1104.1 633.7,1105.8 634.9,1092.0 636.2,1091.4 637.4,1087.9 638.7,1093.5 640.0,1093.1 641.2,1097.4 642.5,1097.4 643.8,1097.9 645.0,1097.8 646.3,1096.9 647.6,1097.0 648.8,1090.3 650.1,1088.9 651.4,1091.4 652.6,1086.8 653.9,1096.6 655.2,1098.2 656.4,1099.4 657.7,1101.9 658.9,1099.2 660.2,1101.8 661.5,1100.4 662.7,1105.6 664.0,1110.4 665.3,1112.9 666.5,1108.6 667.8,1114.8 669.1,1109.8 670.3,1106.5 671.6,1115.7 672.9,1122.9 674.1,1117.6 675.4,1120.3 676.7,1123.2 677.9,1129.4 679.2,1129.1 680.4,1125.1 681.7,1124.5 683.0,1115.3 684.2,1105.2 685.5,1095.2 686.8,1086.0 688.0,1060.5 689.3,1047.9 690.6,1059.5 691.8,1073.7 693.1,1096.7 694.4,1110.4 695.6,1106.1 696.9,1115.9 698.2,1127.1 699.4,1124.7 700.7,1130.4 701.9,1128.6 703.2,1121.6 704.5,1129.1 705.7,1122.5 707.0,1124.4 708.3,1122.0 709.5,1114.5 710.8,1113.1 712.1,1100.6 713.3,1095.0 714.6,1094.1 715.9,1097.2 717.1,1094.3 718.4,1101.5 719.7,1105.1 720.9,1100.5 722.2,1095.5 723.4,1078.1 724.7,1093.9 726.0,1088.7 727.2,1073.5 728.5,1072.0 729.8,1058.7 731.0,1061.6 732.3,1067.3 733.6,1055.8 734.8,1055.7 736.1,1062.0 737.4,1064.5 738.6,1077.6 739.9,1073.9 741.2,1082.9 742.4,1083.7 743.7,1090.8 744.9,1095.4 746.2,1095.1 747.5,1097.0 748.7,1105.4 750.0,1114.6 751.3,1114.8 752.5,1112.0 753.8,1110.5 755.1,1112.5 756.3,1114.7 757.6,1123.0 758.9,1121.0 760.1,1118.0 761.4,1123.5 762.6,1124.1 763.9,1127.8 765.2,1119.2 766.4,1114.1 767.7,1114.5 769.0,1110.9 770.2,1110.0 771.5,1120.0 772.8,1105.8 774.0,1101.4 775.3,1107.8" fill="none" stroke="#ffff10" stroke-width="0.95" stroke-opacity="1.0"/></g>
<g clip-path="url(#cC)"><polyline points="1029.8,429.4 1030.3,424.4 1030.9,407.3 1031.4,453.3 1031.9,435.3 1032.4,459.9 1033.0,439.1 1033.5,438.4 1034.0,442.0 1034.5,409.4 1035.1,397.3 1035.6,436.3 1036.1,423.9 1036.7,409.9 1037.2,451.5 1037.7,389.0 1038.2,403.9 1038.8,412.3 1039.3,416.6 1039.8,442.1 1040.3,468.7 1040.9,431.1 1041.4,431.7 1041.9,433.6 1042.4,446.3 1043.0,417.9 1043.5,406.5 1044.0,425.1 1044.6,430.6 1045.1,358.2 1045.6,392.5 1046.1,417.9 1046.7,441.1 1047.2,425.2 1047.7,426.3 1048.2,398.2 1048.8,383.7 1049.3,391.5 1049.8,394.0 1050.4,405.9 1050.9,382.7 1051.4,430.7 1051.9,416.2 1052.5,378.4 1053.0,369.7 1053.5,357.5 1054.0,396.1 1054.6,359.4 1055.1,374.2 1055.6,394.2 1056.1,407.0 1056.7,385.2 1057.2,398.3 1057.7,409.9 1058.3,390.7 1058.8,386.5 1059.3,404.9 1059.8,399.9 1060.4,393.3 1060.9,373.0 1061.4,424.0 1061.9,366.2 1062.5,376.2 1063.0,346.4 1063.5,361.7 1064.1,363.4 1064.6,341.5 1065.1,359.6 1065.6,370.3 1066.2,375.3 1066.7,440.4 1067.2,412.3 1067.7,427.9 1068.3,414.7 1068.8,432.0 1069.3,394.5 1069.9,379.3 1070.4,378.6 1070.9,407.5 1071.4,398.7 1072.0,385.3 1072.5,395.2 1073.0,375.2 1073.5,381.8 1074.1,378.1 1074.6,353.3 1075.1,351.9 1075.6,330.3 1076.2,347.6 1076.7,346.6 1077.2,345.1 1077.8,347.6 1078.3,383.8 1078.8,364.5 1079.3,396.3 1079.9,374.2 1080.4,357.3 1080.9,377.0 1081.4,390.4 1082.0,392.7 1082.5,379.4 1083.0,419.3 1083.6,408.2 1084.1,410.9 1084.6,380.7 1085.1,409.0 1085.7,380.8 1086.2,366.2 1086.7,375.0 1087.2,385.6 1087.8,388.4 1088.3,425.8 1088.8,400.7 1089.4,355.0 1089.9,356.4 1090.4,389.4 1090.9,364.6 1091.5,369.3 1092.0,358.6 1092.5,371.8 1093.0,364.0 1093.6,367.3 1094.1,366.1 1094.6,378.4 1095.1,365.5 1095.7,378.1 1096.2,390.3 1096.7,375.2 1097.3,370.7 1097.8,363.6 1098.3,360.2 1098.8,347.8 1099.4,354.0 1099.9,349.9 1100.4,369.0 1100.9,358.2 1101.5,364.5 1102.0,383.6 1102.5,401.1 1103.1,379.6 1103.6,383.7 1104.1,377.1 1104.6,435.9 1105.2,394.0 1105.7,365.4 1106.2,387.7 1106.7,386.2 1107.3,397.3 1107.8,376.5 1108.3,358.9 1108.8,396.5 1109.4,364.0 1109.9,389.5 1110.4,366.0 1111.0,363.7 1111.5,378.4 1112.0,369.6 1112.5,366.9 1113.1,374.2 1113.6,353.2 1114.1,395.6 1114.6,375.2 1115.2,403.3 1115.7,410.7 1116.2,394.6 1116.8,412.7 1117.3,410.1 1117.8,383.7 1118.3,402.6 1118.9,347.6 1119.4,403.0 1119.9,386.6 1120.4,442.8 1121.0,399.4 1121.5,394.8 1122.0,365.9 1122.6,361.7 1123.1,388.4 1123.6,414.6 1124.1,363.9 1124.7,379.6 1125.2,394.8 1125.7,358.9 1126.2,397.5 1126.8,383.5 1127.3,406.2 1127.8,370.9 1128.3,399.6 1128.9,315.2 1129.4,372.9 1129.9,384.1 1130.5,368.7 1131.0,357.2 1131.5,344.2 1132.0,357.0 1132.6,393.7 1133.1,377.9 1133.6,392.2 1134.1,390.2 1134.7,384.2 1135.2,421.0 1135.7,394.8 1136.3,408.5 1136.8,351.0 1137.3,400.7 1137.8,367.7 1138.4,360.0 1138.9,372.9 1139.4,378.4 1139.9,399.2 1140.5,387.6 1141.0,366.8 1141.5,358.5 1142.1,360.5 1142.6,380.4 1143.1,359.6 1143.6,388.6 1144.2,417.3 1144.7,402.8 1145.2,388.3 1145.7,368.7 1146.3,356.3 1146.8,354.3 1147.3,336.8 1147.8,337.3 1148.4,360.9 1148.9,345.1 1149.4,361.8 1150.0,339.6 1150.5,343.7 1151.0,361.6 1151.5,342.5 1152.1,328.8 1152.6,343.7 1153.1,377.0 1153.6,368.8 1154.2,387.0 1154.7,359.8 1155.2,383.0 1155.8,383.2 1156.3,362.0 1156.8,383.8 1157.3,385.9 1157.9,421.3 1158.4,393.9 1158.9,380.7 1159.4,357.7 1160.0,377.5 1160.5,340.4 1161.0,331.7 1161.5,340.8 1162.1,351.6 1162.6,324.7 1163.1,340.6 1163.7,329.3 1164.2,347.2 1164.7,364.4 1165.2,381.5 1165.8,355.2 1166.3,408.6 1166.8,407.0 1167.3,383.8 1167.9,405.3 1168.4,400.1 1168.9,407.9 1169.5,424.6 1170.0,422.0 1170.5,388.1 1171.0,380.6 1171.6,412.3 1172.1,388.6 1172.6,361.7 1173.1,365.2 1173.7,346.5 1174.2,366.9 1174.7,388.2 1175.3,375.2 1175.8,385.8 1176.3,381.0 1176.8,372.7 1177.4,343.5 1177.9,361.3 1178.4,358.4 1178.9,367.2 1179.5,370.2 1180.0,357.7 1180.5,357.5 1181.0,385.1 1181.6,377.6 1182.1,381.4 1182.6,391.5 1183.2,407.9 1183.7,409.7 1184.2,386.2 1184.7,428.6 1185.3,401.1 1185.8,389.0 1186.3,376.7 1186.8,393.4 1187.4,398.5 1187.9,393.0 1188.4,416.7 1189.0,415.6 1189.5,405.3 1190.0,337.1 1190.5,419.0 1191.1,403.5 1191.6,365.6 1192.1,386.9 1192.6,401.9 1193.2,370.5 1193.7,354.6 1194.2,400.3 1194.8,400.2 1195.3,461.6 1195.8,447.9 1196.3,440.6 1196.9,437.6 1197.4,450.4 1197.9,455.7 1198.4,457.2 1199.0,453.0 1199.5,446.1 1200.0,453.7 1200.5,441.7 1201.1,464.4 1201.6,427.9 1202.1,402.4 1202.7,428.3 1203.2,430.3 1203.7,436.2 1204.2,406.1 1204.8,425.1 1205.3,409.3 1205.8,401.3 1206.3,391.5 1206.9,409.1 1207.4,397.3 1207.9,407.2 1208.5,409.1 1209.0,378.2 1209.5,401.3 1210.0,433.9 1210.6,402.7 1211.1,398.0 1211.6,409.4 1212.1,394.9 1212.7,404.4 1213.2,391.0 1213.7,425.9 1214.2,443.9 1214.8,426.6 1215.3,444.6 1215.8,445.8 1216.4,422.9 1216.9,411.4 1217.4,416.5 1217.9,379.1 1218.5,406.8 1219.0,398.3 1219.5,341.5 1220.0,407.7 1220.6,366.8 1221.1,389.9 1221.6,444.1 1222.2,377.8 1222.7,394.7 1223.2,373.4 1223.7,367.5 1224.3,376.7 1224.8,373.2 1225.3,349.1 1225.8,376.6 1226.4,377.6 1226.9,369.2 1227.4,375.1 1228.0,415.7 1228.5,348.7 1229.0,375.4 1229.5,357.8 1230.1,381.5 1230.6,339.3 1231.1,348.9 1231.6,374.3 1232.2,382.8 1232.7,369.9 1233.2,358.3 1233.7,343.3 1234.3,356.1 1234.8,382.5 1235.3,373.2 1235.9,377.1 1236.4,409.7 1236.9,383.1 1237.4,350.6 1238.0,353.5 1238.5,326.6 1239.0,380.1 1239.5,362.8 1240.1,384.8 1240.6,376.2 1241.1,335.8 1241.7,340.9 1242.2,346.9 1242.7,351.1 1243.2,322.1 1243.8,342.6 1244.3,401.2 1244.8,358.1 1245.3,404.7 1245.9,397.8 1246.4,386.2 1246.9,405.3 1247.5,362.3 1248.0,376.2 1248.5,370.7 1249.0,357.7 1249.6,334.9 1250.1,329.5 1250.6,328.8 1251.1,349.4 1251.7,333.8 1252.2,351.5 1252.7,364.1 1253.2,349.4 1253.8,358.2 1254.3,384.5 1254.8,376.2 1255.4,356.5 1255.9,349.1 1256.4,360.5 1256.9,326.4 1257.5,340.8 1258.0,364.4 1258.5,375.4 1259.0,343.9 1259.6,326.3 1260.1,363.2 1260.6,313.9 1261.2,315.8 1261.7,303.6 1262.2,334.0 1262.7,320.1 1263.3,394.1 1263.8,365.7 1264.3,369.5 1264.8,362.0 1265.4,348.1 1265.9,372.1 1266.4,358.4 1267.0,378.0 1267.5,376.9 1268.0,372.9 1268.5,341.9 1269.1,334.5 1269.6,373.1 1270.1,383.1 1270.6,362.7 1271.2,354.1 1271.7,364.7 1272.2,381.2 1272.7,370.2 1273.3,390.1 1273.8,368.4 1274.3,347.3 1274.9,339.2 1275.4,326.5 1275.9,351.7 1276.4,314.6 1277.0,327.1 1277.5,351.4 1278.0,324.7 1278.5,344.2 1279.1,367.9 1279.6,353.7 1280.1,361.1 1280.7,356.1 1281.2,371.7 1281.7,350.7 1282.2,382.9 1282.8,356.8 1283.3,374.2 1283.8,351.3 1284.3,352.9 1284.9,373.1 1285.4,373.3 1285.9,399.0 1286.4,371.0 1287.0,382.1 1287.5,362.5 1288.0,364.2 1288.6,340.4 1289.1,318.2 1289.6,336.9 1290.1,330.8 1290.7,316.2 1291.2,326.4 1291.7,337.7 1292.2,347.6 1292.8,340.9 1293.3,361.3 1293.8,328.6 1294.4,343.6 1294.9,335.6 1295.4,365.5 1295.9,319.5 1296.5,339.2 1297.0,326.3 1297.5,342.7 1298.0,334.2 1298.6,359.0 1299.1,377.4 1299.6,367.3 1300.2,369.3 1300.7,337.1 1301.2,400.7 1301.7,360.0 1302.3,376.9 1302.8,372.5 1303.3,346.0 1303.8,347.8 1304.4,329.0 1304.9,340.8 1305.4,329.0 1305.9,341.4 1306.5,315.5 1307.0,349.9 1307.5,346.4 1308.1,341.8 1308.6,344.2 1309.1,363.7 1309.6,338.3 1310.2,319.8 1310.7,304.3 1311.2,298.6 1311.7,332.5 1312.3,319.2 1312.8,373.7 1313.3,348.8 1313.9,371.6 1314.4,359.1 1314.9,382.5 1315.4,383.0 1316.0,372.4 1316.5,348.1 1317.0,371.3 1317.5,350.0 1318.1,364.0 1318.6,347.4 1319.1,344.9 1319.7,336.7 1320.2,336.6 1320.7,324.6 1321.2,330.6 1321.8,334.2 1322.3,315.4 1322.8,323.2 1323.3,313.7 1323.9,316.2 1324.4,313.8 1324.9,299.7 1325.4,318.5 1326.0,312.3 1326.5,346.5 1327.0,322.2 1327.6,343.5 1328.1,321.7 1328.6,348.0 1329.1,356.8 1329.7,343.5 1330.2,345.7 1330.7,371.6 1331.2,354.8 1331.8,333.9 1332.3,348.5 1332.8,332.0 1333.4,308.0 1333.9,318.5 1334.4,339.3 1334.9,327.0 1335.5,341.1 1336.0,360.1 1336.5,372.2 1337.0,322.2 1337.6,303.9 1338.1,323.7 1338.6,318.8 1339.1,356.9 1339.7,294.6 1340.2,304.2 1340.7,344.5 1341.3,318.0 1341.8,310.8 1342.3,301.3 1342.8,323.6 1343.4,324.3 1343.9,332.9 1344.4,299.5 1344.9,319.7 1345.5,305.1 1346.0,324.5 1346.5,349.3 1347.1,320.4 1347.6,352.0 1348.1,347.0 1348.6,343.6 1349.2,348.0 1349.7,340.0 1350.2,315.1 1350.7,322.5 1351.3,320.5 1351.8,319.8 1352.3,336.3 1352.9,346.9 1353.4,327.1 1353.9,345.2 1354.4,327.0 1355.0,335.9 1355.5,323.4 1356.0,312.9 1356.5,306.0 1357.1,300.6 1357.6,284.6 1358.1,299.8 1358.6,309.8 1359.2,307.1 1359.7,303.5 1360.2,290.3 1360.8,287.8 1361.3,307.7 1361.8,302.3 1362.3,298.6 1362.9,338.0 1363.4,301.2 1363.9,329.3 1364.4,330.4 1365.0,324.9 1365.5,322.2 1366.0,358.4 1366.6,320.9 1367.1,293.9 1367.6,321.1 1368.1,326.8 1368.7,345.1 1369.2,339.5 1369.7,335.1 1370.2,352.2 1370.8,313.9 1371.3,304.2 1371.8,321.5 1372.3,306.2 1372.9,311.9 1373.4,323.9 1373.9,331.4 1374.5,309.9 1375.0,300.2 1375.5,286.1 1376.0,308.2 1376.6,289.6 1377.1,290.2 1377.6,305.0 1378.1,305.8 1378.7,318.8 1379.2,339.0 1379.7,316.2 1380.3,304.0 1380.8,346.7 1381.3,305.2 1381.8,298.1 1382.4,310.5 1382.9,302.7 1383.4,337.6 1383.9,321.3 1384.5,319.5 1385.0,368.9 1385.5,315.5 1386.1,371.8 1386.6,318.9 1387.1,319.4 1387.6,289.5 1388.2,328.8 1388.7,309.1 1389.2,255.8 1389.7,271.8 1390.3,296.3 1390.8,316.3 1391.3,315.2 1391.8,347.8 1392.4,334.7 1392.9,325.1 1393.4,314.6 1394.0,334.4 1394.5,317.2 1395.0,305.7 1395.5,322.8 1396.1,306.6 1396.6,301.6 1397.1,272.5 1397.6,313.7 1398.2,277.3 1398.7,307.1 1399.2,263.0 1399.8,334.1 1400.3,276.9 1400.8,311.8 1401.3,293.1 1401.9,318.6 1402.4,314.3 1402.9,312.7 1403.4,322.2 1404.0,362.0 1404.5,326.6 1405.0,329.9 1405.6,317.1 1406.1,299.8 1406.6,303.4 1407.1,322.1 1407.7,327.5 1408.2,327.9 1408.7,291.5 1409.2,270.7 1409.8,310.0 1410.3,293.1 1410.8,320.8 1411.3,291.6 1411.9,322.4 1412.4,312.3 1412.9,298.0 1413.5,308.9 1414.0,322.8 1414.5,331.9 1415.0,326.7 1415.6,339.9 1416.1,317.2 1416.6,321.7 1417.1,283.3 1417.7,333.4 1418.2,312.1 1418.7,310.1 1419.3,313.9 1419.8,343.7 1420.3,348.4 1420.8,333.9 1421.4,315.3 1421.9,299.5 1422.4,317.4 1422.9,321.0 1423.5,319.7 1424.0,327.4 1424.5,300.9 1425.0,280.5 1425.6,311.5 1426.1,318.8 1426.6,312.9 1427.2,351.9 1427.7,330.6 1428.2,304.2 1428.7,275.7 1429.3,320.8 1429.8,316.5 1430.3,290.8 1430.8,337.8 1431.4,346.7 1431.9,302.4 1432.4,326.1 1433.0,349.5 1433.5,325.8 1434.0,313.4 1434.5,331.7 1435.1,291.7 1435.6,363.7 1436.1,305.4 1436.6,334.4 1437.2,335.2 1437.7,333.2 1438.2,347.2 1438.8,322.3 1439.3,328.8 1439.8,336.5 1440.3,291.3 1440.9,322.7 1441.4,321.1 1441.9,288.3 1442.4,314.9 1443.0,295.0 1443.5,317.4 1444.0,323.7 1444.5,314.4 1445.1,356.2 1445.6,363.1 1446.1,362.0 1446.7,373.6 1447.2,349.5 1447.7,315.3 1448.2,350.6 1448.8,340.1 1449.3,338.3 1449.8,336.5 1450.3,333.4 1450.9,298.3 1451.4,331.8 1451.9,338.0 1452.5,306.1 1453.0,305.0 1453.5,336.9 1454.0,350.3 1454.6,333.5 1455.1,345.8 1455.6,320.3 1456.1,315.5 1456.7,351.2 1457.2,348.3 1457.7,350.7 1458.3,345.5 1458.8,347.8 1459.3,344.0 1459.8,334.7 1460.4,328.7 1460.9,373.6 1461.4,360.8 1461.9,334.4 1462.5,333.5 1463.0,328.7 1463.5,338.9 1464.0,345.9 1464.6,341.3 1465.1,348.5 1465.6,374.3 1466.2,343.6 1466.7,361.1 1467.2,387.6 1467.7,328.8 1468.3,334.6 1468.8,358.6 1469.3,335.6 1469.8,348.1 1470.4,348.7 1470.9,355.6 1471.4,323.1 1472.0,357.4 1472.5,364.6 1473.0,340.2 1473.5,335.3 1474.1,346.5 1474.6,325.8 1475.1,355.9 1475.6,301.5 1476.2,364.7 1476.7,335.9 1477.2,320.9 1477.8,316.8 1478.3,355.3 1478.8,383.3 1479.3,371.0 1479.9,347.2 1480.4,332.2 1480.9,363.8 1481.4,326.8 1482.0,369.0 1482.5,328.8 1483.0,302.5 1483.5,343.4 1484.1,336.8 1484.6,357.9 1485.1,358.3 1485.7,349.0 1486.2,340.7 1486.7,414.7 1487.2,381.9 1487.8,326.5 1488.3,345.0 1488.8,350.4 1489.3,352.9 1489.9,347.2 1490.4,346.5 1490.9,397.1 1491.5,310.1 1492.0,333.0 1492.5,376.8 1493.0,353.1 1493.6,377.2 1494.1,340.3 1494.6,369.8 1495.1,337.9 1495.7,369.2 1496.2,324.0 1496.7,372.3 1497.2,339.7 1497.8,346.7 1498.3,390.1 1498.8,361.7 1499.4,387.2 1499.9,356.5 1500.4,319.3 1500.9,338.7 1501.5,323.0 1502.0,375.7 1502.5,370.2 1503.0,343.4 1503.6,384.6 1504.1,370.3 1504.6,386.6 1505.2,371.2 1505.7,361.3 1506.2,382.0 1506.7,392.2 1507.3,386.0 1507.8,339.4 1508.3,371.9 1508.8,383.7 1509.4,375.0 1509.9,369.4 1510.4,370.7 1511.0,348.6 1511.5,341.6 1512.0,361.1 1512.5,345.9 1513.1,319.1 1513.6,347.8 1514.1,355.2 1514.6,347.5 1515.2,345.1 1515.7,307.6 1516.2,375.6 1516.7,346.8 1517.3,359.5 1517.8,352.6 1518.3,365.5 1518.9,355.8 1519.4,367.1 1519.9,371.7 1520.4,359.8 1521.0,326.5 1521.5,363.5 1522.0,356.6 1522.5,362.4 1523.1,320.1 1523.6,316.3 1524.1,310.3 1524.7,342.6 1525.2,366.1 1525.7,388.1 1526.2,368.1 1526.8,360.4 1527.3,379.1 1527.8,387.1 1528.3,386.6 1528.9,375.4 1529.4,387.4 1529.9,361.8 1530.4,374.2 1531.0,367.6 1531.5,322.5 1532.0,338.8 1532.6,360.5 1533.1,342.0 1533.6,349.6 1534.1,350.0 1534.7,379.9 1535.2,339.0 1535.7,346.1 1536.2,351.1 1536.8,355.4 1537.3,367.5 1537.8,371.2 1538.4,352.0 1538.9,378.6 1539.4,345.0 1539.9,411.2 1540.5,382.3 1541.0,395.2 1541.5,387.6 1542.0,361.8 1542.6,385.7 1543.1,355.9 1543.6,352.6 1544.2,349.5 1544.7,341.8 1545.2,356.1 1545.7,349.3 1546.3,352.1 1546.8,336.1 1547.3,352.2 1547.8,358.9 1548.4,331.7 1548.9,341.2 1549.4,307.2 1549.9,304.0 1550.5,315.1 1551.0,352.0 1551.5,318.0 1552.1,351.9 1552.6,350.6 1553.1,343.3 1553.6,356.9 1554.2,323.3 1554.7,363.8 1555.2,380.6 1555.7,368.5 1556.3,386.9 1556.8,360.6" fill="none" stroke="#000000" stroke-width="1.4" stroke-opacity="1.0"/><polyline points="1029.8,434.8 1030.3,402.7 1030.9,397.6 1031.4,419.1 1031.9,420.0 1032.4,423.3 1033.0,385.1 1033.5,441.5 1034.0,374.9 1034.5,409.3 1035.1,416.5 1035.6,406.3 1036.1,402.4 1036.7,363.1 1037.2,377.5 1037.7,408.9 1038.2,420.9 1038.8,460.1 1039.3,415.3 1039.8,441.9 1040.3,430.5 1040.9,437.8 1041.4,424.2 1041.9,411.2 1042.4,433.5 1043.0,424.7 1043.5,460.9 1044.0,425.9 1044.6,407.3 1045.1,405.8 1045.6,401.0 1046.1,417.4 1046.7,397.3 1047.2,387.7 1047.7,406.4 1048.2,402.7 1048.8,413.7 1049.3,422.4 1049.8,423.0 1050.4,437.8 1050.9,374.8 1051.4,377.1 1051.9,385.1 1052.5,398.4 1053.0,412.5 1053.5,402.1 1054.0,419.9 1054.6,399.0 1055.1,388.2 1055.6,378.7 1056.1,379.7 1056.7,390.5 1057.2,369.4 1057.7,370.5 1058.3,409.5 1058.8,396.4 1059.3,410.4 1059.8,398.5 1060.4,391.9 1060.9,402.8 1061.4,381.2 1061.9,381.5 1062.5,402.2 1063.0,392.8 1063.5,369.2 1064.1,388.1 1064.6,358.0 1065.1,360.1 1065.6,362.3 1066.2,355.8 1066.7,373.1 1067.2,386.2 1067.7,380.0 1068.3,368.0 1068.8,392.8 1069.3,377.5 1069.9,373.4 1070.4,382.4 1070.9,397.8 1071.4,382.6 1072.0,447.0 1072.5,415.7 1073.0,410.6 1073.5,377.5 1074.1,427.5 1074.6,418.2 1075.1,410.2 1075.6,412.5 1076.2,429.3 1076.7,433.0 1077.2,380.8 1077.8,390.6 1078.3,383.3 1078.8,387.4 1079.3,382.7 1079.9,379.2 1080.4,338.9 1080.9,398.6 1081.4,377.3 1082.0,376.8 1082.5,374.9 1083.0,368.1 1083.6,399.7 1084.1,391.3 1084.6,349.8 1085.1,347.8 1085.7,327.6 1086.2,375.4 1086.7,398.6 1087.2,396.6 1087.8,406.5 1088.3,393.1 1088.8,405.3 1089.4,407.7 1089.9,378.6 1090.4,392.3 1090.9,409.2 1091.5,411.5 1092.0,398.1 1092.5,386.0 1093.0,415.2 1093.6,408.1 1094.1,370.0 1094.6,425.6 1095.1,395.0 1095.7,413.2 1096.2,379.6 1096.7,386.6 1097.3,359.7 1097.8,353.6 1098.3,381.0 1098.8,368.4 1099.4,398.4 1099.9,380.3 1100.4,361.2 1100.9,358.9 1101.5,362.1 1102.0,362.7 1102.5,374.1 1103.1,350.1 1103.6,382.1 1104.1,366.4 1104.6,359.0 1105.2,386.5 1105.7,352.9 1106.2,369.6 1106.7,353.5 1107.3,380.6 1107.8,392.9 1108.3,366.1 1108.8,341.4 1109.4,356.7 1109.9,358.7 1110.4,365.1 1111.0,380.8 1111.5,373.7 1112.0,374.7 1112.5,383.9 1113.1,409.6 1113.6,373.6 1114.1,379.5 1114.6,378.9 1115.2,384.0 1115.7,372.6 1116.2,366.4 1116.8,390.1 1117.3,403.7 1117.8,379.7 1118.3,381.2 1118.9,400.0 1119.4,368.4 1119.9,405.2 1120.4,348.8 1121.0,394.3 1121.5,402.8 1122.0,379.8 1122.6,387.2 1123.1,360.3 1123.6,375.7 1124.1,337.8 1124.7,366.8 1125.2,352.6 1125.7,374.9 1126.2,355.9 1126.8,388.7 1127.3,403.6 1127.8,394.7 1128.3,370.4 1128.9,355.7 1129.4,391.9 1129.9,385.2 1130.5,393.1 1131.0,385.6 1131.5,353.0 1132.0,351.5 1132.6,393.1 1133.1,380.2 1133.6,345.2 1134.1,340.4 1134.7,347.0 1135.2,382.5 1135.7,363.4 1136.3,346.9 1136.8,370.7 1137.3,367.2 1137.8,372.0 1138.4,346.4 1138.9,345.7 1139.4,340.5 1139.9,375.8 1140.5,372.1 1141.0,397.5 1141.5,343.8 1142.1,391.9 1142.6,352.6 1143.1,401.0 1143.6,393.8 1144.2,378.2 1144.7,380.8 1145.2,409.3 1145.7,376.2 1146.3,358.8 1146.8,317.5 1147.3,339.8 1147.8,329.8 1148.4,351.5 1148.9,334.2 1149.4,342.9 1150.0,365.5 1150.5,361.1 1151.0,352.4 1151.5,374.2 1152.1,372.7 1152.6,358.5 1153.1,327.4 1153.6,398.2 1154.2,375.8 1154.7,338.5 1155.2,354.3 1155.8,324.0 1156.3,332.2 1156.8,343.4 1157.3,370.9 1157.9,355.7 1158.4,363.7 1158.9,391.3 1159.4,386.3 1160.0,367.0 1160.5,368.3 1161.0,365.4 1161.5,347.8 1162.1,386.9 1162.6,390.5 1163.1,371.2 1163.7,353.6 1164.2,384.8 1164.7,369.2 1165.2,365.9 1165.8,373.1 1166.3,354.8 1166.8,364.8 1167.3,350.4 1167.9,360.8 1168.4,354.3 1168.9,325.9 1169.5,309.9 1170.0,357.0 1170.5,379.2 1171.0,358.4 1171.6,339.5 1172.1,401.2 1172.6,395.6 1173.1,342.4 1173.7,366.3 1174.2,352.5 1174.7,367.4 1175.3,372.1 1175.8,352.9 1176.3,367.9 1176.8,346.4 1177.4,385.0 1177.9,371.5 1178.4,377.5 1178.9,405.9 1179.5,408.7 1180.0,380.7 1180.5,382.1 1181.0,363.9 1181.6,382.6 1182.1,379.2 1182.6,365.9 1183.2,409.6 1183.7,406.5 1184.2,398.9 1184.7,348.4 1185.3,360.7 1185.8,376.1 1186.3,367.6 1186.8,355.4 1187.4,359.4 1187.9,373.3 1188.4,352.2 1189.0,383.5 1189.5,345.6 1190.0,354.3 1190.5,369.7 1191.1,392.8 1191.6,374.0 1192.1,345.1 1192.6,352.7 1193.2,382.3 1193.7,365.0 1194.2,387.4 1194.8,358.5 1195.3,388.5 1195.8,339.7 1196.3,357.4 1196.9,383.1 1197.4,411.4 1197.9,382.1 1198.4,392.7 1199.0,383.7 1199.5,395.7 1200.0,369.5 1200.5,345.1 1201.1,340.4 1201.6,383.3 1202.1,381.2 1202.7,375.8 1203.2,326.7 1203.7,354.7 1204.2,322.8 1204.8,332.1 1205.3,322.3 1205.8,363.1 1206.3,369.7 1206.9,343.0 1207.4,345.7 1207.9,377.0 1208.5,380.4 1209.0,385.7 1209.5,366.0 1210.0,347.2 1210.6,374.7 1211.1,327.0 1211.6,378.7 1212.1,349.7 1212.7,350.7 1213.2,341.4 1213.7,311.4 1214.2,353.2 1214.8,314.6 1215.3,363.2 1215.8,338.4 1216.4,310.9 1216.9,351.3 1217.4,375.9 1217.9,360.2 1218.5,355.4 1219.0,380.8 1219.5,327.0 1220.0,365.4 1220.6,389.0 1221.1,357.5 1221.6,367.1 1222.2,404.9 1222.7,339.9 1223.2,344.5 1223.7,376.5 1224.3,329.7 1224.8,348.6 1225.3,344.8 1225.8,346.9 1226.4,358.8 1226.9,333.6 1227.4,304.3 1228.0,358.5 1228.5,329.5 1229.0,344.4 1229.5,319.1 1230.1,351.5 1230.6,328.7 1231.1,345.9 1231.6,331.4 1232.2,331.7 1232.7,352.0 1233.2,341.4 1233.7,347.5 1234.3,343.6 1234.8,319.3 1235.3,350.3 1235.9,338.8 1236.4,326.8 1236.9,331.1 1237.4,371.5 1238.0,369.1 1238.5,356.4 1239.0,363.5 1239.5,359.4 1240.1,323.2 1240.6,324.7 1241.1,322.4 1241.7,322.9 1242.2,359.9 1242.7,353.0 1243.2,354.5 1243.8,345.0 1244.3,318.0 1244.8,363.1 1245.3,306.8 1245.9,345.9 1246.4,320.1 1246.9,301.0 1247.5,312.5 1248.0,352.7 1248.5,332.0 1249.0,322.0 1249.6,360.4 1250.1,358.3 1250.6,335.9 1251.1,359.7 1251.7,361.3 1252.2,320.7 1252.7,306.4 1253.2,335.4 1253.8,334.4 1254.3,337.1 1254.8,351.2 1255.4,332.9 1255.9,357.4 1256.4,347.1 1256.9,345.5 1257.5,337.9 1258.0,353.8 1258.5,342.9 1259.0,350.5 1259.6,344.0 1260.1,357.7 1260.6,342.8 1261.2,357.8 1261.7,308.6 1262.2,351.6 1262.7,394.5 1263.3,317.2 1263.8,332.2 1264.3,324.2 1264.8,297.9 1265.4,319.0 1265.9,341.6 1266.4,357.5 1267.0,336.5 1267.5,368.1 1268.0,346.7 1268.5,340.0 1269.1,315.5 1269.6,318.0 1270.1,321.8 1270.6,305.9 1271.2,333.6 1271.7,331.1 1272.2,321.1 1272.7,345.8 1273.3,318.8 1273.8,341.6 1274.3,320.3 1274.9,305.8 1275.4,338.4 1275.9,306.0 1276.4,303.2 1277.0,336.3 1277.5,333.8 1278.0,344.4 1278.5,390.5 1279.1,342.6 1279.6,370.2 1280.1,358.6 1280.7,351.8 1281.2,305.1 1281.7,340.6 1282.2,346.0 1282.8,337.1 1283.3,339.5 1283.8,349.3 1284.3,360.1 1284.9,357.3 1285.4,370.3 1285.9,333.1 1286.4,335.0 1287.0,322.6 1287.5,329.9 1288.0,345.3 1288.6,342.1 1289.1,321.4 1289.6,349.9 1290.1,359.4 1290.7,362.9 1291.2,346.9 1291.7,340.4 1292.2,388.7 1292.8,347.2 1293.3,366.9 1293.8,324.2 1294.4,331.3 1294.9,333.3 1295.4,321.3 1295.9,334.5 1296.5,361.7 1297.0,346.1 1297.5,332.5 1298.0,370.5 1298.6,356.6 1299.1,364.0 1299.6,364.5 1300.2,366.5 1300.7,338.5 1301.2,366.7 1301.7,379.4 1302.3,335.4 1302.8,331.2 1303.3,333.4 1303.8,325.8 1304.4,345.0 1304.9,377.3 1305.4,380.2 1305.9,348.4 1306.5,349.8 1307.0,337.7 1307.5,340.2 1308.1,329.7 1308.6,324.6 1309.1,328.0 1309.6,339.3 1310.2,364.6 1310.7,349.9 1311.2,365.0 1311.7,355.6 1312.3,321.6 1312.8,311.4 1313.3,351.5 1313.9,364.6 1314.4,385.7 1314.9,346.3 1315.4,377.6 1316.0,321.1 1316.5,320.7 1317.0,366.5 1317.5,315.2 1318.1,319.3 1318.6,327.7 1319.1,316.5 1319.7,360.5 1320.2,330.7 1320.7,351.8 1321.2,328.9 1321.8,313.9 1322.3,310.3 1322.8,311.5 1323.3,308.0 1323.9,357.5 1324.4,329.5 1324.9,338.9 1325.4,344.9 1326.0,337.9 1326.5,324.0 1327.0,332.0 1327.6,383.6 1328.1,332.4 1328.6,358.1 1329.1,347.5 1329.7,344.3 1330.2,344.0 1330.7,381.8 1331.2,344.3 1331.8,331.1 1332.3,346.6 1332.8,321.9 1333.4,334.0 1333.9,314.2 1334.4,317.8 1334.9,299.3 1335.5,326.5 1336.0,304.6 1336.5,336.5 1337.0,316.4 1337.6,341.0 1338.1,298.5 1338.6,302.9 1339.1,334.4 1339.7,298.2 1340.2,288.9 1340.7,286.1 1341.3,294.9 1341.8,306.0 1342.3,353.1 1342.8,333.7 1343.4,324.5 1343.9,356.6 1344.4,356.2 1344.9,377.5 1345.5,338.3 1346.0,324.8 1346.5,321.1 1347.1,362.0 1347.6,318.8 1348.1,341.7 1348.6,288.5 1349.2,315.3 1349.7,315.0 1350.2,283.1 1350.7,319.0 1351.3,332.8 1351.8,356.8 1352.3,295.5 1352.9,356.4 1353.4,365.0 1353.9,352.1 1354.4,322.7 1355.0,345.1 1355.5,317.1 1356.0,310.3 1356.5,297.2 1357.1,300.1 1357.6,342.3 1358.1,327.3 1358.6,335.9 1359.2,367.7 1359.7,363.1 1360.2,334.4 1360.8,333.8 1361.3,321.9 1361.8,312.8 1362.3,338.5 1362.9,351.1 1363.4,349.0 1363.9,330.7 1364.4,328.0 1365.0,337.5 1365.5,377.0 1366.0,337.6 1366.6,325.8 1367.1,335.1 1367.6,309.0 1368.1,325.9 1368.7,338.3 1369.2,333.0 1369.7,353.5 1370.2,331.3 1370.8,348.0 1371.3,308.9 1371.8,353.3 1372.3,332.4 1372.9,352.2 1373.4,319.5 1373.9,333.1 1374.5,355.5 1375.0,325.1 1375.5,317.6 1376.0,341.0 1376.6,327.3 1377.1,314.4 1377.6,342.4 1378.1,348.1 1378.7,307.4 1379.2,326.0 1379.7,345.1 1380.3,334.0 1380.8,309.1 1381.3,323.0 1381.8,356.6 1382.4,318.1 1382.9,323.6 1383.4,349.2 1383.9,327.6 1384.5,328.4 1385.0,336.4 1385.5,370.1 1386.1,349.2 1386.6,330.5 1387.1,342.2 1387.6,361.0 1388.2,350.5 1388.7,302.3 1389.2,344.5 1389.7,326.3 1390.3,334.3 1390.8,352.1 1391.3,319.6 1391.8,310.7 1392.4,341.3 1392.9,308.4 1393.4,305.3 1394.0,280.8 1394.5,281.5 1395.0,344.9 1395.5,331.7 1396.1,322.4 1396.6,323.0 1397.1,352.0 1397.6,365.4 1398.2,335.2 1398.7,365.3 1399.2,360.1 1399.8,361.4 1400.3,353.0 1400.8,314.6 1401.3,376.2 1401.9,321.3 1402.4,315.3 1402.9,323.4 1403.4,333.1 1404.0,367.4 1404.5,336.0 1405.0,330.0 1405.6,345.3 1406.1,340.3 1406.6,333.6 1407.1,330.3 1407.7,354.9 1408.2,361.0 1408.7,338.7 1409.2,342.2 1409.8,314.3 1410.3,326.8 1410.8,334.7 1411.3,310.1 1411.9,327.9 1412.4,342.6 1412.9,352.3 1413.5,343.2 1414.0,271.3 1414.5,345.0 1415.0,331.6 1415.6,351.8 1416.1,329.6 1416.6,338.8 1417.1,337.7 1417.7,354.6 1418.2,366.4 1418.7,321.1 1419.3,357.8 1419.8,356.0 1420.3,353.4 1420.8,354.5 1421.4,359.5 1421.9,322.3 1422.4,346.8 1422.9,347.4 1423.5,356.1 1424.0,351.2 1424.5,388.5 1425.0,350.2 1425.6,346.9 1426.1,312.6 1426.6,314.5 1427.2,364.1 1427.7,303.9 1428.2,336.8 1428.7,360.4 1429.3,332.9 1429.8,384.5 1430.3,345.5 1430.8,389.1 1431.4,381.9 1431.9,382.0 1432.4,372.1 1433.0,361.3 1433.5,380.2 1434.0,395.3 1434.5,382.7 1435.1,367.3 1435.6,350.8 1436.1,401.1 1436.6,344.1 1437.2,328.2 1437.7,341.8 1438.2,359.2 1438.8,364.1 1439.3,357.6 1439.8,371.5 1440.3,397.8 1440.9,368.3 1441.4,355.4 1441.9,378.2 1442.4,384.6 1443.0,401.3 1443.5,392.2 1444.0,374.8 1444.5,377.1 1445.1,403.6 1445.6,443.0 1446.1,400.4 1446.7,375.7 1447.2,349.9 1447.7,384.5 1448.2,389.0 1448.8,361.9 1449.3,386.1 1449.8,383.4 1450.3,383.0 1450.9,381.9 1451.4,382.2 1451.9,378.5 1452.5,375.0 1453.0,384.2 1453.5,374.3 1454.0,354.9 1454.6,382.9 1455.1,391.6 1455.6,362.9 1456.1,401.6 1456.7,365.8 1457.2,385.2 1457.7,390.1 1458.3,360.8 1458.8,370.7 1459.3,351.7 1459.8,376.2 1460.4,346.8 1460.9,369.4 1461.4,377.9 1461.9,369.0 1462.5,393.9 1463.0,337.7 1463.5,367.0 1464.0,366.1 1464.6,381.7 1465.1,361.2 1465.6,368.0 1466.2,374.0 1466.7,379.5 1467.2,350.2 1467.7,355.6 1468.3,338.0 1468.8,349.0 1469.3,369.3 1469.8,356.0 1470.4,364.1 1470.9,351.6 1471.4,358.0 1472.0,343.7 1472.5,389.5 1473.0,359.7 1473.5,393.8 1474.1,380.8 1474.6,403.8 1475.1,343.4 1475.6,353.7 1476.2,339.1 1476.7,313.1 1477.2,328.0 1477.8,348.0 1478.3,351.5 1478.8,365.8 1479.3,380.2 1479.9,345.1 1480.4,341.7 1480.9,368.7 1481.4,353.8 1482.0,352.7 1482.5,372.9 1483.0,367.3 1483.5,349.1 1484.1,371.7 1484.6,379.4 1485.1,354.8 1485.7,357.9 1486.2,367.4 1486.7,388.0 1487.2,362.5 1487.8,399.8 1488.3,380.3 1488.8,352.4 1489.3,314.0 1489.9,316.8 1490.4,322.5 1490.9,311.4 1491.5,309.6 1492.0,370.5 1492.5,372.0 1493.0,369.2 1493.6,401.0 1494.1,381.8 1494.6,373.6 1495.1,390.6 1495.7,357.8 1496.2,335.6 1496.7,382.1 1497.2,379.3 1497.8,369.3 1498.3,340.0 1498.8,358.7 1499.4,379.6 1499.9,344.2 1500.4,350.4 1500.9,354.9 1501.5,338.5 1502.0,338.8 1502.5,390.7 1503.0,364.9 1503.6,358.6 1504.1,351.3 1504.6,362.7 1505.2,375.7 1505.7,399.5 1506.2,361.1 1506.7,367.2 1507.3,344.3 1507.8,308.9 1508.3,351.4 1508.8,338.9 1509.4,359.0 1509.9,358.6 1510.4,362.4 1511.0,356.3 1511.5,336.6 1512.0,370.4 1512.5,310.2 1513.1,319.8 1513.6,309.8 1514.1,334.8 1514.6,330.9 1515.2,346.4 1515.7,340.6 1516.2,365.9 1516.7,332.2 1517.3,379.7 1517.8,346.3 1518.3,361.6 1518.9,329.5 1519.4,359.0 1519.9,406.7 1520.4,416.3 1521.0,387.4 1521.5,371.4 1522.0,382.3 1522.5,335.3 1523.1,334.9 1523.6,319.4 1524.1,319.0 1524.7,345.9 1525.2,372.7 1525.7,359.3 1526.2,397.0 1526.8,369.6 1527.3,354.5 1527.8,386.2 1528.3,339.6 1528.9,392.0 1529.4,340.1 1529.9,348.5 1530.4,329.2 1531.0,347.5 1531.5,331.1 1532.0,336.2 1532.6,366.6 1533.1,347.2 1533.6,348.6 1534.1,354.4 1534.7,387.1 1535.2,367.5 1535.7,349.7 1536.2,350.6 1536.8,354.7 1537.3,351.1 1537.8,356.4 1538.4,387.7 1538.9,360.9 1539.4,378.6 1539.9,392.1 1540.5,387.5 1541.0,362.9 1541.5,354.6 1542.0,376.1 1542.6,364.4 1543.1,348.6 1543.6,356.0 1544.2,368.2 1544.7,359.9 1545.2,368.6 1545.7,356.9 1546.3,407.8 1546.8,387.0 1547.3,374.5 1547.8,391.7 1548.4,339.9 1548.9,362.8 1549.4,368.5 1549.9,360.4 1550.5,376.9 1551.0,339.6 1551.5,374.0 1552.1,374.9 1552.6,382.3 1553.1,387.5 1553.6,359.7 1554.2,341.7 1554.7,364.7 1555.2,348.1 1555.7,395.9 1556.3,338.5 1556.8,404.3" fill="none" stroke="#dc0000" stroke-width="1.4" stroke-opacity="1.0"/><polyline points="1029.8,371.8 1030.3,384.5 1030.9,330.6 1031.4,355.9 1031.9,344.2 1032.4,381.0 1033.0,310.6 1033.5,345.2 1034.0,367.4 1034.5,323.7 1035.1,334.9 1035.6,335.8 1036.1,328.7 1036.7,304.6 1037.2,307.7 1037.7,343.4 1038.2,314.4 1038.8,309.7 1039.3,340.8 1039.8,303.7 1040.3,351.1 1040.9,319.2 1041.4,329.7 1041.9,324.0 1042.4,284.1 1043.0,302.7 1043.5,313.9 1044.0,302.4 1044.6,301.0 1045.1,283.8 1045.6,307.3 1046.1,305.5 1046.7,265.3 1047.2,264.6 1047.7,317.8 1048.2,307.5 1048.8,285.1 1049.3,279.5 1049.8,259.2 1050.4,300.5 1050.9,280.9 1051.4,322.5 1051.9,308.9 1052.5,308.6 1053.0,285.7 1053.5,265.8 1054.0,282.1 1054.6,243.0 1055.1,277.1 1055.6,274.1 1056.1,235.2 1056.7,276.8 1057.2,245.5 1057.7,278.5 1058.3,261.4 1058.8,255.8 1059.3,267.9 1059.8,233.3 1060.4,257.6 1060.9,228.6 1061.4,242.5 1061.9,296.3 1062.5,249.9 1063.0,252.4 1063.5,277.0 1064.1,243.1 1064.6,272.1 1065.1,229.5 1065.6,218.8 1066.2,239.2 1066.7,246.9 1067.2,246.1 1067.7,253.9 1068.3,228.8 1068.8,247.8 1069.3,219.1 1069.9,229.9 1070.4,205.0 1070.9,240.4 1071.4,249.3 1072.0,235.5 1072.5,235.3 1073.0,284.5 1073.5,308.9 1074.1,277.4 1074.6,276.9 1075.1,282.9 1075.6,271.2 1076.2,250.7 1076.7,244.7 1077.2,299.7 1077.8,239.0 1078.3,257.4 1078.8,238.2 1079.3,207.5 1079.9,260.9 1080.4,246.3 1080.9,231.7 1081.4,234.0 1082.0,238.9 1082.5,251.7 1083.0,226.0 1083.6,276.5 1084.1,246.6 1084.6,282.6 1085.1,242.4 1085.7,238.3 1086.2,220.7 1086.7,238.6 1087.2,225.4 1087.8,222.6 1088.3,216.4 1088.8,229.5 1089.4,237.0 1089.9,227.0 1090.4,251.7 1090.9,222.1 1091.5,231.3 1092.0,210.6 1092.5,204.3 1093.0,210.6 1093.6,185.8 1094.1,208.8 1094.6,264.7 1095.1,182.4 1095.7,199.1 1096.2,239.6 1096.7,195.6 1097.3,250.9 1097.8,227.6 1098.3,224.6 1098.8,246.8 1099.4,247.9 1099.9,231.7 1100.4,227.7 1100.9,205.6 1101.5,228.4 1102.0,233.9 1102.5,213.3 1103.1,189.8 1103.6,224.3 1104.1,208.6 1104.6,205.2 1105.2,212.7 1105.7,228.5 1106.2,209.8 1106.7,193.8 1107.3,189.0 1107.8,194.5 1108.3,202.9 1108.8,183.8 1109.4,181.8 1109.9,205.5 1110.4,166.3 1111.0,244.8 1111.5,212.8 1112.0,172.6 1112.5,222.5 1113.1,226.5 1113.6,223.5 1114.1,220.7 1114.6,226.0 1115.2,207.9 1115.7,245.0 1116.2,240.9 1116.8,227.6 1117.3,216.4 1117.8,228.8 1118.3,170.9 1118.9,199.1 1119.4,208.1 1119.9,199.7 1120.4,184.9 1121.0,194.3 1121.5,195.5 1122.0,208.8 1122.6,207.2 1123.1,227.5 1123.6,205.8 1124.1,207.9 1124.7,184.2 1125.2,255.0 1125.7,223.2 1126.2,217.6 1126.8,248.5 1127.3,252.9 1127.8,227.5 1128.3,220.3 1128.9,244.0 1129.4,202.3 1129.9,202.5 1130.5,212.7 1131.0,226.1 1131.5,260.4 1132.0,181.9 1132.6,193.1 1133.1,193.8 1133.6,203.4 1134.1,185.0 1134.7,210.1 1135.2,200.0 1135.7,193.3 1136.3,168.2 1136.8,191.9 1137.3,181.6 1137.8,219.8 1138.4,185.5 1138.9,226.3 1139.4,210.9 1139.9,215.1 1140.5,243.5 1141.0,242.8 1141.5,239.9 1142.1,234.8 1142.6,230.7 1143.1,262.5 1143.6,249.1 1144.2,214.9 1144.7,206.5 1145.2,193.9 1145.7,192.7 1146.3,183.9 1146.8,175.7 1147.3,161.8 1147.8,221.8 1148.4,209.5 1148.9,219.5 1149.4,222.6 1150.0,239.5 1150.5,208.8 1151.0,159.6 1151.5,201.9 1152.1,216.5 1152.6,232.9 1153.1,206.0 1153.6,186.5 1154.2,236.3 1154.7,223.1 1155.2,221.4 1155.8,220.7 1156.3,241.3 1156.8,232.0 1157.3,230.6 1157.9,252.3 1158.4,238.5 1158.9,235.7 1159.4,198.7 1160.0,231.9 1160.5,190.6 1161.0,233.4 1161.5,200.9 1162.1,232.2 1162.6,206.5 1163.1,196.7 1163.7,188.0 1164.2,208.2 1164.7,210.3 1165.2,255.4 1165.8,237.8 1166.3,223.6 1166.8,239.8 1167.3,207.6 1167.9,237.4 1168.4,252.5 1168.9,219.9 1169.5,177.2 1170.0,217.9 1170.5,209.9 1171.0,228.7 1171.6,227.8 1172.1,240.0 1172.6,207.1 1173.1,199.5 1173.7,219.8 1174.2,225.6 1174.7,212.3 1175.3,225.2 1175.8,238.0 1176.3,209.5 1176.8,192.3 1177.4,226.4 1177.9,246.7 1178.4,208.3 1178.9,219.7 1179.5,206.7 1180.0,242.4 1180.5,210.8 1181.0,210.1 1181.6,207.6 1182.1,178.9 1182.6,222.4 1183.2,229.8 1183.7,235.9 1184.2,184.3 1184.7,214.1 1185.3,251.9 1185.8,247.3 1186.3,221.6 1186.8,245.1 1187.4,210.6 1187.9,229.3 1188.4,220.5 1189.0,234.1 1189.5,229.2 1190.0,207.7 1190.5,236.3 1191.1,240.4 1191.6,208.9 1192.1,201.1 1192.6,243.7 1193.2,195.8 1193.7,190.3 1194.2,226.4 1194.8,235.7 1195.3,243.9 1195.8,217.4 1196.3,239.7 1196.9,231.3 1197.4,217.5 1197.9,193.7 1198.4,189.7 1199.0,187.0 1199.5,206.3 1200.0,226.4 1200.5,263.1 1201.1,272.4 1201.6,219.3 1202.1,249.7 1202.7,230.6 1203.2,222.0 1203.7,209.5 1204.2,253.0 1204.8,187.8 1205.3,224.7 1205.8,221.1 1206.3,178.1 1206.9,205.8 1207.4,197.2 1207.9,239.6 1208.5,206.7 1209.0,241.3 1209.5,228.1 1210.0,238.0 1210.6,247.4 1211.1,195.9 1211.6,203.3 1212.1,209.6 1212.7,195.7 1213.2,238.9 1213.7,231.1 1214.2,223.8 1214.8,275.0 1215.3,220.3 1215.8,233.2 1216.4,232.1 1216.9,221.1 1217.4,236.2 1217.9,203.7 1218.5,236.6 1219.0,193.9 1219.5,238.0 1220.0,231.6 1220.6,264.2 1221.1,221.4 1221.6,251.4 1222.2,246.1 1222.7,254.3 1223.2,265.5 1223.7,247.7 1224.3,237.5 1224.8,238.1 1225.3,222.4 1225.8,253.2 1226.4,270.1 1226.9,248.4 1227.4,270.4 1228.0,217.2 1228.5,245.3 1229.0,257.9 1229.5,248.4 1230.1,241.9 1230.6,245.9 1231.1,277.4 1231.6,223.4 1232.2,251.1 1232.7,255.4 1233.2,235.1 1233.7,243.9 1234.3,207.4 1234.8,204.9 1235.3,198.3 1235.9,216.1 1236.4,186.3 1236.9,238.4 1237.4,233.0 1238.0,243.4 1238.5,217.2 1239.0,236.6 1239.5,242.3 1240.1,268.1 1240.6,219.3 1241.1,251.4 1241.7,227.6 1242.2,228.4 1242.7,256.9 1243.2,260.1 1243.8,239.5 1244.3,243.5 1244.8,262.9 1245.3,283.7 1245.9,226.8 1246.4,240.7 1246.9,288.9 1247.5,242.8 1248.0,247.3 1248.5,246.5 1249.0,254.0 1249.6,236.0 1250.1,242.2 1250.6,259.4 1251.1,245.3 1251.7,256.9 1252.2,254.8 1252.7,263.3 1253.2,276.6 1253.8,263.2 1254.3,249.1 1254.8,220.5 1255.4,219.3 1255.9,235.0 1256.4,252.2 1256.9,255.3 1257.5,244.2 1258.0,272.6 1258.5,231.5 1259.0,259.4 1259.6,276.6 1260.1,269.9 1260.6,236.8 1261.2,243.5 1261.7,259.0 1262.2,245.0 1262.7,287.1 1263.3,296.7 1263.8,287.1 1264.3,322.5 1264.8,317.4 1265.4,304.5 1265.9,292.1 1266.4,292.0 1267.0,284.3 1267.5,316.0 1268.0,310.1 1268.5,296.4 1269.1,297.3 1269.6,340.6 1270.1,313.3 1270.6,252.4 1271.2,273.5 1271.7,213.1 1272.2,313.2 1272.7,272.3 1273.3,283.5 1273.8,276.8 1274.3,268.4 1274.9,270.7 1275.4,313.8 1275.9,322.3 1276.4,300.8 1277.0,298.9 1277.5,280.7 1278.0,302.2 1278.5,319.5 1279.1,324.8 1279.6,255.6 1280.1,267.8 1280.7,269.2 1281.2,294.4 1281.7,277.1 1282.2,280.6 1282.8,296.2 1283.3,305.2 1283.8,295.5 1284.3,275.7 1284.9,328.9 1285.4,301.8 1285.9,276.9 1286.4,296.3 1287.0,301.2 1287.5,297.3 1288.0,300.9 1288.6,288.5 1289.1,293.6 1289.6,310.6 1290.1,273.4 1290.7,251.0 1291.2,269.9 1291.7,290.0 1292.2,272.0 1292.8,291.8 1293.3,304.6 1293.8,308.3 1294.4,286.5 1294.9,314.6 1295.4,281.4 1295.9,261.9 1296.5,272.0 1297.0,290.9 1297.5,320.5 1298.0,282.2 1298.6,302.5 1299.1,294.9 1299.6,287.0 1300.2,297.7 1300.7,338.4 1301.2,319.0 1301.7,314.9 1302.3,280.8 1302.8,257.0 1303.3,273.7 1303.8,257.3 1304.4,290.9 1304.9,295.8 1305.4,299.9 1305.9,269.4 1306.5,294.0 1307.0,320.4 1307.5,296.7 1308.1,272.0 1308.6,271.5 1309.1,275.2 1309.6,239.2 1310.2,269.1 1310.7,306.7 1311.2,272.2 1311.7,237.1 1312.3,277.1 1312.8,269.1 1313.3,259.0 1313.9,298.4 1314.4,271.2 1314.9,303.0 1315.4,306.0 1316.0,291.0 1316.5,280.4 1317.0,324.2 1317.5,286.7 1318.1,294.2 1318.6,261.9 1319.1,280.0 1319.7,260.3 1320.2,300.8 1320.7,304.4 1321.2,285.8 1321.8,290.2 1322.3,270.7 1322.8,304.7 1323.3,263.0 1323.9,305.0 1324.4,292.3 1324.9,298.2 1325.4,283.3 1326.0,296.8 1326.5,279.5 1327.0,313.7 1327.6,307.3 1328.1,326.1 1328.6,316.3 1329.1,306.3 1329.7,264.9 1330.2,310.2 1330.7,303.3 1331.2,317.9 1331.8,305.9 1332.3,290.6 1332.8,252.1 1333.4,312.4 1333.9,279.5 1334.4,290.0 1334.9,266.4 1335.5,282.1 1336.0,266.4 1336.5,283.2 1337.0,276.5 1337.6,320.5 1338.1,284.8 1338.6,297.9 1339.1,268.5 1339.7,262.2 1340.2,302.3 1340.7,287.6 1341.3,304.4 1341.8,330.9 1342.3,297.6 1342.8,278.2 1343.4,277.3 1343.9,284.3 1344.4,309.4 1344.9,257.0 1345.5,302.0 1346.0,348.2 1346.5,319.9 1347.1,281.3 1347.6,319.0 1348.1,303.6 1348.6,308.4 1349.2,284.4 1349.7,300.2 1350.2,298.3 1350.7,321.0 1351.3,279.9 1351.8,273.5 1352.3,290.3 1352.9,299.0 1353.4,319.4 1353.9,324.9 1354.4,322.9 1355.0,320.4 1355.5,328.8 1356.0,325.6 1356.5,320.9 1357.1,289.5 1357.6,314.7 1358.1,253.8 1358.6,288.4 1359.2,307.0 1359.7,291.6 1360.2,242.4 1360.8,271.7 1361.3,286.2 1361.8,296.3 1362.3,270.6 1362.9,307.7 1363.4,286.0 1363.9,268.1 1364.4,294.6 1365.0,287.0 1365.5,288.5 1366.0,303.3 1366.6,337.6 1367.1,289.3 1367.6,312.2 1368.1,343.1 1368.7,298.3 1369.2,300.4 1369.7,288.8 1370.2,302.2 1370.8,286.1 1371.3,340.3 1371.8,312.1 1372.3,269.6 1372.9,299.7 1373.4,351.9 1373.9,335.3 1374.5,307.8 1375.0,323.6 1375.5,338.2 1376.0,302.7 1376.6,321.2 1377.1,288.3 1377.6,333.3 1378.1,309.1 1378.7,263.7 1379.2,315.4 1379.7,295.4 1380.3,305.3 1380.8,347.0 1381.3,313.5 1381.8,313.3 1382.4,307.6 1382.9,339.9 1383.4,287.7 1383.9,317.1 1384.5,283.5 1385.0,308.9 1385.5,304.0 1386.1,275.3 1386.6,283.0 1387.1,272.7 1387.6,290.3 1388.2,289.6 1388.7,310.0 1389.2,291.0 1389.7,322.8 1390.3,304.4 1390.8,267.9 1391.3,313.9 1391.8,294.2 1392.4,317.1 1392.9,281.9 1393.4,291.9 1394.0,308.7 1394.5,302.2 1395.0,300.1 1395.5,315.5 1396.1,326.1 1396.6,321.7 1397.1,357.2 1397.6,333.8 1398.2,323.0 1398.7,311.2 1399.2,289.3 1399.8,341.3 1400.3,302.5 1400.8,340.1 1401.3,297.5 1401.9,328.9 1402.4,303.3 1402.9,316.6 1403.4,287.4 1404.0,299.8 1404.5,327.7 1405.0,282.9 1405.6,307.1 1406.1,301.6 1406.6,336.9 1407.1,313.3 1407.7,336.3 1408.2,344.1 1408.7,315.3 1409.2,326.3 1409.8,339.8 1410.3,316.9 1410.8,335.9 1411.3,283.5 1411.9,286.5 1412.4,279.7 1412.9,294.2 1413.5,294.2 1414.0,284.7 1414.5,290.9 1415.0,291.8 1415.6,297.0 1416.1,280.4 1416.6,313.8 1417.1,256.3 1417.7,252.2 1418.2,291.4 1418.7,303.9 1419.3,307.1 1419.8,252.5 1420.3,272.8 1420.8,311.0 1421.4,305.0 1421.9,257.4 1422.4,273.9 1422.9,272.8 1423.5,283.0 1424.0,276.9 1424.5,304.9 1425.0,285.7 1425.6,269.9 1426.1,262.5 1426.6,253.4 1427.2,287.9 1427.7,244.8 1428.2,278.7 1428.7,237.4 1429.3,259.1 1429.8,251.4 1430.3,290.3 1430.8,303.6 1431.4,267.3 1431.9,283.4 1432.4,276.2 1433.0,288.8 1433.5,246.0 1434.0,257.8 1434.5,238.5 1435.1,232.1 1435.6,249.7 1436.1,211.4 1436.6,233.1 1437.2,215.3 1437.7,229.2 1438.2,203.4 1438.8,230.0 1439.3,211.0 1439.8,238.1 1440.3,269.9 1440.9,201.5 1441.4,247.8 1441.9,244.0 1442.4,258.4 1443.0,269.4 1443.5,275.0 1444.0,271.9 1444.5,250.2 1445.1,283.9 1445.6,269.8 1446.1,282.2 1446.7,292.2 1447.2,294.0 1447.7,259.1 1448.2,277.3 1448.8,266.4 1449.3,263.3 1449.8,241.0 1450.3,240.6 1450.9,249.1 1451.4,241.5 1451.9,238.0 1452.5,226.4 1453.0,229.4 1453.5,244.4 1454.0,279.0 1454.6,274.0 1455.1,265.0 1455.6,279.2 1456.1,252.9 1456.7,269.5 1457.2,253.0 1457.7,277.0 1458.3,318.3 1458.8,272.3 1459.3,274.7 1459.8,235.5 1460.4,254.6 1460.9,294.8 1461.4,286.3 1461.9,265.4 1462.5,251.0 1463.0,264.6 1463.5,279.8 1464.0,298.3 1464.6,288.7 1465.1,241.8 1465.6,292.7 1466.2,262.2 1466.7,283.3 1467.2,304.7 1467.7,295.5 1468.3,285.3 1468.8,276.8 1469.3,309.7 1469.8,302.7 1470.4,314.9 1470.9,283.4 1471.4,271.1 1472.0,281.2 1472.5,260.7 1473.0,268.0 1473.5,287.5 1474.1,302.2 1474.6,289.6 1475.1,292.7 1475.6,312.0 1476.2,282.1 1476.7,273.9 1477.2,291.8 1477.8,283.1 1478.3,283.6 1478.8,312.7 1479.3,285.7 1479.9,269.4 1480.4,269.5 1480.9,284.8 1481.4,320.8 1482.0,307.2 1482.5,271.7 1483.0,254.3 1483.5,293.1 1484.1,275.0 1484.6,283.0 1485.1,301.4 1485.7,316.4 1486.2,284.8 1486.7,304.5 1487.2,294.9 1487.8,310.9 1488.3,304.6 1488.8,301.9 1489.3,271.9 1489.9,283.7 1490.4,302.1 1490.9,290.8 1491.5,316.0 1492.0,313.9 1492.5,309.6 1493.0,307.3 1493.6,289.4 1494.1,307.7 1494.6,284.7 1495.1,276.7 1495.7,301.7 1496.2,298.8 1496.7,290.7 1497.2,290.5 1497.8,248.5 1498.3,285.3 1498.8,290.6 1499.4,299.3 1499.9,252.1 1500.4,246.5 1500.9,211.4 1501.5,276.4 1502.0,266.0 1502.5,274.6 1503.0,253.2 1503.6,309.5 1504.1,295.1 1504.6,319.8 1505.2,316.1 1505.7,327.9 1506.2,300.5 1506.7,338.8 1507.3,309.4 1507.8,348.1 1508.3,290.3 1508.8,322.8 1509.4,299.6 1509.9,311.5 1510.4,308.5 1511.0,303.6 1511.5,265.1 1512.0,284.0 1512.5,299.3 1513.1,277.4 1513.6,328.6 1514.1,257.2 1514.6,307.0 1515.2,269.6 1515.7,282.7 1516.2,329.5 1516.7,329.0 1517.3,277.1 1517.8,309.0 1518.3,314.7 1518.9,305.6 1519.4,303.8 1519.9,307.6 1520.4,307.1 1521.0,316.6 1521.5,299.3 1522.0,308.1 1522.5,297.4 1523.1,279.5 1523.6,274.5 1524.1,276.3 1524.7,286.7 1525.2,262.0 1525.7,238.2 1526.2,291.0 1526.8,286.5 1527.3,293.7 1527.8,281.9 1528.3,277.4 1528.9,308.7 1529.4,267.0 1529.9,302.6 1530.4,302.2 1531.0,295.6 1531.5,308.0 1532.0,296.0 1532.6,288.3 1533.1,302.3 1533.6,292.0 1534.1,294.4 1534.7,271.0 1535.2,284.1 1535.7,258.8 1536.2,282.3 1536.8,321.1 1537.3,291.6 1537.8,284.1 1538.4,259.7 1538.9,271.2 1539.4,236.2 1539.9,265.8 1540.5,260.8 1541.0,276.7 1541.5,273.5 1542.0,260.3 1542.6,290.2 1543.1,307.2 1543.6,263.7 1544.2,251.2 1544.7,259.6 1545.2,297.3 1545.7,259.4 1546.3,226.4 1546.8,268.9 1547.3,313.2 1547.8,267.0 1548.4,279.5 1548.9,285.4 1549.4,293.8 1549.9,293.3 1550.5,281.8 1551.0,294.9 1551.5,263.0 1552.1,283.4 1552.6,281.9 1553.1,252.9 1553.6,241.0 1554.2,252.9 1554.7,290.0 1555.2,249.1 1555.7,280.5 1556.3,273.3 1556.8,263.5" fill="none" stroke="#7ae052" stroke-width="1.4" stroke-opacity="1.0"/><polyline points="1029.8,352.4 1030.3,355.9 1030.9,325.2 1031.4,359.5 1031.9,365.1 1032.4,381.5 1033.0,371.1 1033.5,374.9 1034.0,405.9 1034.5,377.4 1035.1,347.9 1035.6,339.3 1036.1,341.2 1036.7,338.5 1037.2,296.6 1037.7,356.0 1038.2,355.6 1038.8,367.7 1039.3,324.4 1039.8,358.5 1040.3,351.9 1040.9,316.1 1041.4,319.0 1041.9,371.8 1042.4,329.5 1043.0,333.7 1043.5,339.0 1044.0,340.8 1044.6,329.5 1045.1,302.1 1045.6,348.3 1046.1,352.0 1046.7,341.8 1047.2,356.5 1047.7,346.8 1048.2,343.9 1048.8,350.3 1049.3,336.8 1049.8,338.0 1050.4,342.2 1050.9,315.4 1051.4,355.2 1051.9,348.6 1052.5,322.6 1053.0,353.4 1053.5,354.6 1054.0,341.6 1054.6,338.0 1055.1,332.4 1055.6,357.5 1056.1,355.3 1056.7,315.6 1057.2,330.6 1057.7,319.3 1058.3,301.2 1058.8,347.8 1059.3,376.7 1059.8,342.2 1060.4,360.8 1060.9,344.9 1061.4,355.5 1061.9,342.1 1062.5,333.7 1063.0,336.2 1063.5,344.4 1064.1,333.4 1064.6,301.4 1065.1,319.3 1065.6,320.4 1066.2,324.9 1066.7,291.4 1067.2,317.4 1067.7,321.6 1068.3,338.8 1068.8,279.1 1069.3,309.8 1069.9,335.9 1070.4,308.5 1070.9,333.6 1071.4,342.7 1072.0,300.5 1072.5,343.1 1073.0,332.1 1073.5,333.1 1074.1,303.9 1074.6,320.4 1075.1,348.6 1075.6,307.8 1076.2,305.1 1076.7,321.5 1077.2,305.7 1077.8,332.6 1078.3,304.8 1078.8,357.6 1079.3,357.4 1079.9,374.6 1080.4,354.0 1080.9,311.1 1081.4,334.5 1082.0,321.7 1082.5,296.0 1083.0,301.5 1083.6,268.0 1084.1,310.4 1084.6,273.6 1085.1,289.1 1085.7,305.9 1086.2,280.5 1086.7,283.6 1087.2,266.4 1087.8,312.9 1088.3,316.2 1088.8,310.6 1089.4,330.1 1089.9,352.4 1090.4,335.8 1090.9,332.1 1091.5,293.1 1092.0,288.5 1092.5,337.0 1093.0,301.1 1093.6,334.9 1094.1,306.9 1094.6,319.7 1095.1,318.7 1095.7,297.9 1096.2,311.4 1096.7,312.3 1097.3,302.2 1097.8,316.0 1098.3,327.1 1098.8,273.5 1099.4,295.4 1099.9,319.7 1100.4,285.2 1100.9,289.4 1101.5,300.7 1102.0,286.8 1102.5,293.4 1103.1,343.7 1103.6,349.7 1104.1,320.9 1104.6,340.9 1105.2,315.6 1105.7,361.9 1106.2,345.1 1106.7,351.6 1107.3,297.9 1107.8,298.8 1108.3,322.2 1108.8,300.8 1109.4,341.0 1109.9,324.2 1110.4,294.2 1111.0,297.0 1111.5,280.7 1112.0,273.3 1112.5,273.2 1113.1,267.0 1113.6,288.7 1114.1,277.1 1114.6,269.6 1115.2,256.6 1115.7,275.9 1116.2,276.9 1116.8,267.8 1117.3,280.1 1117.8,265.0 1118.3,293.3 1118.9,281.6 1119.4,286.9 1119.9,308.8 1120.4,316.6 1121.0,296.4 1121.5,290.0 1122.0,313.2 1122.6,340.9 1123.1,320.5 1123.6,302.6 1124.1,308.0 1124.7,306.0 1125.2,326.1 1125.7,270.1 1126.2,286.4 1126.8,297.7 1127.3,285.0 1127.8,283.7 1128.3,314.6 1128.9,321.2 1129.4,308.7 1129.9,274.8 1130.5,288.7 1131.0,301.3 1131.5,319.2 1132.0,282.9 1132.6,323.6 1133.1,300.9 1133.6,271.9 1134.1,288.4 1134.7,295.6 1135.2,269.9 1135.7,299.1 1136.3,274.6 1136.8,302.2 1137.3,281.2 1137.8,274.2 1138.4,251.7 1138.9,274.1 1139.4,304.6 1139.9,286.6 1140.5,315.1 1141.0,283.3 1141.5,273.3 1142.1,270.9 1142.6,273.9 1143.1,298.9 1143.6,267.1 1144.2,320.8 1144.7,270.1 1145.2,240.3 1145.7,273.4 1146.3,267.6 1146.8,277.7 1147.3,263.4 1147.8,283.7 1148.4,284.0 1148.9,309.9 1149.4,273.3 1150.0,277.4 1150.5,270.8 1151.0,275.2 1151.5,298.8 1152.1,292.1 1152.6,295.8 1153.1,291.0 1153.6,265.3 1154.2,244.1 1154.7,302.4 1155.2,245.1 1155.8,257.6 1156.3,257.0 1156.8,260.2 1157.3,242.3 1157.9,255.6 1158.4,297.0 1158.9,255.9 1159.4,267.8 1160.0,300.4 1160.5,294.8 1161.0,290.5 1161.5,257.7 1162.1,271.5 1162.6,272.2 1163.1,261.6 1163.7,292.8 1164.2,302.1 1164.7,276.6 1165.2,261.9 1165.8,239.9 1166.3,257.7 1166.8,279.0 1167.3,249.5 1167.9,266.8 1168.4,227.7 1168.9,257.5 1169.5,256.6 1170.0,280.1 1170.5,262.4 1171.0,284.4 1171.6,254.9 1172.1,260.9 1172.6,286.2 1173.1,237.8 1173.7,306.1 1174.2,261.5 1174.7,282.1 1175.3,242.6 1175.8,247.7 1176.3,266.0 1176.8,252.6 1177.4,235.6 1177.9,259.8 1178.4,287.1 1178.9,287.0 1179.5,277.2 1180.0,277.6 1180.5,271.3 1181.0,250.6 1181.6,260.5 1182.1,255.5 1182.6,265.6 1183.2,230.4 1183.7,263.0 1184.2,234.1 1184.7,269.6 1185.3,274.8 1185.8,296.3 1186.3,229.3 1186.8,255.0 1187.4,258.6 1187.9,236.8 1188.4,256.4 1189.0,261.8 1189.5,253.6 1190.0,290.1 1190.5,261.5 1191.1,261.8 1191.6,244.9 1192.1,223.5 1192.6,239.7 1193.2,275.1 1193.7,277.6 1194.2,307.1 1194.8,284.8 1195.3,306.4 1195.8,284.0 1196.3,274.8 1196.9,255.4 1197.4,248.0 1197.9,224.4 1198.4,215.3 1199.0,263.2 1199.5,266.1 1200.0,267.4 1200.5,247.5 1201.1,216.4 1201.6,243.4 1202.1,251.5 1202.7,226.2 1203.2,230.2 1203.7,267.6 1204.2,268.0 1204.8,223.8 1205.3,239.4 1205.8,268.3 1206.3,225.8 1206.9,236.6 1207.4,225.4 1207.9,257.5 1208.5,304.1 1209.0,277.9 1209.5,242.4 1210.0,276.3 1210.6,267.2 1211.1,258.1 1211.6,239.2 1212.1,248.3 1212.7,227.2 1213.2,250.5 1213.7,237.9 1214.2,236.5 1214.8,224.6 1215.3,238.6 1215.8,202.6 1216.4,226.8 1216.9,214.4 1217.4,231.6 1217.9,276.4 1218.5,287.4 1219.0,215.5 1219.5,247.8 1220.0,291.0 1220.6,221.9 1221.1,244.5 1221.6,264.4 1222.2,265.8 1222.7,234.4 1223.2,290.6 1223.7,262.2 1224.3,252.8 1224.8,243.7 1225.3,239.6 1225.8,249.1 1226.4,260.7 1226.9,284.9 1227.4,271.6 1228.0,285.6 1228.5,266.5 1229.0,248.1 1229.5,235.8 1230.1,243.3 1230.6,221.4 1231.1,266.6 1231.6,207.2 1232.2,241.6 1232.7,246.4 1233.2,238.2 1233.7,214.8 1234.3,231.3 1234.8,251.1 1235.3,235.6 1235.9,254.4 1236.4,245.4 1236.9,255.4 1237.4,228.3 1238.0,245.5 1238.5,236.5 1239.0,269.3 1239.5,259.7 1240.1,232.8 1240.6,247.5 1241.1,272.7 1241.7,283.0 1242.2,223.6 1242.7,212.3 1243.2,237.4 1243.8,224.8 1244.3,215.3 1244.8,205.8 1245.3,235.2 1245.9,222.8 1246.4,225.1 1246.9,242.5 1247.5,256.5 1248.0,217.8 1248.5,263.3 1249.0,241.3 1249.6,235.6 1250.1,256.3 1250.6,262.1 1251.1,257.6 1251.7,252.8 1252.2,267.7 1252.7,268.5 1253.2,254.9 1253.8,241.7 1254.3,218.4 1254.8,257.4 1255.4,240.3 1255.9,219.3 1256.4,234.9 1256.9,237.6 1257.5,235.6 1258.0,256.8 1258.5,210.0 1259.0,209.1 1259.6,250.3 1260.1,241.5 1260.6,249.4 1261.2,305.5 1261.7,263.9 1262.2,239.2 1262.7,254.7 1263.3,282.0 1263.8,221.4 1264.3,224.2 1264.8,228.3 1265.4,244.3 1265.9,255.0 1266.4,291.6 1267.0,225.6 1267.5,231.8 1268.0,232.2 1268.5,220.6 1269.1,265.0 1269.6,213.7 1270.1,247.8 1270.6,202.7 1271.2,251.4 1271.7,221.0 1272.2,218.0 1272.7,214.5 1273.3,174.4 1273.8,221.0 1274.3,211.3 1274.9,242.3 1275.4,248.5 1275.9,243.4 1276.4,212.2 1277.0,216.2 1277.5,256.9 1278.0,254.6 1278.5,270.6 1279.1,263.8 1279.6,273.5 1280.1,268.0 1280.7,252.3 1281.2,256.1 1281.7,274.7 1282.2,249.5 1282.8,288.5 1283.3,242.6 1283.8,257.9 1284.3,267.6 1284.9,244.5 1285.4,249.5 1285.9,257.1 1286.4,244.5 1287.0,241.8 1287.5,252.1 1288.0,255.3 1288.6,255.4 1289.1,284.9 1289.6,268.6 1290.1,264.4 1290.7,268.9 1291.2,290.0 1291.7,268.5 1292.2,273.8 1292.8,253.6 1293.3,254.2 1293.8,248.0 1294.4,269.4 1294.9,266.0 1295.4,227.4 1295.9,249.6 1296.5,253.2 1297.0,256.2 1297.5,273.7 1298.0,285.6 1298.6,283.9 1299.1,250.5 1299.6,263.6 1300.2,225.7 1300.7,235.3 1301.2,233.5 1301.7,232.6 1302.3,250.5 1302.8,215.0 1303.3,205.9 1303.8,227.4 1304.4,219.5 1304.9,246.3 1305.4,225.5 1305.9,270.8 1306.5,257.0 1307.0,229.9 1307.5,252.3 1308.1,257.5 1308.6,248.6 1309.1,220.1 1309.6,287.7 1310.2,249.9 1310.7,226.5 1311.2,247.5 1311.7,245.8 1312.3,242.7 1312.8,220.0 1313.3,208.3 1313.9,244.6 1314.4,265.7 1314.9,250.8 1315.4,227.1 1316.0,244.8 1316.5,232.3 1317.0,274.6 1317.5,303.6 1318.1,257.8 1318.6,240.2 1319.1,276.8 1319.7,261.0 1320.2,308.7 1320.7,271.8 1321.2,261.4 1321.8,268.6 1322.3,231.7 1322.8,247.8 1323.3,237.7 1323.9,218.4 1324.4,238.5 1324.9,284.2 1325.4,222.5 1326.0,221.8 1326.5,260.1 1327.0,215.8 1327.6,226.3 1328.1,245.4 1328.6,216.4 1329.1,261.3 1329.7,275.0 1330.2,210.0 1330.7,254.4 1331.2,216.1 1331.8,260.8 1332.3,250.2 1332.8,223.7 1333.4,276.6 1333.9,276.0 1334.4,271.5 1334.9,290.2 1335.5,230.8 1336.0,258.9 1336.5,236.5 1337.0,291.4 1337.6,217.5 1338.1,266.4 1338.6,229.3 1339.1,240.6 1339.7,230.4 1340.2,262.2 1340.7,264.2 1341.3,265.9 1341.8,249.6 1342.3,269.1 1342.8,234.6 1343.4,248.5 1343.9,265.6 1344.4,266.9 1344.9,276.4 1345.5,241.2 1346.0,229.8 1346.5,247.2 1347.1,262.2 1347.6,284.3 1348.1,215.8 1348.6,217.9 1349.2,260.4 1349.7,233.4 1350.2,253.0 1350.7,267.7 1351.3,240.8 1351.8,236.7 1352.3,249.0 1352.9,257.3 1353.4,203.4 1353.9,232.6 1354.4,218.9 1355.0,196.9 1355.5,230.6 1356.0,209.1 1356.5,245.8 1357.1,257.6 1357.6,264.5 1358.1,262.6 1358.6,286.5 1359.2,278.2 1359.7,263.9 1360.2,287.2 1360.8,281.8 1361.3,270.7 1361.8,226.5 1362.3,233.3 1362.9,231.8 1363.4,262.4 1363.9,241.2 1364.4,238.2 1365.0,222.0 1365.5,229.0 1366.0,235.6 1366.6,238.4 1367.1,240.5 1367.6,271.6 1368.1,240.4 1368.7,222.8 1369.2,216.0 1369.7,274.8 1370.2,250.5 1370.8,241.0 1371.3,224.4 1371.8,260.7 1372.3,241.6 1372.9,236.7 1373.4,206.8 1373.9,209.8 1374.5,222.9 1375.0,222.8 1375.5,224.2 1376.0,195.6 1376.6,260.1 1377.1,262.7 1377.6,271.4 1378.1,236.7 1378.7,245.3 1379.2,261.9 1379.7,270.7 1380.3,260.7 1380.8,243.2 1381.3,251.3 1381.8,260.3 1382.4,237.4 1382.9,274.8 1383.4,253.2 1383.9,248.5 1384.5,217.5 1385.0,240.3 1385.5,233.4 1386.1,242.0 1386.6,212.9 1387.1,243.6 1387.6,251.8 1388.2,232.7 1388.7,227.5 1389.2,212.3 1389.7,235.4 1390.3,248.7 1390.8,231.9 1391.3,218.7 1391.8,258.7 1392.4,271.7 1392.9,268.3 1393.4,245.5 1394.0,271.6 1394.5,204.0 1395.0,229.1 1395.5,242.0 1396.1,222.6 1396.6,245.6 1397.1,227.8 1397.6,239.6 1398.2,259.5 1398.7,270.5 1399.2,268.9 1399.8,269.2 1400.3,253.0 1400.8,264.9 1401.3,277.2 1401.9,249.5 1402.4,253.2 1402.9,252.2 1403.4,268.6 1404.0,272.7 1404.5,248.9 1405.0,255.4 1405.6,263.3 1406.1,261.9 1406.6,246.1 1407.1,258.6 1407.7,265.1 1408.2,273.3 1408.7,263.4 1409.2,275.1 1409.8,267.2 1410.3,248.3 1410.8,272.4 1411.3,273.6 1411.9,266.6 1412.4,262.5 1412.9,257.1 1413.5,253.6 1414.0,231.7 1414.5,248.0 1415.0,245.8 1415.6,254.7 1416.1,270.9 1416.6,259.5 1417.1,231.8 1417.7,238.9 1418.2,258.2 1418.7,213.9 1419.3,253.8 1419.8,263.5 1420.3,263.0 1420.8,270.9 1421.4,253.6 1421.9,264.6 1422.4,264.9 1422.9,237.3 1423.5,237.2 1424.0,264.0 1424.5,258.3 1425.0,257.5 1425.6,231.4 1426.1,239.8 1426.6,268.6 1427.2,281.0 1427.7,253.3 1428.2,257.9 1428.7,227.1 1429.3,238.7 1429.8,233.6 1430.3,258.4 1430.8,262.2 1431.4,252.0 1431.9,264.4 1432.4,216.3 1433.0,229.7 1433.5,258.7 1434.0,247.0 1434.5,222.2 1435.1,261.1 1435.6,217.5 1436.1,239.5 1436.6,234.2 1437.2,247.7 1437.7,233.6 1438.2,210.6 1438.8,234.2 1439.3,200.6 1439.8,202.1 1440.3,215.5 1440.9,181.4 1441.4,197.5 1441.9,208.0 1442.4,239.2 1443.0,200.0 1443.5,214.7 1444.0,231.7 1444.5,231.4 1445.1,179.2 1445.6,216.4 1446.1,179.3 1446.7,209.2 1447.2,204.9 1447.7,209.9 1448.2,227.7 1448.8,221.4 1449.3,233.9 1449.8,241.9 1450.3,241.6 1450.9,234.1 1451.4,251.6 1451.9,237.4 1452.5,258.4 1453.0,248.6 1453.5,215.2 1454.0,223.0 1454.6,246.3 1455.1,232.7 1455.6,210.9 1456.1,184.7 1456.7,180.6 1457.2,200.9 1457.7,215.4 1458.3,213.1 1458.8,180.2 1459.3,176.2 1459.8,167.3 1460.4,195.4 1460.9,207.0 1461.4,226.1 1461.9,247.4 1462.5,211.0 1463.0,242.5 1463.5,209.1 1464.0,210.2 1464.6,209.5 1465.1,199.0 1465.6,239.4 1466.2,207.9 1466.7,236.8 1467.2,217.5 1467.7,200.9 1468.3,221.2 1468.8,199.5 1469.3,201.1 1469.8,205.9 1470.4,203.9 1470.9,189.9 1471.4,205.8 1472.0,206.5 1472.5,216.5 1473.0,230.7 1473.5,233.8 1474.1,183.7 1474.6,186.3 1475.1,215.0 1475.6,229.2 1476.2,212.3 1476.7,197.1 1477.2,225.1 1477.8,201.7 1478.3,190.9 1478.8,212.2 1479.3,194.2 1479.9,241.8 1480.4,244.1 1480.9,193.3 1481.4,204.7 1482.0,215.5 1482.5,225.8 1483.0,196.8 1483.5,165.9 1484.1,170.1 1484.6,187.3 1485.1,220.2 1485.7,219.5 1486.2,228.2 1486.7,173.6 1487.2,164.6 1487.8,191.8 1488.3,186.3 1488.8,220.5 1489.3,186.9 1489.9,213.6 1490.4,203.2 1490.9,194.7 1491.5,168.6 1492.0,202.6 1492.5,203.5 1493.0,203.1 1493.6,210.8 1494.1,197.1 1494.6,205.4 1495.1,221.5 1495.7,208.3 1496.2,224.4 1496.7,226.5 1497.2,198.6 1497.8,243.2 1498.3,240.0 1498.8,210.1 1499.4,220.6 1499.9,204.1 1500.4,202.7 1500.9,238.4 1501.5,231.2 1502.0,178.1 1502.5,208.7 1503.0,198.3 1503.6,209.6 1504.1,224.9 1504.6,248.9 1505.2,221.5 1505.7,223.5 1506.2,217.4 1506.7,235.8 1507.3,223.1 1507.8,192.5 1508.3,210.6 1508.8,216.9 1509.4,239.9 1509.9,247.4 1510.4,241.5 1511.0,220.0 1511.5,217.9 1512.0,195.3 1512.5,223.1 1513.1,204.6 1513.6,249.3 1514.1,223.9 1514.6,230.7 1515.2,235.4 1515.7,207.9 1516.2,177.3 1516.7,167.5 1517.3,209.9 1517.8,180.9 1518.3,217.4 1518.9,217.9 1519.4,198.4 1519.9,216.1 1520.4,196.5 1521.0,200.4 1521.5,211.1 1522.0,197.4 1522.5,215.9 1523.1,248.2 1523.6,213.4 1524.1,260.0 1524.7,227.0 1525.2,233.5 1525.7,229.0 1526.2,237.7 1526.8,288.0 1527.3,277.9 1527.8,235.3 1528.3,230.8 1528.9,226.1 1529.4,265.9 1529.9,245.3 1530.4,261.3 1531.0,200.9 1531.5,251.2 1532.0,184.0 1532.6,229.4 1533.1,220.4 1533.6,181.1 1534.1,209.0 1534.7,178.9 1535.2,191.3 1535.7,182.8 1536.2,197.8 1536.8,174.1 1537.3,213.8 1537.8,179.3 1538.4,183.9 1538.9,200.6 1539.4,193.6 1539.9,208.1 1540.5,218.1 1541.0,226.9 1541.5,202.0 1542.0,214.4 1542.6,214.6 1543.1,199.3 1543.6,208.0 1544.2,213.7 1544.7,238.2 1545.2,248.2 1545.7,216.2 1546.3,209.8 1546.8,233.3 1547.3,254.3 1547.8,218.5 1548.4,248.6 1548.9,211.5 1549.4,236.9 1549.9,203.0 1550.5,236.7 1551.0,205.4 1551.5,247.8 1552.1,226.4 1552.6,216.8 1553.1,215.5 1553.6,198.7 1554.2,204.3 1554.7,242.0 1555.2,227.2 1555.7,201.9 1556.3,260.4 1556.8,208.1" fill="none" stroke="#0000e6" stroke-width="1.4" stroke-opacity="1.0"/><polyline points="1029.8,369.5 1030.3,353.2 1030.9,334.6 1031.4,366.8 1031.9,340.3 1032.4,327.1 1033.0,355.0 1033.5,372.0 1034.0,344.8 1034.5,368.6 1035.1,343.8 1035.6,365.8 1036.1,386.0 1036.7,360.7 1037.2,364.0 1037.7,320.8 1038.2,370.0 1038.8,393.1 1039.3,349.7 1039.8,364.7 1040.3,376.2 1040.9,347.1 1041.4,307.6 1041.9,326.1 1042.4,299.5 1043.0,308.0 1043.5,313.8 1044.0,328.7 1044.6,356.4 1045.1,339.0 1045.6,328.1 1046.1,330.2 1046.7,316.8 1047.2,353.9 1047.7,364.4 1048.2,336.4 1048.8,330.5 1049.3,376.3 1049.8,358.3 1050.4,337.5 1050.9,373.1 1051.4,364.3 1051.9,382.4 1052.5,377.4 1053.0,363.4 1053.5,355.6 1054.0,358.3 1054.6,355.4 1055.1,383.6 1055.6,351.1 1056.1,360.1 1056.7,349.3 1057.2,373.6 1057.7,339.7 1058.3,314.3 1058.8,315.7 1059.3,337.1 1059.8,297.5 1060.4,328.0 1060.9,298.9 1061.4,325.0 1061.9,337.7 1062.5,314.8 1063.0,332.9 1063.5,372.9 1064.1,337.9 1064.6,389.3 1065.1,357.0 1065.6,348.1 1066.2,351.2 1066.7,354.2 1067.2,324.6 1067.7,378.0 1068.3,352.6 1068.8,333.9 1069.3,370.3 1069.9,341.0 1070.4,343.4 1070.9,358.5 1071.4,340.1 1072.0,357.3 1072.5,348.6 1073.0,315.5 1073.5,329.5 1074.1,302.7 1074.6,362.9 1075.1,361.9 1075.6,352.4 1076.2,360.0 1076.7,351.0 1077.2,345.3 1077.8,324.3 1078.3,353.9 1078.8,322.8 1079.3,359.0 1079.9,368.1 1080.4,342.6 1080.9,300.4 1081.4,319.2 1082.0,330.9 1082.5,314.7 1083.0,322.0 1083.6,312.9 1084.1,318.7 1084.6,287.3 1085.1,317.0 1085.7,288.5 1086.2,320.3 1086.7,297.7 1087.2,334.0 1087.8,356.5 1088.3,342.4 1088.8,292.9 1089.4,335.7 1089.9,345.2 1090.4,321.0 1090.9,337.2 1091.5,371.5 1092.0,351.6 1092.5,349.8 1093.0,345.2 1093.6,368.0 1094.1,386.1 1094.6,346.2 1095.1,296.6 1095.7,349.3 1096.2,361.3 1096.7,343.2 1097.3,328.8 1097.8,303.8 1098.3,343.7 1098.8,329.5 1099.4,366.3 1099.9,324.3 1100.4,341.7 1100.9,345.9 1101.5,357.7 1102.0,321.5 1102.5,320.9 1103.1,309.6 1103.6,337.4 1104.1,338.1 1104.6,351.6 1105.2,336.2 1105.7,332.4 1106.2,303.6 1106.7,331.6 1107.3,346.1 1107.8,341.6 1108.3,349.4 1108.8,347.3 1109.4,327.1 1109.9,350.6 1110.4,287.5 1111.0,352.9 1111.5,375.8 1112.0,321.3 1112.5,347.8 1113.1,311.7 1113.6,324.2 1114.1,311.8 1114.6,335.3 1115.2,331.6 1115.7,364.6 1116.2,333.1 1116.8,307.5 1117.3,319.9 1117.8,297.6 1118.3,311.2 1118.9,318.1 1119.4,339.1 1119.9,329.2 1120.4,317.4 1121.0,312.6 1121.5,348.2 1122.0,311.2 1122.6,338.9 1123.1,350.2 1123.6,320.3 1124.1,301.0 1124.7,316.3 1125.2,325.6 1125.7,318.8 1126.2,345.8 1126.8,347.4 1127.3,331.1 1127.8,356.8 1128.3,329.3 1128.9,343.7 1129.4,313.1 1129.9,337.5 1130.5,329.5 1131.0,349.2 1131.5,321.9 1132.0,330.5 1132.6,332.0 1133.1,352.8 1133.6,320.2 1134.1,313.2 1134.7,337.7 1135.2,328.6 1135.7,321.3 1136.3,285.4 1136.8,308.0 1137.3,282.3 1137.8,339.5 1138.4,321.2 1138.9,325.6 1139.4,270.7 1139.9,299.8 1140.5,312.6 1141.0,284.7 1141.5,314.8 1142.1,369.2 1142.6,358.3 1143.1,315.8 1143.6,334.2 1144.2,353.6 1144.7,335.6 1145.2,307.5 1145.7,326.1 1146.3,293.6 1146.8,315.1 1147.3,317.3 1147.8,300.4 1148.4,267.9 1148.9,275.9 1149.4,281.3 1150.0,312.1 1150.5,337.4 1151.0,279.1 1151.5,302.0 1152.1,325.5 1152.6,323.6 1153.1,302.3 1153.6,334.5 1154.2,346.0 1154.7,332.4 1155.2,346.8 1155.8,324.0 1156.3,325.6 1156.8,316.8 1157.3,314.3 1157.9,305.1 1158.4,284.0 1158.9,293.7 1159.4,274.8 1160.0,318.7 1160.5,330.3 1161.0,316.3 1161.5,304.9 1162.1,329.1 1162.6,325.1 1163.1,335.4 1163.7,347.8 1164.2,314.0 1164.7,312.9 1165.2,301.4 1165.8,325.8 1166.3,310.3 1166.8,320.0 1167.3,291.3 1167.9,281.0 1168.4,290.7 1168.9,248.0 1169.5,298.9 1170.0,270.9 1170.5,287.2 1171.0,277.2 1171.6,350.8 1172.1,291.1 1172.6,331.9 1173.1,285.5 1173.7,331.0 1174.2,296.6 1174.7,307.0 1175.3,276.7 1175.8,331.0 1176.3,317.1 1176.8,284.2 1177.4,292.6 1177.9,339.2 1178.4,315.6 1178.9,312.4 1179.5,306.7 1180.0,306.5 1180.5,278.9 1181.0,271.1 1181.6,307.7 1182.1,275.8 1182.6,315.8 1183.2,291.7 1183.7,297.6 1184.2,290.8 1184.7,329.9 1185.3,306.7 1185.8,293.7 1186.3,290.1 1186.8,266.2 1187.4,309.2 1187.9,295.3 1188.4,299.5 1189.0,290.6 1189.5,323.9 1190.0,316.3 1190.5,280.3 1191.1,297.0 1191.6,298.4 1192.1,283.7 1192.6,303.0 1193.2,294.5 1193.7,293.1 1194.2,255.0 1194.8,256.0 1195.3,283.6 1195.8,332.3 1196.3,308.5 1196.9,270.5 1197.4,282.4 1197.9,294.9 1198.4,269.4 1199.0,254.9 1199.5,275.9 1200.0,274.8 1200.5,302.3 1201.1,301.1 1201.6,325.6 1202.1,297.3 1202.7,316.5 1203.2,295.1 1203.7,288.7 1204.2,302.7 1204.8,309.3 1205.3,341.7 1205.8,312.0 1206.3,308.0 1206.9,259.5 1207.4,295.1 1207.9,275.1 1208.5,272.2 1209.0,297.4 1209.5,303.0 1210.0,290.1 1210.6,260.4 1211.1,274.5 1211.6,248.3 1212.1,224.8 1212.7,280.0 1213.2,268.0 1213.7,283.0 1214.2,293.5 1214.8,278.3 1215.3,324.6 1215.8,274.9 1216.4,307.3 1216.9,290.6 1217.4,286.6 1217.9,314.0 1218.5,308.9 1219.0,251.1 1219.5,309.8 1220.0,266.2 1220.6,263.6 1221.1,304.4 1221.6,295.1 1222.2,298.9 1222.7,265.2 1223.2,286.7 1223.7,265.6 1224.3,273.4 1224.8,250.0 1225.3,266.9 1225.8,284.3 1226.4,283.4 1226.9,258.3 1227.4,281.4 1228.0,262.8 1228.5,296.8 1229.0,285.5 1229.5,257.9 1230.1,259.2 1230.6,272.7 1231.1,283.1 1231.6,276.8 1232.2,330.8 1232.7,316.0 1233.2,338.1 1233.7,312.1 1234.3,298.6 1234.8,322.7 1235.3,299.3 1235.9,289.3 1236.4,261.5 1236.9,258.1 1237.4,268.6 1238.0,256.0 1238.5,316.9 1239.0,284.5 1239.5,275.8 1240.1,307.4 1240.6,280.7 1241.1,290.7 1241.7,287.9 1242.2,285.9 1242.7,258.9 1243.2,275.8 1243.8,277.5 1244.3,310.7 1244.8,283.4 1245.3,316.8 1245.9,242.0 1246.4,287.6 1246.9,289.7 1247.5,271.3 1248.0,274.7 1248.5,267.8 1249.0,292.6 1249.6,281.6 1250.1,280.5 1250.6,283.1 1251.1,288.0 1251.7,297.1 1252.2,285.8 1252.7,287.5 1253.2,271.2 1253.8,278.1 1254.3,283.5 1254.8,276.4 1255.4,242.0 1255.9,287.9 1256.4,294.2 1256.9,269.4 1257.5,292.5 1258.0,324.2 1258.5,247.4 1259.0,283.7 1259.6,302.9 1260.1,304.1 1260.6,296.1 1261.2,311.3 1261.7,315.7 1262.2,305.9 1262.7,307.1 1263.3,294.8 1263.8,255.7 1264.3,289.4 1264.8,277.6 1265.4,307.7 1265.9,277.0 1266.4,267.3 1267.0,292.9 1267.5,257.5 1268.0,283.5 1268.5,260.6 1269.1,286.3 1269.6,272.5 1270.1,242.2 1270.6,235.2 1271.2,276.6 1271.7,262.1 1272.2,261.9 1272.7,269.1 1273.3,249.6 1273.8,273.0 1274.3,268.6 1274.9,299.9 1275.4,279.2 1275.9,297.0 1276.4,320.7 1277.0,294.7 1277.5,316.5 1278.0,255.6 1278.5,296.3 1279.1,265.1 1279.6,263.0 1280.1,274.1 1280.7,287.4 1281.2,242.2 1281.7,264.8 1282.2,286.5 1282.8,258.7 1283.3,255.0 1283.8,256.6 1284.3,295.6 1284.9,253.8 1285.4,277.3 1285.9,261.0 1286.4,261.5 1287.0,260.9 1287.5,281.6 1288.0,241.7 1288.6,264.6 1289.1,250.4 1289.6,264.7 1290.1,290.4 1290.7,245.7 1291.2,255.0 1291.7,237.5 1292.2,255.4 1292.8,259.6 1293.3,251.5 1293.8,208.4 1294.4,252.9 1294.9,242.1 1295.4,236.4 1295.9,233.5 1296.5,302.9 1297.0,258.9 1297.5,240.1 1298.0,240.1 1298.6,277.2 1299.1,291.6 1299.6,280.6 1300.2,255.1 1300.7,250.4 1301.2,282.4 1301.7,241.1 1302.3,264.1 1302.8,231.4 1303.3,243.5 1303.8,213.0 1304.4,224.7 1304.9,232.3 1305.4,260.4 1305.9,227.3 1306.5,241.7 1307.0,252.2 1307.5,243.6 1308.1,232.5 1308.6,229.2 1309.1,233.4 1309.6,230.9 1310.2,234.1 1310.7,223.6 1311.2,248.7 1311.7,240.9 1312.3,240.5 1312.8,216.9 1313.3,235.1 1313.9,244.8 1314.4,235.1 1314.9,233.9 1315.4,245.3 1316.0,265.6 1316.5,255.5 1317.0,236.3 1317.5,252.7 1318.1,255.3 1318.6,247.0 1319.1,254.4 1319.7,249.6 1320.2,260.5 1320.7,211.8 1321.2,206.9 1321.8,237.6 1322.3,220.1 1322.8,234.9 1323.3,197.2 1323.9,249.6 1324.4,266.1 1324.9,236.5 1325.4,259.5 1326.0,221.5 1326.5,224.2 1327.0,247.9 1327.6,266.0 1328.1,256.1 1328.6,260.7 1329.1,266.9 1329.7,229.4 1330.2,222.8 1330.7,239.2 1331.2,258.9 1331.8,276.2 1332.3,263.9 1332.8,264.8 1333.4,255.3 1333.9,233.0 1334.4,209.2 1334.9,237.1 1335.5,252.9 1336.0,250.3 1336.5,262.8 1337.0,245.9 1337.6,253.6 1338.1,257.6 1338.6,226.2 1339.1,244.8 1339.7,229.8 1340.2,267.0 1340.7,298.0 1341.3,281.6 1341.8,270.6 1342.3,247.5 1342.8,264.8 1343.4,278.3 1343.9,253.9 1344.4,286.6 1344.9,257.7 1345.5,263.7 1346.0,270.3 1346.5,284.1 1347.1,239.9 1347.6,280.7 1348.1,245.3 1348.6,255.2 1349.2,251.1 1349.7,254.8 1350.2,230.3 1350.7,299.2 1351.3,261.9 1351.8,262.2 1352.3,261.1 1352.9,254.1 1353.4,274.1 1353.9,274.2 1354.4,286.4 1355.0,307.8 1355.5,283.3 1356.0,264.5 1356.5,281.6 1357.1,235.8 1357.6,259.0 1358.1,283.4 1358.6,255.6 1359.2,293.4 1359.7,275.4 1360.2,276.2 1360.8,286.9 1361.3,295.0 1361.8,267.5 1362.3,279.5 1362.9,276.6 1363.4,263.9 1363.9,259.8 1364.4,283.7 1365.0,277.6 1365.5,275.2 1366.0,240.7 1366.6,302.2 1367.1,290.1 1367.6,264.1 1368.1,267.3 1368.7,308.4 1369.2,267.0 1369.7,281.6 1370.2,285.1 1370.8,250.3 1371.3,225.1 1371.8,268.0 1372.3,255.4 1372.9,297.2 1373.4,279.2 1373.9,300.7 1374.5,273.3 1375.0,283.3 1375.5,257.3 1376.0,285.3 1376.6,306.4 1377.1,308.2 1377.6,311.1 1378.1,310.4 1378.7,329.6 1379.2,286.5 1379.7,306.2 1380.3,271.7 1380.8,275.1 1381.3,282.2 1381.8,270.2 1382.4,293.7 1382.9,252.2 1383.4,270.9 1383.9,269.0 1384.5,261.0 1385.0,249.1 1385.5,295.9 1386.1,320.3 1386.6,302.6 1387.1,280.3 1387.6,280.8 1388.2,284.6 1388.7,264.8 1389.2,277.1 1389.7,304.3 1390.3,265.5 1390.8,291.3 1391.3,286.9 1391.8,299.7 1392.4,298.0 1392.9,272.4 1393.4,294.6 1394.0,334.7 1394.5,323.4 1395.0,282.5 1395.5,315.5 1396.1,310.0 1396.6,294.5 1397.1,263.1 1397.6,306.5 1398.2,305.2 1398.7,269.3 1399.2,267.1 1399.8,318.1 1400.3,298.2 1400.8,299.1 1401.3,264.4 1401.9,299.0 1402.4,291.5 1402.9,283.7 1403.4,292.6 1404.0,294.5 1404.5,274.9 1405.0,263.3 1405.6,294.2 1406.1,262.9 1406.6,273.7 1407.1,268.5 1407.7,257.2 1408.2,300.3 1408.7,265.9 1409.2,272.7 1409.8,276.3 1410.3,253.8 1410.8,309.6 1411.3,291.0 1411.9,285.7 1412.4,298.2 1412.9,307.6 1413.5,281.8 1414.0,285.4 1414.5,279.5 1415.0,252.4 1415.6,284.4 1416.1,311.6 1416.6,331.8 1417.1,329.0 1417.7,298.9 1418.2,300.6 1418.7,280.1 1419.3,266.4 1419.8,268.0 1420.3,281.2 1420.8,268.4 1421.4,258.1 1421.9,252.4 1422.4,266.4 1422.9,321.0 1423.5,279.9 1424.0,263.3 1424.5,248.0 1425.0,246.1 1425.6,268.5 1426.1,288.0 1426.6,279.8 1427.2,257.0 1427.7,253.6 1428.2,265.7 1428.7,270.1 1429.3,261.5 1429.8,297.6 1430.3,287.2 1430.8,291.0 1431.4,279.3 1431.9,283.5 1432.4,281.4 1433.0,267.8 1433.5,263.7 1434.0,250.9 1434.5,296.3 1435.1,251.7 1435.6,277.6 1436.1,232.0 1436.6,259.7 1437.2,287.5 1437.7,266.9 1438.2,303.9 1438.8,273.5 1439.3,289.9 1439.8,272.8 1440.3,309.1 1440.9,283.2 1441.4,282.7 1441.9,266.8 1442.4,271.6 1443.0,246.9 1443.5,257.3 1444.0,263.6 1444.5,240.0 1445.1,231.6 1445.6,279.2 1446.1,290.5 1446.7,252.8 1447.2,256.8 1447.7,242.9 1448.2,237.8 1448.8,273.4 1449.3,274.0 1449.8,244.1 1450.3,230.0 1450.9,274.9 1451.4,267.4 1451.9,258.1 1452.5,276.9 1453.0,272.6 1453.5,278.5 1454.0,289.1 1454.6,292.7 1455.1,299.5 1455.6,274.4 1456.1,288.9 1456.7,298.8 1457.2,285.1 1457.7,293.8 1458.3,283.1 1458.8,311.5 1459.3,268.0 1459.8,278.0 1460.4,273.4 1460.9,262.9 1461.4,289.3 1461.9,302.0 1462.5,304.3 1463.0,270.0 1463.5,282.0 1464.0,260.2 1464.6,278.3 1465.1,250.2 1465.6,281.0 1466.2,255.6 1466.7,251.8 1467.2,292.9 1467.7,320.7 1468.3,250.4 1468.8,256.0 1469.3,282.2 1469.8,278.8 1470.4,285.6 1470.9,243.2 1471.4,277.3 1472.0,250.8 1472.5,294.3 1473.0,231.2 1473.5,257.7 1474.1,251.6 1474.6,238.6 1475.1,220.9 1475.6,247.8 1476.2,276.8 1476.7,289.8 1477.2,287.9 1477.8,267.7 1478.3,313.9 1478.8,274.7 1479.3,301.5 1479.9,264.4 1480.4,269.4 1480.9,291.1 1481.4,290.5 1482.0,256.2 1482.5,267.6 1483.0,234.2 1483.5,251.8 1484.1,296.0 1484.6,313.3 1485.1,249.1 1485.7,283.1 1486.2,283.3 1486.7,304.8 1487.2,268.8 1487.8,267.7 1488.3,280.5 1488.8,302.2 1489.3,262.6 1489.9,308.2 1490.4,304.8 1490.9,293.6 1491.5,313.2 1492.0,296.0 1492.5,269.9 1493.0,327.0 1493.6,249.6 1494.1,273.3 1494.6,265.1 1495.1,230.0 1495.7,263.3 1496.2,266.0 1496.7,273.8 1497.2,268.3 1497.8,272.0 1498.3,227.4 1498.8,258.0 1499.4,271.4 1499.9,269.6 1500.4,290.8 1500.9,274.6 1501.5,256.2 1502.0,263.0 1502.5,247.5 1503.0,296.9 1503.6,280.5 1504.1,259.9 1504.6,270.3 1505.2,271.6 1505.7,249.7 1506.2,296.4 1506.7,279.2 1507.3,314.5 1507.8,337.9 1508.3,305.8 1508.8,319.0 1509.4,293.8 1509.9,296.5 1510.4,296.0 1511.0,273.6 1511.5,282.5 1512.0,289.9 1512.5,274.6 1513.1,282.2 1513.6,293.8 1514.1,268.2 1514.6,252.6 1515.2,232.0 1515.7,245.2 1516.2,242.5 1516.7,269.3 1517.3,276.1 1517.8,267.0 1518.3,293.9 1518.9,289.4 1519.4,252.3 1519.9,254.0 1520.4,269.8 1521.0,247.3 1521.5,237.1 1522.0,247.3 1522.5,260.4 1523.1,273.4 1523.6,295.6 1524.1,279.6 1524.7,276.7 1525.2,246.1 1525.7,239.3 1526.2,269.9 1526.8,283.9 1527.3,238.8 1527.8,272.2 1528.3,270.7 1528.9,221.4 1529.4,305.8 1529.9,277.5 1530.4,293.3 1531.0,281.3 1531.5,293.0 1532.0,221.3 1532.6,234.7 1533.1,262.8 1533.6,241.4 1534.1,243.3 1534.7,250.8 1535.2,274.5 1535.7,262.7 1536.2,251.3 1536.8,262.3 1537.3,255.8 1537.8,276.7 1538.4,206.5 1538.9,248.2 1539.4,242.6 1539.9,269.2 1540.5,264.0 1541.0,222.1 1541.5,273.0 1542.0,282.2 1542.6,298.4 1543.1,294.2 1543.6,301.5 1544.2,295.7 1544.7,281.1 1545.2,304.6 1545.7,275.7 1546.3,289.3 1546.8,279.4 1547.3,270.8 1547.8,268.9 1548.4,259.4 1548.9,246.7 1549.4,249.4 1549.9,217.1 1550.5,262.1 1551.0,271.5 1551.5,243.3 1552.1,266.4 1552.6,289.8 1553.1,267.7 1553.6,265.9 1554.2,217.8 1554.7,264.2 1555.2,288.0 1555.7,253.8 1556.3,261.7 1556.8,264.1" fill="none" stroke="#ffff10" stroke-width="1.4" stroke-opacity="1.0"/></g>
<rect x="97.5" y="31.9" width="9" height="9" fill="#000"/>
<rect x="846.5" y="31.9" width="9" height="9" fill="#000"/>
<rect x="97.5" y="555.5" width="9" height="9" fill="#000"/>
<rect x="846.5" y="555.5" width="9" height="9" fill="#000"/>
<path d="M102 36.4V560M851 36.4V560" stroke="#7c7c7c" stroke-width="2.0" fill="none"/>
<path d="M101 36.4H852M101 560H852" stroke="#787878" stroke-width="2.0" fill="none"/>
<path d="M251.8 560v-15M251.8 36.4v15M401.6 560v-15M401.6 36.4v15M551.4 560v-15M551.4 36.4v15M701.2 560v-15M701.2 36.4v15M176.9 560v-7M176.9 36.4v7M326.7 560v-7M326.7 36.4v7M476.5 560v-7M476.5 36.4v7M626.3 560v-7M626.3 36.4v7M776.1 560v-7M776.1 36.4v7" stroke="#6a6a6a" stroke-width="1.8" fill="none"/>
<path d="M102 472.7h15M851 472.7h-15M102 385.5h15M851 385.5h-15M102 298.2h15M851 298.2h-15M102 210.9h15M851 210.9h-15M102 123.7h15M851 123.7h-15M102 516.4h7M851 516.4h-7M102 429.1h7M851 429.1h-7M102 341.8h7M851 341.8h-7M102 254.6h7M851 254.6h-7M102 167.3h7M851 167.3h-7M102 80h7M851 80h-7" stroke="#6a6a6a" stroke-width="1.8" fill="none"/>
<text transform="translate(102 583.5) scale(0.96 1.11)" text-anchor="middle" font-size="22">0</text>
<text transform="translate(251.8 583.5) scale(0.96 1.11)" text-anchor="middle" font-size="22">2</text>
<text transform="translate(401.6 583.5) scale(0.96 1.11)" text-anchor="middle" font-size="22">4</text>
<text transform="translate(551.4 583.5) scale(0.96 1.11)" text-anchor="middle" font-size="22">6</text>
<text transform="translate(701.2 583.5) scale(0.96 1.11)" text-anchor="middle" font-size="22">8</text>
<text transform="translate(851 583.5) scale(0.96 1.11)" text-anchor="middle" font-size="22">10</text>
<text transform="translate(94 568.3) scale(0.96 1.11)" text-anchor="end" font-size="22">0</text>
<text transform="translate(94 481) scale(0.96 1.11)" text-anchor="end" font-size="22">0.05</text>
<text transform="translate(94 393.7) scale(0.96 1.11)" text-anchor="end" font-size="22">0.1</text>
<text transform="translate(94 306.5) scale(0.96 1.11)" text-anchor="end" font-size="22">0.15</text>
<text transform="translate(94 219.2) scale(0.96 1.11)" text-anchor="end" font-size="22">0.2</text>
<text transform="translate(94 131.9) scale(0.96 1.11)" text-anchor="end" font-size="22">0.25</text>
<rect x="72.7" y="663.9" width="9" height="9" fill="#000"/>
<rect x="831.5" y="663.9" width="9" height="9" fill="#000"/>
<rect x="72.7" y="1194.7" width="9" height="9" fill="#000"/>
<rect x="831.5" y="1194.7" width="9" height="9" fill="#000"/>
<path d="M77.2 668.4V1199.2M836 668.4V1199.2" stroke="#7c7c7c" stroke-width="2.0" fill="none"/>
<path d="M76.2 668.4H837M76.2 1199.2H837" stroke="#5c5c5c" stroke-width="2.0" fill="none"/>
<path d="M203.7 1199.2v-15M203.7 668.4v15M330.1 1199.2v-15M330.1 668.4v15M456.6 1199.2v-15M456.6 668.4v15M583.1 1199.2v-15M583.1 668.4v15M709.5 1199.2v-15M709.5 668.4v15M140.4 1199.2v-7M140.4 668.4v7M266.9 1199.2v-7M266.9 668.4v7M393.4 1199.2v-7M393.4 668.4v7M519.8 1199.2v-7M519.8 668.4v7M646.3 1199.2v-7M646.3 668.4v7M772.8 1199.2v-7M772.8 668.4v7" stroke="#4a4a4a" stroke-width="1.5" fill="none"/>
<path d="M77.2 1066.5h15M836 1066.5h-15M77.2 933.8h15M836 933.8h-15M77.2 801.1h15M836 801.1h-15M77.2 1132.9h7M836 1132.9h-7M77.2 1000.1h7M836 1000.1h-7M77.2 867.5h7M836 867.5h-7M77.2 734.8h7M836 734.8h-7" stroke="#4a4a4a" stroke-width="1.5" fill="none"/>
<text transform="translate(77.2 1221.8) scale(0.97 1.09)" text-anchor="middle" font-size="22">0</text>
<text transform="translate(203.7 1221.8) scale(0.97 1.09)" text-anchor="middle" font-size="22">100</text>
<text transform="translate(330.1 1221.8) scale(0.97 1.09)" text-anchor="middle" font-size="22">200</text>
<text transform="translate(456.6 1221.8) scale(0.97 1.09)" text-anchor="middle" font-size="22">300</text>
<text transform="translate(583.1 1221.8) scale(0.97 1.09)" text-anchor="middle" font-size="22">400</text>
<text transform="translate(709.5 1221.8) scale(0.97 1.09)" text-anchor="middle" font-size="22">500</text>
<text transform="translate(836 1221.8) scale(0.97 1.09)" text-anchor="middle" font-size="22">600</text>
<text transform="translate(68.2 1207.3) scale(0.97 1.09)" text-anchor="end" font-size="22">0</text>
<text transform="translate(68.2 1074.6) scale(0.97 1.09)" text-anchor="end" font-size="22">0.1</text>
<text transform="translate(68.2 941.9) scale(0.97 1.09)" text-anchor="end" font-size="22">0.2</text>
<text transform="translate(68.2 809.2) scale(0.97 1.09)" text-anchor="end" font-size="22">0.3</text>
<text transform="translate(68.2 676.5) scale(0.97 1.09)" text-anchor="end" font-size="22">0.4</text>
<rect x="1024.8" y="14" width="10" height="10" fill="#000"/>
<rect x="1551.8" y="14" width="10" height="10" fill="#000"/>
<rect x="1024.8" y="627.6" width="10" height="10" fill="#000"/>
<rect x="1551.8" y="627.6" width="10" height="10" fill="#000"/>
<path d="M1029.8 19V632.6M1556.8 19V632.6" stroke="#7c7c7c" stroke-width="2.0" fill="none"/>
<path d="M1028.8 19H1557.8M1028.8 632.6H1557.8" stroke="#5c5c5c" stroke-width="2.0" fill="none"/>
<path d="M1135.2 632.6v-17M1135.2 19v17M1240.6 632.6v-17M1240.6 19v17M1346 632.6v-17M1346 19v17M1451.4 632.6v-17M1451.4 19v17M1082.5 632.6v-9M1082.5 19v9M1187.9 632.6v-9M1187.9 19v9M1293.3 632.6v-9M1293.3 19v9M1398.7 632.6v-9M1398.7 19v9M1504.1 632.6v-9M1504.1 19v9" stroke="#4a4a4a" stroke-width="1.5" fill="none"/>
<path d="M1029.8 479.2h17M1556.8 479.2h-17M1029.8 325.8h17M1556.8 325.8h-17M1029.8 172.4h17M1556.8 172.4h-17M1029.8 555.9h9M1556.8 555.9h-9M1029.8 402.5h9M1556.8 402.5h-9M1029.8 249.1h9M1556.8 249.1h-9M1029.8 95.7h9M1556.8 95.7h-9" stroke="#4a4a4a" stroke-width="1.5" fill="none"/>
<text transform="translate(1029.8 659.6) scale(1.0 1.05)" text-anchor="middle" font-size="24.5">0</text>
<text transform="translate(1135.2 659.6) scale(1.0 1.05)" text-anchor="middle" font-size="24.5">2000</text>
<text transform="translate(1240.6 659.6) scale(1.0 1.05)" text-anchor="middle" font-size="24.5">4000</text>
<text transform="translate(1346 659.6) scale(1.0 1.05)" text-anchor="middle" font-size="24.5">6000</text>
<text transform="translate(1451.4 659.6) scale(1.0 1.05)" text-anchor="middle" font-size="24.5">8000</text>
<text transform="translate(1556.8 659.6) scale(1.0 1.05)" text-anchor="middle" font-size="24.5">10000</text>
<text transform="translate(1019.8 641.3) scale(1.0 1.05)" text-anchor="end" font-size="24.5">2.36</text>
<text transform="translate(1019.8 487.9) scale(1.0 1.05)" text-anchor="end" font-size="24.5">2.4</text>
<text transform="translate(1019.8 334.5) scale(1.0 1.05)" text-anchor="end" font-size="24.5">2.44</text>
<text transform="translate(1019.8 181.1) scale(1.0 1.05)" text-anchor="end" font-size="24.5">2.48</text>
<text transform="translate(1019.8 27.7) scale(1.0 1.05)" text-anchor="end" font-size="24.5">2.52</text>
<text x="476" y="605" text-anchor="middle" font-size="21">Time (ns)</text>
<text transform="translate(47,298) rotate(-90)" text-anchor="middle" font-size="21">RMSD (nm)</text>
<text x="456" y="1244.5" text-anchor="middle" font-size="21">Residue</text>
<text transform="translate(30.5,932.5) rotate(-90)" text-anchor="middle" font-size="21">(nm)</text>
<text x="1293.5" y="685" text-anchor="middle" font-size="24.5">Time (ps)</text>
<text transform="translate(963,325.5) rotate(-90)" text-anchor="middle" font-size="24.5">Rg (nm)</text>
<text x="2" y="47.6" style="font-family:&quot;Liberation Sans&quot;,Arial,sans-serif;font-weight:bold" font-size="42">A</text>
<text x="0.2" y="669.6" style="font-family:&quot;Liberation Sans&quot;,Arial,sans-serif;font-weight:bold" font-size="42">B</text>
<text x="919.8" y="48.4" style="font-family:&quot;Liberation Sans&quot;,Arial,sans-serif;font-weight:bold" font-size="42">C</text>
<path d="M483.4 17h2.4l1 4h-4.4z" fill="#111"/>
<line x1="1039.6" y1="771.7" x2="1196.6" y2="771.7" stroke="#000000" stroke-width="3"/>
<text x="1205.7" y="780.9" font-size="28">Apo COX-2</text>
<line x1="1041" y1="816.2" x2="1197.6" y2="816.2" stroke="#a00000" stroke-width="3"/>
<text x="1205.7" y="821.8" font-size="28">Celecoxib</text>
<line x1="1041" y1="868.5" x2="1197.6" y2="868.5" stroke="#80f050" stroke-width="3"/>
<text x="1210.6" y="873.4" font-size="28">Rutin hydrate</text>
<line x1="1038.6" y1="920.8" x2="1195" y2="920.8" stroke="#0000d0" stroke-width="3"/>
<text x="1210.6" y="923.1" font-size="28">3,4 dihydroxy benzoic acid</text>
<line x1="1038" y1="971.2" x2="1195" y2="971.2" stroke="#ffff30" stroke-width="3"/>
<text x="1213.6" y="978.7" font-size="28">Myricetin</text>
</svg></body></html>
